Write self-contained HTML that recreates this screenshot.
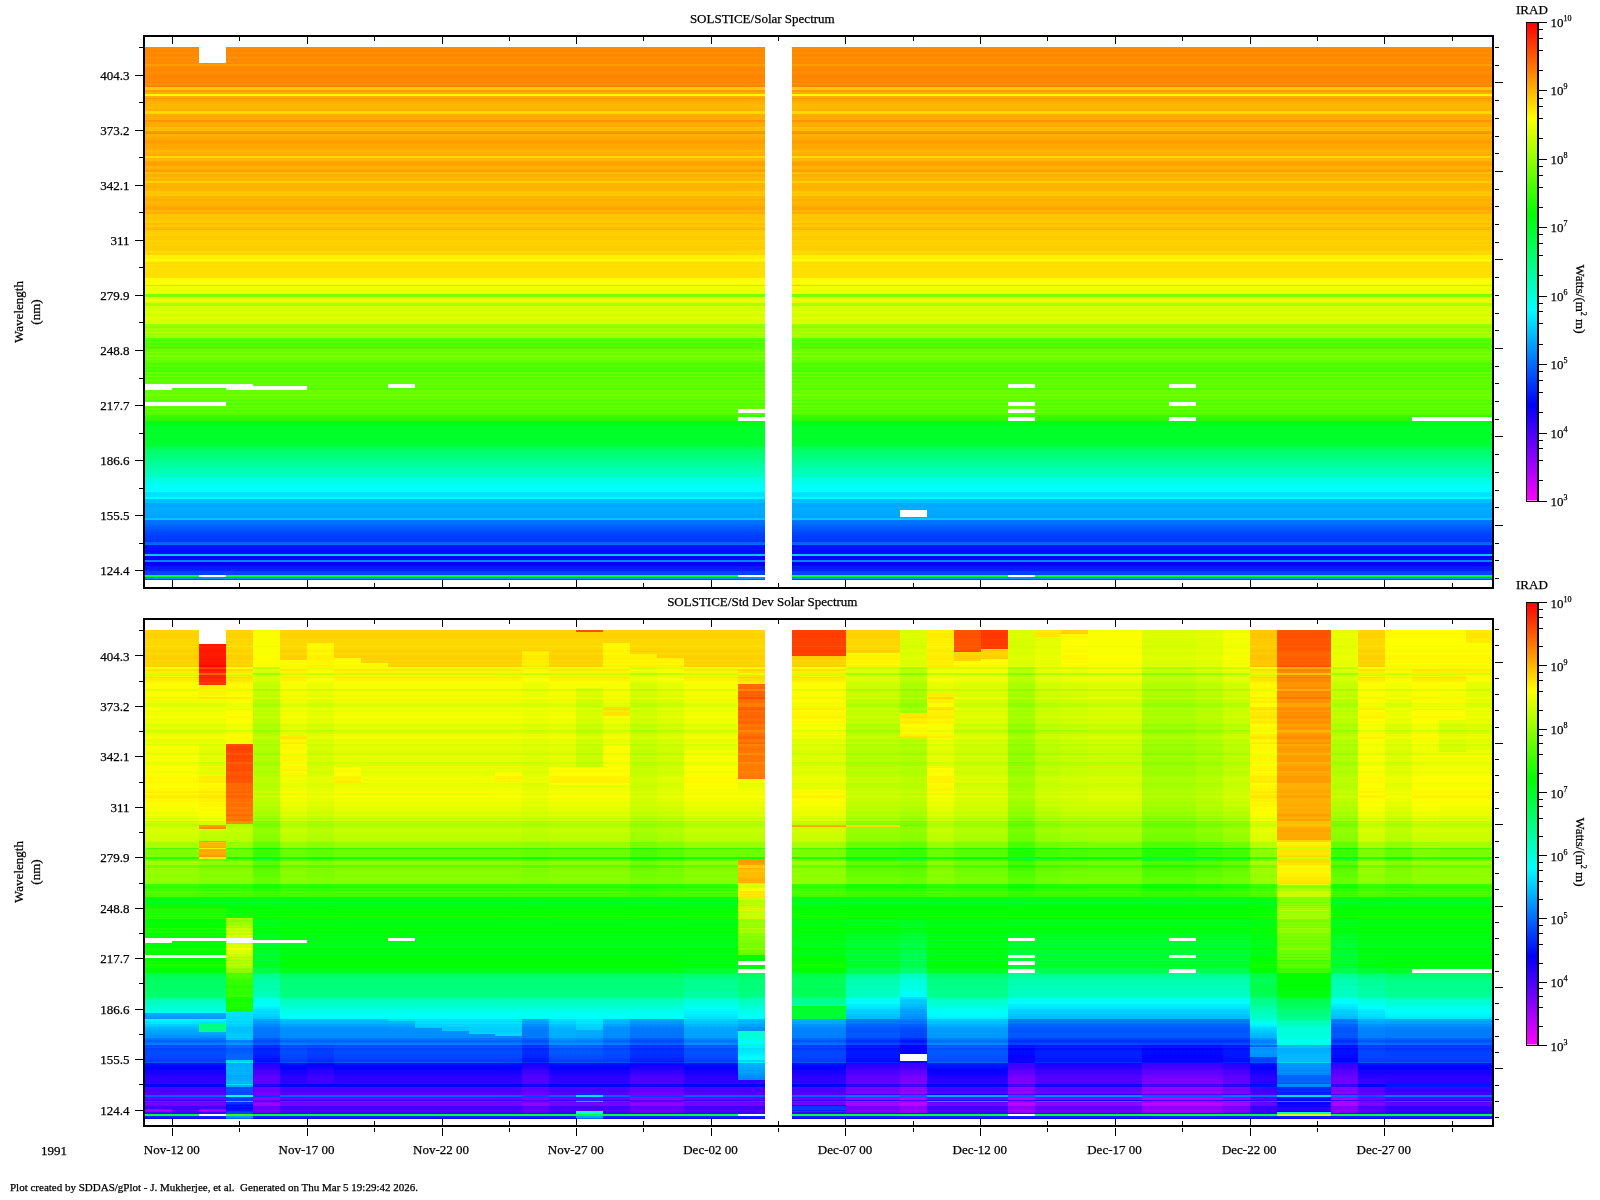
<!DOCTYPE html>
<html><head><meta charset="utf-8"><title>SOLSTICE Solar Spectrum</title>
<style>html,body{margin:0;padding:0;background:#fff}body{width:1600px;height:1200px;overflow:hidden;position:relative}svg{position:absolute;left:0;top:0}text{font-family:"Liberation Serif",serif;font-size:13px;fill:#000;stroke:#000;stroke-width:.25px}.s{font-size:8px}.f{font-size:11px}.d{shape-rendering:crispEdges}</style></head><body>
<svg width="1600" height="1200" viewBox="0 0 1600 1200">
<g class="d">
<rect x="145" y="47.00" width="1347.6" height="2.00" fill="#ff8a00"/>
<rect x="145" y="48.70" width="1347.6" height="2.00" fill="#ff8c00"/>
<rect x="145" y="50.40" width="1347.6" height="2.00" fill="#ff8600"/>
<rect x="145" y="52.10" width="1347.6" height="2.00" fill="#ff8d00"/>
<rect x="145" y="53.80" width="1347.6" height="2.00" fill="#ff8700"/>
<rect x="145" y="55.50" width="1347.6" height="2.00" fill="#ff8a00"/>
<rect x="145" y="57.20" width="1347.6" height="2.00" fill="#ff8e00"/>
<rect x="145" y="58.90" width="1347.6" height="2.00" fill="#ff8800"/>
<rect x="145" y="60.60" width="1347.6" height="2.00" fill="#ff8e00"/>
<rect x="145" y="62.30" width="1347.6" height="2.00" fill="#ff8900"/>
<rect x="145" y="64.00" width="1347.6" height="1.80" fill="#ff9c00"/>
<rect x="145" y="65.50" width="1347.6" height="2.09" fill="#ff8d00"/>
<rect x="145" y="67.29" width="1347.6" height="2.09" fill="#ff8900"/>
<rect x="145" y="69.08" width="1347.6" height="2.09" fill="#ff8400"/>
<rect x="145" y="70.88" width="1347.6" height="2.09" fill="#ff8d00"/>
<rect x="145" y="72.67" width="1347.6" height="2.09" fill="#ff8b00"/>
<rect x="145" y="74.46" width="1347.6" height="2.09" fill="#ff8600"/>
<rect x="145" y="76.25" width="1347.6" height="2.09" fill="#ff8200"/>
<rect x="145" y="78.04" width="1347.6" height="2.09" fill="#ff8700"/>
<rect x="145" y="79.83" width="1347.6" height="2.09" fill="#ff8900"/>
<rect x="145" y="81.62" width="1347.6" height="2.09" fill="#ff8200"/>
<rect x="145" y="83.42" width="1347.6" height="2.09" fill="#ff8e00"/>
<rect x="145" y="85.21" width="1347.6" height="2.09" fill="#ff8300"/>
<rect x="145" y="87.00" width="1347.6" height="1.80" fill="#ffcb00"/>
<rect x="145" y="88.50" width="1347.6" height="1.80" fill="#ffcc00"/>
<rect x="145" y="90.00" width="1347.6" height="2.30" fill="#ff9b00"/>
<rect x="145" y="92.00" width="1347.6" height="2.30" fill="#ffad00"/>
<rect x="145" y="94.00" width="1347.6" height="2.30" fill="#fffb00"/>
<rect x="145" y="96.00" width="1347.6" height="2.30" fill="#ffaf00"/>
<rect x="145" y="98.00" width="1347.6" height="1.30" fill="#ff9500"/>
<rect x="145" y="99.00" width="1347.6" height="1.95" fill="#ffa900"/>
<rect x="145" y="100.65" width="1347.6" height="1.95" fill="#ffac00"/>
<rect x="145" y="102.30" width="1347.6" height="2.10" fill="#ffb200"/>
<rect x="145" y="104.10" width="1347.6" height="3.90" fill="#ffb800"/>
<rect x="145" y="107.70" width="1347.6" height="2.10" fill="#ffb600"/>
<rect x="145" y="109.50" width="1347.6" height="2.10" fill="#ffb000"/>
<rect x="145" y="111.30" width="1347.6" height="2.90" fill="#ffd800"/>
<rect x="145" y="113.90" width="1347.6" height="1.90" fill="#ffac00"/>
<rect x="145" y="115.50" width="1347.6" height="1.90" fill="#ffa900"/>
<rect x="145" y="117.10" width="1347.6" height="1.90" fill="#ffab00"/>
<rect x="145" y="118.70" width="1347.6" height="1.90" fill="#ffad00"/>
<rect x="145" y="120.30" width="1347.6" height="2.30" fill="#ff9300"/>
<rect x="145" y="122.30" width="1347.6" height="1.80" fill="#ffa800"/>
<rect x="145" y="123.80" width="1347.6" height="1.80" fill="#ffae00"/>
<rect x="145" y="125.30" width="1347.6" height="1.80" fill="#ffaa00"/>
<rect x="145" y="126.80" width="1347.6" height="1.80" fill="#ffbf00"/>
<rect x="145" y="128.30" width="1347.6" height="1.80" fill="#ffba00"/>
<rect x="145" y="129.80" width="1347.6" height="1.80" fill="#ffbc00"/>
<rect x="145" y="131.30" width="1347.6" height="1.80" fill="#ff9900"/>
<rect x="145" y="132.80" width="1347.6" height="1.80" fill="#ff9000"/>
<rect x="145" y="134.30" width="1347.6" height="2.03" fill="#ffb000"/>
<rect x="145" y="136.03" width="1347.6" height="2.03" fill="#ffac00"/>
<rect x="145" y="137.77" width="1347.6" height="2.03" fill="#ffa800"/>
<rect x="145" y="139.50" width="1347.6" height="1.80" fill="#ffa000"/>
<rect x="145" y="141.00" width="1347.6" height="1.80" fill="#ff9c00"/>
<rect x="145" y="142.50" width="1347.6" height="1.80" fill="#ffa100"/>
<rect x="145" y="144.00" width="1347.6" height="2.30" fill="#ffa900"/>
<rect x="145" y="146.00" width="1347.6" height="2.30" fill="#ffa700"/>
<rect x="145" y="148.00" width="1347.6" height="2.30" fill="#ffaa00"/>
<rect x="145" y="150.00" width="1347.6" height="2.60" fill="#ffba00"/>
<rect x="145" y="152.30" width="1347.6" height="2.15" fill="#ffb200"/>
<rect x="145" y="154.15" width="1347.6" height="2.15" fill="#ffad00"/>
<rect x="145" y="156.00" width="1347.6" height="2.60" fill="#ffda00"/>
<rect x="145" y="158.30" width="1347.6" height="2.50" fill="#ffb900"/>
<rect x="145" y="160.50" width="1347.6" height="2.07" fill="#ffa600"/>
<rect x="145" y="162.27" width="1347.6" height="2.07" fill="#ffa100"/>
<rect x="145" y="164.03" width="1347.6" height="2.07" fill="#ffa000"/>
<rect x="145" y="165.80" width="1347.6" height="1.80" fill="#ffb500"/>
<rect x="145" y="167.30" width="1347.6" height="1.80" fill="#ffb300"/>
<rect x="145" y="168.80" width="1347.6" height="1.80" fill="#ffa600"/>
<rect x="145" y="170.30" width="1347.6" height="1.80" fill="#ff9e00"/>
<rect x="145" y="171.80" width="1347.6" height="2.50" fill="#ffc100"/>
<rect x="145" y="174.00" width="1347.6" height="2.00" fill="#ffaf00"/>
<rect x="145" y="175.70" width="1347.6" height="2.00" fill="#ffb100"/>
<rect x="145" y="177.40" width="1347.6" height="2.00" fill="#ffb800"/>
<rect x="145" y="179.10" width="1347.6" height="2.00" fill="#ffb700"/>
<rect x="145" y="180.80" width="1347.6" height="2.90" fill="#ffcf00"/>
<rect x="145" y="183.40" width="1347.6" height="2.27" fill="#ffb600"/>
<rect x="145" y="185.38" width="1347.6" height="2.28" fill="#ffb000"/>
<rect x="145" y="187.35" width="1347.6" height="2.27" fill="#ffb400"/>
<rect x="145" y="189.33" width="1347.6" height="2.27" fill="#ffb500"/>
<rect x="145" y="191.30" width="1347.6" height="1.80" fill="#ffc900"/>
<rect x="145" y="192.80" width="1347.6" height="1.80" fill="#ffc000"/>
<rect x="145" y="194.30" width="1347.6" height="1.80" fill="#ffc800"/>
<rect x="145" y="195.80" width="1347.6" height="2.05" fill="#ffb600"/>
<rect x="145" y="197.55" width="1347.6" height="2.05" fill="#ffb400"/>
<rect x="145" y="199.30" width="1347.6" height="2.05" fill="#ffae00"/>
<rect x="145" y="201.05" width="1347.6" height="2.05" fill="#ffb800"/>
<rect x="145" y="202.80" width="1347.6" height="2.05" fill="#ffb300"/>
<rect x="145" y="204.55" width="1347.6" height="2.05" fill="#ffb200"/>
<rect x="145" y="206.30" width="1347.6" height="2.00" fill="#ffa600"/>
<rect x="145" y="208.00" width="1347.6" height="2.30" fill="#ffa700"/>
<rect x="145" y="210.00" width="1347.6" height="2.30" fill="#ffb600"/>
<rect x="145" y="212.00" width="1347.6" height="2.30" fill="#ffae00"/>
<rect x="145" y="214.00" width="1347.6" height="2.30" fill="#ffc500"/>
<rect x="145" y="216.00" width="1347.6" height="2.30" fill="#ffc600"/>
<rect x="145" y="218.00" width="1347.6" height="1.97" fill="#ffc500"/>
<rect x="145" y="219.67" width="1347.6" height="1.97" fill="#ffc400"/>
<rect x="145" y="221.33" width="1347.6" height="1.97" fill="#ffce00"/>
<rect x="145" y="223.00" width="1347.6" height="2.30" fill="#ffbe00"/>
<rect x="145" y="225.00" width="1347.6" height="2.30" fill="#ffca00"/>
<rect x="145" y="227.00" width="1347.6" height="1.80" fill="#ffbb00"/>
<rect x="145" y="228.50" width="1347.6" height="1.80" fill="#ffb800"/>
<rect x="145" y="230.00" width="1347.6" height="2.30" fill="#ffcb00"/>
<rect x="145" y="232.00" width="1347.6" height="2.30" fill="#ffcf00"/>
<rect x="145" y="234.00" width="1347.6" height="2.30" fill="#ffd200"/>
<rect x="145" y="236.00" width="1347.6" height="2.30" fill="#ffca00"/>
<rect x="145" y="238.00" width="1347.6" height="2.30" fill="#ffcb00"/>
<rect x="145" y="240.00" width="1347.6" height="2.30" fill="#ffd300"/>
<rect x="145" y="242.00" width="1347.6" height="2.30" fill="#ffce00"/>
<rect x="145" y="244.00" width="1347.6" height="2.30" fill="#ffd100"/>
<rect x="145" y="246.00" width="1347.6" height="2.30" fill="#ffce00"/>
<rect x="145" y="248.00" width="1347.6" height="2.30" fill="#ffcd00"/>
<rect x="145" y="250.00" width="1347.6" height="1.97" fill="#ffd700"/>
<rect x="145" y="251.67" width="1347.6" height="1.97" fill="#ffde00"/>
<rect x="145" y="253.33" width="1347.6" height="1.97" fill="#ffd400"/>
<rect x="145" y="255.00" width="1347.6" height="2.30" fill="#fff100"/>
<rect x="145" y="257.00" width="1347.6" height="2.30" fill="#fff000"/>
<rect x="145" y="259.00" width="1347.6" height="2.30" fill="#fffb00"/>
<rect x="145" y="261.00" width="1347.6" height="1.30" fill="#fff100"/>
<rect x="145" y="262.00" width="1347.6" height="2.08" fill="#ffdd00"/>
<rect x="145" y="263.78" width="1347.6" height="2.08" fill="#ffe000"/>
<rect x="145" y="265.56" width="1347.6" height="2.08" fill="#ffda00"/>
<rect x="145" y="267.33" width="1347.6" height="3.86" fill="#ffe100"/>
<rect x="145" y="270.89" width="1347.6" height="2.08" fill="#ffdf00"/>
<rect x="145" y="272.67" width="1347.6" height="2.08" fill="#ffe000"/>
<rect x="145" y="274.44" width="1347.6" height="2.08" fill="#ffdd00"/>
<rect x="145" y="276.22" width="1347.6" height="2.08" fill="#ffe100"/>
<rect x="145" y="278.00" width="1347.6" height="2.05" fill="#f9ff00"/>
<rect x="145" y="279.75" width="1347.6" height="2.05" fill="#fbff00"/>
<rect x="145" y="281.50" width="1347.6" height="2.05" fill="#faff00"/>
<rect x="145" y="283.25" width="1347.6" height="2.05" fill="#fdff00"/>
<rect x="145" y="285.00" width="1347.6" height="1.30" fill="#a5ff00"/>
<rect x="145" y="286.00" width="1347.6" height="1.90" fill="#f4ff00"/>
<rect x="145" y="287.60" width="1347.6" height="1.90" fill="#f1ff00"/>
<rect x="145" y="289.20" width="1347.6" height="1.90" fill="#ebff00"/>
<rect x="145" y="290.80" width="1347.6" height="1.90" fill="#edff00"/>
<rect x="145" y="292.40" width="1347.6" height="1.90" fill="#eeff00"/>
<rect x="145" y="294.00" width="1347.6" height="1.80" fill="#7eff00"/>
<rect x="145" y="295.50" width="1347.6" height="1.80" fill="#7bff00"/>
<rect x="145" y="297.00" width="1347.6" height="2.30" fill="#e5ff00"/>
<rect x="145" y="299.00" width="1347.6" height="2.30" fill="#e7ff00"/>
<rect x="145" y="301.00" width="1347.6" height="2.30" fill="#e0ff00"/>
<rect x="145" y="303.00" width="1347.6" height="1.80" fill="#abff00"/>
<rect x="145" y="304.50" width="1347.6" height="1.80" fill="#a6ff00"/>
<rect x="145" y="306.00" width="1347.6" height="2.10" fill="#d6ff00"/>
<rect x="145" y="307.80" width="1347.6" height="2.10" fill="#d9ff00"/>
<rect x="145" y="309.60" width="1347.6" height="2.10" fill="#d8ff00"/>
<rect x="145" y="311.40" width="1347.6" height="2.10" fill="#dfff00"/>
<rect x="145" y="313.20" width="1347.6" height="2.10" fill="#d7ff00"/>
<rect x="145" y="315.00" width="1347.6" height="2.10" fill="#d5ff00"/>
<rect x="145" y="316.80" width="1347.6" height="2.10" fill="#e1ff00"/>
<rect x="145" y="318.60" width="1347.6" height="2.10" fill="#dcff00"/>
<rect x="145" y="320.40" width="1347.6" height="2.10" fill="#d7ff00"/>
<rect x="145" y="322.20" width="1347.6" height="2.10" fill="#dcff00"/>
<rect x="145" y="324.00" width="1347.6" height="2.30" fill="#9dff00"/>
<rect x="145" y="326.00" width="1347.6" height="2.30" fill="#8dff00"/>
<rect x="145" y="328.00" width="1347.6" height="2.30" fill="#a3ff00"/>
<rect x="145" y="330.00" width="1347.6" height="1.90" fill="#9fff00"/>
<rect x="145" y="331.60" width="1347.6" height="1.90" fill="#b6ff00"/>
<rect x="145" y="333.20" width="1347.6" height="1.90" fill="#a3ff00"/>
<rect x="145" y="334.80" width="1347.6" height="1.90" fill="#b4ff00"/>
<rect x="145" y="336.40" width="1347.6" height="1.90" fill="#a3ff00"/>
<rect x="145" y="338.00" width="1347.6" height="2.01" fill="#5aff00"/>
<rect x="145" y="339.71" width="1347.6" height="2.01" fill="#45ff00"/>
<rect x="145" y="341.43" width="1347.6" height="2.01" fill="#5aff00"/>
<rect x="145" y="343.14" width="1347.6" height="2.01" fill="#47ff00"/>
<rect x="145" y="344.86" width="1347.6" height="2.01" fill="#57ff00"/>
<rect x="145" y="346.57" width="1347.6" height="2.01" fill="#44ff00"/>
<rect x="145" y="348.29" width="1347.6" height="2.01" fill="#5cff00"/>
<rect x="145" y="350.00" width="1347.6" height="2.01" fill="#67ff00"/>
<rect x="145" y="351.71" width="1347.6" height="2.01" fill="#7eff00"/>
<rect x="145" y="353.43" width="1347.6" height="2.01" fill="#67ff00"/>
<rect x="145" y="355.14" width="1347.6" height="2.01" fill="#7eff00"/>
<rect x="145" y="356.86" width="1347.6" height="2.01" fill="#6bff00"/>
<rect x="145" y="358.57" width="1347.6" height="2.01" fill="#7cff00"/>
<rect x="145" y="360.29" width="1347.6" height="2.01" fill="#6aff00"/>
<rect x="145" y="362.00" width="1347.6" height="1.97" fill="#56ff00"/>
<rect x="145" y="363.67" width="1347.6" height="1.97" fill="#48ff00"/>
<rect x="145" y="365.33" width="1347.6" height="1.97" fill="#57ff00"/>
<rect x="145" y="367.00" width="1347.6" height="1.97" fill="#47ff00"/>
<rect x="145" y="368.67" width="1347.6" height="1.97" fill="#5aff00"/>
<rect x="145" y="370.33" width="1347.6" height="1.97" fill="#43ff00"/>
<rect x="145" y="372.00" width="1347.6" height="2.12" fill="#68ff00"/>
<rect x="145" y="373.82" width="1347.6" height="2.12" fill="#52ff00"/>
<rect x="145" y="375.64" width="1347.6" height="2.12" fill="#6bff00"/>
<rect x="145" y="377.45" width="1347.6" height="2.12" fill="#52ff00"/>
<rect x="145" y="379.27" width="1347.6" height="2.12" fill="#67ff00"/>
<rect x="145" y="381.09" width="1347.6" height="2.12" fill="#57ff00"/>
<rect x="145" y="382.91" width="1347.6" height="2.12" fill="#66ff00"/>
<rect x="145" y="384.73" width="1347.6" height="2.12" fill="#57ff00"/>
<rect x="145" y="386.55" width="1347.6" height="2.12" fill="#66ff00"/>
<rect x="145" y="388.36" width="1347.6" height="2.12" fill="#54ff00"/>
<rect x="145" y="390.18" width="1347.6" height="2.12" fill="#6aff00"/>
<rect x="145" y="392.00" width="1347.6" height="2.30" fill="#62ff00"/>
<rect x="145" y="394.00" width="1347.6" height="2.30" fill="#77ff00"/>
<rect x="145" y="396.00" width="1347.6" height="2.30" fill="#63ff00"/>
<rect x="145" y="398.00" width="1347.6" height="2.00" fill="#65ff00"/>
<rect x="145" y="399.70" width="1347.6" height="2.00" fill="#52ff00"/>
<rect x="145" y="401.40" width="1347.6" height="2.00" fill="#64ff00"/>
<rect x="145" y="403.10" width="1347.6" height="2.00" fill="#4dff00"/>
<rect x="145" y="404.80" width="1347.6" height="2.00" fill="#65ff00"/>
<rect x="145" y="406.50" width="1347.6" height="2.00" fill="#4eff00"/>
<rect x="145" y="408.20" width="1347.6" height="2.00" fill="#63ff00"/>
<rect x="145" y="409.90" width="1347.6" height="2.00" fill="#52ff00"/>
<rect x="145" y="411.60" width="1347.6" height="2.00" fill="#65ff00"/>
<rect x="145" y="413.30" width="1347.6" height="2.00" fill="#51ff00"/>
<rect x="145" y="415.00" width="1347.6" height="2.30" fill="#34ff00"/>
<rect x="145" y="417.00" width="1347.6" height="2.30" fill="#2fff00"/>
<rect x="145" y="419.00" width="1347.6" height="2.30" fill="#27ff00"/>
<rect x="145" y="421.00" width="1347.6" height="2.10" fill="#00ff13"/>
<rect x="145" y="422.80" width="1347.6" height="2.10" fill="#00ff11"/>
<rect x="145" y="424.60" width="1347.6" height="2.10" fill="#00ff19"/>
<rect x="145" y="426.40" width="1347.6" height="2.10" fill="#00ff25"/>
<rect x="145" y="428.20" width="1347.6" height="2.10" fill="#00ff2b"/>
<rect x="145" y="430.00" width="1347.6" height="2.00" fill="#00ff2e"/>
<rect x="145" y="431.70" width="1347.6" height="2.00" fill="#00ff25"/>
<rect x="145" y="433.40" width="1347.6" height="2.00" fill="#00ff27"/>
<rect x="145" y="435.10" width="1347.6" height="2.00" fill="#00ff31"/>
<rect x="145" y="436.80" width="1347.6" height="2.00" fill="#00ff29"/>
<rect x="145" y="438.50" width="1347.6" height="2.00" fill="#00ff28"/>
<rect x="145" y="440.20" width="1347.6" height="2.00" fill="#00ff2d"/>
<rect x="145" y="441.90" width="1347.6" height="2.00" fill="#00ff32"/>
<rect x="145" y="443.60" width="1347.6" height="2.00" fill="#00ff31"/>
<rect x="145" y="445.30" width="1347.6" height="2.00" fill="#00ff37"/>
<rect x="145" y="447.00" width="1347.6" height="0.40" fill="#00ff39"/>
<rect x="145" y="447.10" width="1347.6" height="2.14" fill="#00ff59"/>
<rect x="145" y="448.94" width="1347.6" height="2.14" fill="#00ff64"/>
<rect x="145" y="450.79" width="1347.6" height="2.14" fill="#00ff6d"/>
<rect x="145" y="452.63" width="1347.6" height="2.14" fill="#00ff6e"/>
<rect x="145" y="454.47" width="1347.6" height="2.14" fill="#00ff7c"/>
<rect x="145" y="456.31" width="1347.6" height="2.14" fill="#00ff7d"/>
<rect x="145" y="458.16" width="1347.6" height="2.14" fill="#00ff85"/>
<rect x="145" y="460.00" width="1347.6" height="2.17" fill="#00ff93"/>
<rect x="145" y="461.88" width="1347.6" height="2.17" fill="#00ff99"/>
<rect x="145" y="463.75" width="1347.6" height="2.17" fill="#00ff9f"/>
<rect x="145" y="465.62" width="1347.6" height="2.17" fill="#00ffa6"/>
<rect x="145" y="467.50" width="1347.6" height="2.17" fill="#00ffa8"/>
<rect x="145" y="469.38" width="1347.6" height="2.17" fill="#00ffb2"/>
<rect x="145" y="471.25" width="1347.6" height="2.17" fill="#00ffb7"/>
<rect x="145" y="473.12" width="1347.6" height="2.17" fill="#00ffc1"/>
<rect x="145" y="475.00" width="1347.6" height="1.97" fill="#00ffc0"/>
<rect x="145" y="476.67" width="1347.6" height="1.97" fill="#00ffd4"/>
<rect x="145" y="478.33" width="1347.6" height="1.97" fill="#00ffe0"/>
<rect x="145" y="480.00" width="1347.6" height="2.30" fill="#00ffe8"/>
<rect x="145" y="482.00" width="1347.6" height="2.30" fill="#00ffec"/>
<rect x="145" y="484.00" width="1347.6" height="2.30" fill="#00fff8"/>
<rect x="145" y="486.00" width="1347.6" height="2.30" fill="#00fff7"/>
<rect x="145" y="488.00" width="1347.6" height="4.30" fill="#00ffff"/>
<rect x="145" y="492.00" width="1347.6" height="1.97" fill="#00e6ff"/>
<rect x="145" y="493.67" width="1347.6" height="1.97" fill="#00dfff"/>
<rect x="145" y="495.33" width="1347.6" height="1.97" fill="#00e5ff"/>
<rect x="145" y="497.00" width="1347.6" height="2.30" fill="#00fbff"/>
<rect x="145" y="499.00" width="1347.6" height="2.30" fill="#00c0ff"/>
<rect x="145" y="501.00" width="1347.6" height="2.30" fill="#00beff"/>
<rect x="145" y="503.00" width="1347.6" height="2.30" fill="#00aaff"/>
<rect x="145" y="505.00" width="1347.6" height="2.05" fill="#00a9ff"/>
<rect x="145" y="506.75" width="1347.6" height="2.05" fill="#00adff"/>
<rect x="145" y="508.50" width="1347.6" height="2.05" fill="#00acff"/>
<rect x="145" y="510.25" width="1347.6" height="3.88" fill="#00abff"/>
<rect x="145" y="513.83" width="1347.6" height="2.13" fill="#00a6ff"/>
<rect x="145" y="515.67" width="1347.6" height="2.13" fill="#00a4ff"/>
<rect x="145" y="517.50" width="1347.6" height="0.80" fill="#0099ff"/>
<rect x="145" y="518.00" width="1347.6" height="1.80" fill="#00c8ff"/>
<rect x="145" y="519.50" width="1347.6" height="2.13" fill="#0078ff"/>
<rect x="145" y="521.33" width="1347.6" height="2.13" fill="#0070ff"/>
<rect x="145" y="523.17" width="1347.6" height="2.13" fill="#006eff"/>
<rect x="145" y="525.00" width="1347.6" height="2.05" fill="#0062ff"/>
<rect x="145" y="526.75" width="1347.6" height="2.05" fill="#005bff"/>
<rect x="145" y="528.50" width="1347.6" height="2.05" fill="#0056ff"/>
<rect x="145" y="530.25" width="1347.6" height="2.05" fill="#0050ff"/>
<rect x="145" y="532.00" width="1347.6" height="1.95" fill="#0045ff"/>
<rect x="145" y="533.65" width="1347.6" height="1.95" fill="#0044ff"/>
<rect x="145" y="535.30" width="1347.6" height="1.95" fill="#003fff"/>
<rect x="145" y="536.95" width="1347.6" height="1.95" fill="#003cff"/>
<rect x="145" y="538.60" width="1347.6" height="1.95" fill="#003bff"/>
<rect x="145" y="540.25" width="1347.6" height="1.95" fill="#0034ff"/>
<rect x="145" y="541.90" width="1347.6" height="0.40" fill="#0033ff"/>
<rect x="145" y="542.00" width="1347.6" height="1.80" fill="#0063ff"/>
<rect x="145" y="543.50" width="1347.6" height="1.80" fill="#0069ff"/>
<rect x="145" y="545.00" width="1347.6" height="2.04" fill="#0012ff"/>
<rect x="145" y="546.74" width="1347.6" height="2.04" fill="#0014ff"/>
<rect x="145" y="548.48" width="1347.6" height="2.04" fill="#0015ff"/>
<rect x="145" y="550.22" width="1347.6" height="2.04" fill="#000cff"/>
<rect x="145" y="551.96" width="1347.6" height="2.04" fill="#0010ff"/>
<rect x="145" y="553.70" width="1347.6" height="2.60" fill="#00c5ff"/>
<rect x="145" y="556.00" width="1347.6" height="2.30" fill="#0004ff"/>
<rect x="145" y="558.00" width="1347.6" height="2.30" fill="#0500ff"/>
<rect x="145" y="560.00" width="1347.6" height="2.30" fill="#0087ff"/>
<rect x="145" y="562.00" width="1347.6" height="2.30" fill="#0100ff"/>
<rect x="145" y="564.00" width="1347.6" height="2.30" fill="#0500ff"/>
<rect x="145" y="566.00" width="1347.6" height="1.97" fill="#001bff"/>
<rect x="145" y="567.67" width="1347.6" height="1.97" fill="#0019ff"/>
<rect x="145" y="569.33" width="1347.6" height="1.97" fill="#0021ff"/>
<rect x="145" y="571.00" width="1347.6" height="2.30" fill="#0041ff"/>
<rect x="145" y="573.00" width="1347.6" height="2.30" fill="#0042ff"/>
<rect x="145" y="575.00" width="1347.6" height="2.30" fill="#00ff23"/>
<rect x="145" y="577.00" width="1347.6" height="2.30" fill="#008fff"/>
<rect x="145" y="579.00" width="1347.6" height="1.30" fill="#0051ff"/>
<rect x="765.0" y="40.0" width="27.0" height="546.0" fill="#fff"/>
<rect x="199.0" y="46.0" width="27.0" height="17.0" fill="#fff"/>
<rect x="145.1" y="384.0" width="27.0" height="6.0" fill="#fff"/>
<rect x="172.1" y="384.0" width="53.9" height="4.0" fill="#fff"/>
<rect x="226.0" y="384.0" width="27.0" height="6.0" fill="#fff"/>
<rect x="252.9" y="386.0" width="53.9" height="4.0" fill="#fff"/>
<rect x="387.7" y="384.0" width="27.0" height="4.0" fill="#fff"/>
<rect x="145.1" y="402.0" width="80.9" height="4.0" fill="#fff"/>
<rect x="738.0" y="409.0" width="27.0" height="4.0" fill="#fff"/>
<rect x="738.0" y="417.0" width="27.0" height="4.0" fill="#fff"/>
<rect x="1007.6" y="384.0" width="27.0" height="4.0" fill="#fff"/>
<rect x="1007.6" y="402.0" width="27.0" height="4.0" fill="#fff"/>
<rect x="1007.6" y="409.0" width="27.0" height="4.0" fill="#fff"/>
<rect x="1007.6" y="417.0" width="27.0" height="4.0" fill="#fff"/>
<rect x="1169.3" y="384.0" width="27.0" height="4.0" fill="#fff"/>
<rect x="1169.3" y="402.0" width="27.0" height="4.0" fill="#fff"/>
<rect x="1169.3" y="417.0" width="27.0" height="4.0" fill="#fff"/>
<rect x="1411.8" y="417.0" width="80.9" height="4.0" fill="#fff"/>
<rect x="899.8" y="510.0" width="27.0" height="7.0" fill="#fff"/>
<rect x="199.0" y="575.0" width="27.0" height="2.0" fill="#fff"/>
<rect x="738.0" y="575.0" width="27.0" height="2.0" fill="#fff"/>
<rect x="1007.6" y="575.0" width="27.0" height="2.0" fill="#fff"/>
</g>
<defs><filter id="cm" x="0" y="0" width="1" height="1" color-interpolation-filters="sRGB"><feComponentTransfer><feFuncR type="table" tableValues="1 .5 0 0 0 0 0 .5 1 1 1 1 1 1"/><feFuncG type="table" tableValues="0 0 0 .5 1 1 1 1 1 .5 0 0 0 0"/><feFuncB type="table" tableValues="1 1 1 1 1 .5 0 0 0 0 0 0 0 0"/></feComponentTransfer></filter>
<linearGradient id="d0" gradientUnits="userSpaceOnUse" x1="0" x2="0" y1="629.9" y2="1119"><stop offset="0.0000" stop-color="#333333"/><stop offset="0.0002" stop-color="#333333"/><stop offset="0.0002" stop-color="#333333"/><stop offset="0.0750" stop-color="#333333"/><stop offset="0.0750" stop-color="#323232"/><stop offset="0.1024" stop-color="#313131"/><stop offset="0.1024" stop-color="#313131"/><stop offset="0.1270" stop-color="#343434"/><stop offset="0.1270" stop-color="#343434"/><stop offset="0.1433" stop-color="#363636"/><stop offset="0.1433" stop-color="#373737"/><stop offset="0.2353" stop-color="#373737"/><stop offset="0.2353" stop-color="#343434"/><stop offset="0.2967" stop-color="#343434"/><stop offset="0.2967" stop-color="#343434"/><stop offset="0.3273" stop-color="#2f2f2f"/><stop offset="0.3273" stop-color="#2f2f2f"/><stop offset="0.3478" stop-color="#2e2e2e"/><stop offset="0.3478" stop-color="#2e2e2e"/><stop offset="0.3785" stop-color="#313131"/><stop offset="0.3785" stop-color="#313131"/><stop offset="0.4398" stop-color="#343434"/><stop offset="0.4398" stop-color="#343434"/><stop offset="0.4459" stop-color="#343434"/><stop offset="0.4459" stop-color="#343434"/><stop offset="0.4461" stop-color="#373737"/><stop offset="0.4461" stop-color="#383838"/><stop offset="0.4705" stop-color="#383838"/><stop offset="0.4705" stop-color="#383838"/><stop offset="0.4725" stop-color="#383838"/><stop offset="0.4725" stop-color="#373737"/><stop offset="0.4727" stop-color="#323232"/><stop offset="0.4727" stop-color="#313131"/><stop offset="0.5175" stop-color="#333333"/><stop offset="0.5175" stop-color="#333333"/><stop offset="0.5216" stop-color="#363636"/><stop offset="0.5216" stop-color="#363636"/><stop offset="0.5481" stop-color="#363636"/><stop offset="0.5481" stop-color="#363636"/><stop offset="0.5625" stop-color="#373737"/><stop offset="0.5625" stop-color="#343434"/><stop offset="0.6136" stop-color="#333333"/><stop offset="0.6136" stop-color="#333333"/><stop offset="0.6442" stop-color="#373737"/><stop offset="0.6442" stop-color="#373737"/><stop offset="0.6749" stop-color="#343434"/><stop offset="0.6749" stop-color="#343434"/><stop offset="0.6954" stop-color="#303030"/><stop offset="0.6954" stop-color="#303030"/><stop offset="0.7567" stop-color="#313131"/><stop offset="0.7567" stop-color="#343434"/><stop offset="0.7823" stop-color="#343434"/><stop offset="0.7823" stop-color="#444444"/><stop offset="0.7949" stop-color="#434343"/><stop offset="0.7949" stop-color="#2b2b2b"/><stop offset="0.7951" stop-color="#323232"/><stop offset="0.7951" stop-color="#333333"/><stop offset="0.8323" stop-color="#383838"/><stop offset="0.8323" stop-color="#383838"/><stop offset="0.8385" stop-color="#3a3a3a"/><stop offset="0.8385" stop-color="#3a3a3a"/><stop offset="0.8426" stop-color="#3b3b3b"/><stop offset="0.8426" stop-color="#3b3b3b"/><stop offset="0.8630" stop-color="#363636"/><stop offset="0.8630" stop-color="#363636"/><stop offset="0.8835" stop-color="#373737"/><stop offset="0.8835" stop-color="#373737"/><stop offset="0.8957" stop-color="#383838"/><stop offset="0.8957" stop-color="#383838"/><stop offset="0.9203" stop-color="#383838"/><stop offset="0.9203" stop-color="#383838"/><stop offset="0.9407" stop-color="#353535"/><stop offset="0.9407" stop-color="#353535"/><stop offset="0.9571" stop-color="#383838"/><stop offset="0.9571" stop-color="#383838"/><stop offset="0.9612" stop-color="#383838"/><stop offset="0.9612" stop-color="#383838"/><stop offset="0.9614" stop-color="#303030"/><stop offset="0.9614" stop-color="#2f2f2f"/><stop offset="0.9661" stop-color="#2f2f2f"/><stop offset="0.9661" stop-color="#303030"/><stop offset="0.9663" stop-color="#383838"/><stop offset="0.9663" stop-color="#393939"/><stop offset="0.9693" stop-color="#3a3a3a"/><stop offset="0.9693" stop-color="#3a3a3a"/><stop offset="0.9775" stop-color="#353535"/><stop offset="0.9775" stop-color="#353535"/><stop offset="0.9796" stop-color="#353535"/><stop offset="0.9796" stop-color="#414141"/><stop offset="0.9824" stop-color="#414141"/><stop offset="0.9824" stop-color="#424242"/><stop offset="0.9826" stop-color="#454545"/><stop offset="0.9826" stop-color="#464646"/><stop offset="0.9857" stop-color="#464646"/><stop offset="0.9857" stop-color="#3a3a3a"/><stop offset="0.9898" stop-color="#3a3a3a"/><stop offset="0.9898" stop-color="#393939"/><stop offset="0.9900" stop-color="#2e2e2e"/><stop offset="0.9900" stop-color="#2c2c2c"/><stop offset="0.9937" stop-color="#2c2c2c"/><stop offset="0.9937" stop-color="#2d2d2d"/><stop offset="0.9939" stop-color="#363636"/><stop offset="0.9939" stop-color="#373737"/><stop offset="1.0000" stop-color="#373737"/></linearGradient>
<linearGradient id="d1" gradientUnits="userSpaceOnUse" x1="0" x2="0" y1="629.9" y2="1119"><stop offset="0.0000" stop-color="#333333"/><stop offset="0.0002" stop-color="#333333"/><stop offset="0.0002" stop-color="#333333"/><stop offset="0.0750" stop-color="#333333"/><stop offset="0.0750" stop-color="#323232"/><stop offset="0.1024" stop-color="#313131"/><stop offset="0.1024" stop-color="#313131"/><stop offset="0.1270" stop-color="#343434"/><stop offset="0.1270" stop-color="#343434"/><stop offset="0.1433" stop-color="#363636"/><stop offset="0.1433" stop-color="#373737"/><stop offset="0.2353" stop-color="#373737"/><stop offset="0.2353" stop-color="#343434"/><stop offset="0.2967" stop-color="#343434"/><stop offset="0.2967" stop-color="#343434"/><stop offset="0.3273" stop-color="#2f2f2f"/><stop offset="0.3273" stop-color="#2f2f2f"/><stop offset="0.3478" stop-color="#2e2e2e"/><stop offset="0.3478" stop-color="#2e2e2e"/><stop offset="0.3785" stop-color="#313131"/><stop offset="0.3785" stop-color="#313131"/><stop offset="0.4398" stop-color="#343434"/><stop offset="0.4398" stop-color="#343434"/><stop offset="0.4459" stop-color="#343434"/><stop offset="0.4459" stop-color="#343434"/><stop offset="0.4461" stop-color="#373737"/><stop offset="0.4461" stop-color="#383838"/><stop offset="0.4705" stop-color="#383838"/><stop offset="0.4705" stop-color="#383838"/><stop offset="0.4725" stop-color="#383838"/><stop offset="0.4725" stop-color="#373737"/><stop offset="0.4727" stop-color="#323232"/><stop offset="0.4727" stop-color="#313131"/><stop offset="0.5175" stop-color="#333333"/><stop offset="0.5175" stop-color="#333333"/><stop offset="0.5216" stop-color="#363636"/><stop offset="0.5216" stop-color="#363636"/><stop offset="0.5481" stop-color="#363636"/><stop offset="0.5481" stop-color="#363636"/><stop offset="0.5625" stop-color="#373737"/><stop offset="0.5625" stop-color="#343434"/><stop offset="0.6136" stop-color="#333333"/><stop offset="0.6136" stop-color="#333333"/><stop offset="0.6442" stop-color="#373737"/><stop offset="0.6442" stop-color="#373737"/><stop offset="0.6749" stop-color="#343434"/><stop offset="0.6749" stop-color="#343434"/><stop offset="0.6954" stop-color="#303030"/><stop offset="0.6954" stop-color="#303030"/><stop offset="0.7567" stop-color="#313131"/><stop offset="0.7567" stop-color="#343434"/><stop offset="0.7823" stop-color="#343434"/><stop offset="0.7823" stop-color="#444444"/><stop offset="0.7949" stop-color="#434343"/><stop offset="0.7949" stop-color="#2b2b2b"/><stop offset="0.7951" stop-color="#323232"/><stop offset="0.7951" stop-color="#333333"/><stop offset="0.8323" stop-color="#383838"/><stop offset="0.8323" stop-color="#383838"/><stop offset="0.8385" stop-color="#3a3a3a"/><stop offset="0.8385" stop-color="#3a3a3a"/><stop offset="0.8426" stop-color="#3b3b3b"/><stop offset="0.8426" stop-color="#3b3b3b"/><stop offset="0.8630" stop-color="#363636"/><stop offset="0.8630" stop-color="#363636"/><stop offset="0.8835" stop-color="#373737"/><stop offset="0.8835" stop-color="#373737"/><stop offset="0.8957" stop-color="#383838"/><stop offset="0.8957" stop-color="#383838"/><stop offset="0.9203" stop-color="#383838"/><stop offset="0.9203" stop-color="#383838"/><stop offset="0.9407" stop-color="#353535"/><stop offset="0.9407" stop-color="#353535"/><stop offset="0.9571" stop-color="#383838"/><stop offset="0.9571" stop-color="#383838"/><stop offset="0.9612" stop-color="#383838"/><stop offset="0.9612" stop-color="#383838"/><stop offset="0.9614" stop-color="#303030"/><stop offset="0.9614" stop-color="#2f2f2f"/><stop offset="0.9661" stop-color="#2f2f2f"/><stop offset="0.9661" stop-color="#303030"/><stop offset="0.9663" stop-color="#383838"/><stop offset="0.9663" stop-color="#393939"/><stop offset="0.9693" stop-color="#3a3a3a"/><stop offset="0.9693" stop-color="#3a3a3a"/><stop offset="0.9775" stop-color="#353535"/><stop offset="0.9775" stop-color="#353535"/><stop offset="0.9824" stop-color="#353535"/><stop offset="0.9824" stop-color="#363636"/><stop offset="0.9826" stop-color="#3a3a3a"/><stop offset="0.9826" stop-color="#3a3a3a"/><stop offset="0.9898" stop-color="#3a3a3a"/><stop offset="0.9898" stop-color="#393939"/><stop offset="0.9900" stop-color="#2e2e2e"/><stop offset="0.9900" stop-color="#2c2c2c"/><stop offset="0.9937" stop-color="#2c2c2c"/><stop offset="0.9937" stop-color="#2d2d2d"/><stop offset="0.9939" stop-color="#363636"/><stop offset="0.9939" stop-color="#373737"/><stop offset="1.0000" stop-color="#373737"/></linearGradient>
<linearGradient id="d2" gradientUnits="userSpaceOnUse" x1="0" x2="0" y1="629.9" y2="1119"><stop offset="0.0000" stop-color="#333333"/><stop offset="0.0002" stop-color="#333333"/><stop offset="0.0002" stop-color="#333333"/><stop offset="0.0288" stop-color="#333333"/><stop offset="0.0288" stop-color="#151515"/><stop offset="0.0350" stop-color="#161616"/><stop offset="0.0350" stop-color="#161616"/><stop offset="0.0411" stop-color="#161616"/><stop offset="0.0411" stop-color="#161616"/><stop offset="0.0472" stop-color="#161616"/><stop offset="0.0472" stop-color="#161616"/><stop offset="0.0534" stop-color="#171717"/><stop offset="0.0534" stop-color="#171717"/><stop offset="0.0595" stop-color="#161616"/><stop offset="0.0595" stop-color="#161616"/><stop offset="0.0656" stop-color="#161616"/><stop offset="0.0656" stop-color="#161616"/><stop offset="0.0718" stop-color="#141414"/><stop offset="0.0718" stop-color="#141414"/><stop offset="0.0750" stop-color="#141414"/><stop offset="0.0750" stop-color="#141414"/><stop offset="0.0779" stop-color="#141414"/><stop offset="0.0779" stop-color="#141414"/><stop offset="0.0840" stop-color="#121212"/><stop offset="0.0840" stop-color="#121212"/><stop offset="0.0902" stop-color="#131313"/><stop offset="0.0902" stop-color="#131313"/><stop offset="0.0963" stop-color="#131313"/><stop offset="0.0963" stop-color="#131313"/><stop offset="0.1024" stop-color="#131313"/><stop offset="0.1024" stop-color="#131313"/><stop offset="0.1086" stop-color="#131313"/><stop offset="0.1086" stop-color="#131313"/><stop offset="0.1127" stop-color="#131313"/><stop offset="0.1127" stop-color="#303030"/><stop offset="0.1270" stop-color="#323232"/><stop offset="0.1270" stop-color="#323232"/><stop offset="0.1433" stop-color="#343434"/><stop offset="0.1433" stop-color="#373737"/><stop offset="0.2967" stop-color="#373737"/><stop offset="0.2967" stop-color="#323232"/><stop offset="0.3273" stop-color="#2e2e2e"/><stop offset="0.3273" stop-color="#2e2e2e"/><stop offset="0.3478" stop-color="#2d2d2d"/><stop offset="0.3478" stop-color="#2d2d2d"/><stop offset="0.3785" stop-color="#2f2f2f"/><stop offset="0.3785" stop-color="#2f2f2f"/><stop offset="0.3989" stop-color="#303030"/><stop offset="0.3989" stop-color="#1a1a1a"/><stop offset="0.4050" stop-color="#1a1a1a"/><stop offset="0.4050" stop-color="#1a1a1a"/><stop offset="0.4071" stop-color="#1a1a1a"/><stop offset="0.4071" stop-color="#313131"/><stop offset="0.4091" stop-color="#313131"/><stop offset="0.4091" stop-color="#353535"/><stop offset="0.4316" stop-color="#373737"/><stop offset="0.4316" stop-color="#1d1d1d"/><stop offset="0.4377" stop-color="#1c1c1c"/><stop offset="0.4377" stop-color="#1c1c1c"/><stop offset="0.4398" stop-color="#1c1c1c"/><stop offset="0.4398" stop-color="#1c1c1c"/><stop offset="0.4439" stop-color="#1b1b1b"/><stop offset="0.4439" stop-color="#1a1a1a"/><stop offset="0.4459" stop-color="#1a1a1a"/><stop offset="0.4459" stop-color="#1a1a1a"/><stop offset="0.4461" stop-color="#1a1a1a"/><stop offset="0.4461" stop-color="#1a1a1a"/><stop offset="0.4500" stop-color="#181818"/><stop offset="0.4500" stop-color="#181818"/><stop offset="0.4561" stop-color="#171717"/><stop offset="0.4561" stop-color="#171717"/><stop offset="0.4623" stop-color="#161616"/><stop offset="0.4623" stop-color="#161616"/><stop offset="0.4684" stop-color="#141414"/><stop offset="0.4684" stop-color="#3b3b3b"/><stop offset="0.4725" stop-color="#3b3b3b"/><stop offset="0.4725" stop-color="#3a3a3a"/><stop offset="0.4727" stop-color="#353535"/><stop offset="0.4727" stop-color="#343434"/><stop offset="0.5175" stop-color="#343434"/><stop offset="0.5175" stop-color="#343434"/><stop offset="0.5216" stop-color="#383838"/><stop offset="0.5216" stop-color="#383838"/><stop offset="0.5481" stop-color="#373737"/><stop offset="0.5481" stop-color="#373737"/><stop offset="0.5625" stop-color="#373737"/><stop offset="0.5625" stop-color="#343434"/><stop offset="0.6136" stop-color="#333333"/><stop offset="0.6136" stop-color="#333333"/><stop offset="0.6442" stop-color="#373737"/><stop offset="0.6442" stop-color="#373737"/><stop offset="0.6749" stop-color="#343434"/><stop offset="0.6749" stop-color="#343434"/><stop offset="0.6954" stop-color="#303030"/><stop offset="0.6954" stop-color="#303030"/><stop offset="0.7567" stop-color="#313131"/><stop offset="0.7567" stop-color="#343434"/><stop offset="0.7823" stop-color="#343434"/><stop offset="0.7823" stop-color="#444444"/><stop offset="0.7949" stop-color="#434343"/><stop offset="0.7949" stop-color="#2b2b2b"/><stop offset="0.7951" stop-color="#323232"/><stop offset="0.7951" stop-color="#333333"/><stop offset="0.8027" stop-color="#343434"/><stop offset="0.8027" stop-color="#1d1d1d"/><stop offset="0.8088" stop-color="#1a1a1a"/><stop offset="0.8088" stop-color="#1a1a1a"/><stop offset="0.8150" stop-color="#181818"/><stop offset="0.8150" stop-color="#181818"/><stop offset="0.8211" stop-color="#161616"/><stop offset="0.8211" stop-color="#161616"/><stop offset="0.8231" stop-color="#161616"/><stop offset="0.8231" stop-color="#363636"/><stop offset="0.8323" stop-color="#383838"/><stop offset="0.8323" stop-color="#383838"/><stop offset="0.8385" stop-color="#3a3a3a"/><stop offset="0.8385" stop-color="#3a3a3a"/><stop offset="0.8426" stop-color="#3b3b3b"/><stop offset="0.8426" stop-color="#3b3b3b"/><stop offset="0.8630" stop-color="#363636"/><stop offset="0.8630" stop-color="#363636"/><stop offset="0.8835" stop-color="#373737"/><stop offset="0.8835" stop-color="#373737"/><stop offset="0.8957" stop-color="#383838"/><stop offset="0.8957" stop-color="#383838"/><stop offset="0.9203" stop-color="#383838"/><stop offset="0.9203" stop-color="#383838"/><stop offset="0.9407" stop-color="#353535"/><stop offset="0.9407" stop-color="#353535"/><stop offset="0.9571" stop-color="#383838"/><stop offset="0.9571" stop-color="#383838"/><stop offset="0.9612" stop-color="#383838"/><stop offset="0.9612" stop-color="#383838"/><stop offset="0.9614" stop-color="#303030"/><stop offset="0.9614" stop-color="#2f2f2f"/><stop offset="0.9661" stop-color="#2f2f2f"/><stop offset="0.9661" stop-color="#303030"/><stop offset="0.9663" stop-color="#383838"/><stop offset="0.9663" stop-color="#393939"/><stop offset="0.9693" stop-color="#3a3a3a"/><stop offset="0.9693" stop-color="#3a3a3a"/><stop offset="0.9775" stop-color="#353535"/><stop offset="0.9775" stop-color="#353535"/><stop offset="0.9796" stop-color="#353535"/><stop offset="0.9796" stop-color="#414141"/><stop offset="0.9824" stop-color="#414141"/><stop offset="0.9824" stop-color="#424242"/><stop offset="0.9826" stop-color="#454545"/><stop offset="0.9826" stop-color="#464646"/><stop offset="0.9857" stop-color="#464646"/><stop offset="0.9857" stop-color="#3a3a3a"/><stop offset="0.9898" stop-color="#3a3a3a"/><stop offset="0.9898" stop-color="#393939"/><stop offset="0.9900" stop-color="#2e2e2e"/><stop offset="0.9900" stop-color="#2c2c2c"/><stop offset="0.9937" stop-color="#2c2c2c"/><stop offset="0.9937" stop-color="#2d2d2d"/><stop offset="0.9939" stop-color="#363636"/><stop offset="0.9939" stop-color="#373737"/><stop offset="1.0000" stop-color="#373737"/></linearGradient>
<linearGradient id="d3" gradientUnits="userSpaceOnUse" x1="0" x2="0" y1="629.9" y2="1119"><stop offset="0.0000" stop-color="#333333"/><stop offset="0.0002" stop-color="#333333"/><stop offset="0.0002" stop-color="#333333"/><stop offset="0.0750" stop-color="#333333"/><stop offset="0.0750" stop-color="#313131"/><stop offset="0.1024" stop-color="#303030"/><stop offset="0.1024" stop-color="#303030"/><stop offset="0.1270" stop-color="#333333"/><stop offset="0.1270" stop-color="#333333"/><stop offset="0.1433" stop-color="#353535"/><stop offset="0.1433" stop-color="#353535"/><stop offset="0.2333" stop-color="#353535"/><stop offset="0.2333" stop-color="#161616"/><stop offset="0.2394" stop-color="#161616"/><stop offset="0.2394" stop-color="#161616"/><stop offset="0.2456" stop-color="#151515"/><stop offset="0.2456" stop-color="#151515"/><stop offset="0.2517" stop-color="#161616"/><stop offset="0.2517" stop-color="#161616"/><stop offset="0.2578" stop-color="#161616"/><stop offset="0.2578" stop-color="#161616"/><stop offset="0.2640" stop-color="#171717"/><stop offset="0.2640" stop-color="#171717"/><stop offset="0.2701" stop-color="#171717"/><stop offset="0.2701" stop-color="#171717"/><stop offset="0.2762" stop-color="#171717"/><stop offset="0.2762" stop-color="#171717"/><stop offset="0.2824" stop-color="#181818"/><stop offset="0.2824" stop-color="#181818"/><stop offset="0.2885" stop-color="#181818"/><stop offset="0.2885" stop-color="#181818"/><stop offset="0.2946" stop-color="#191919"/><stop offset="0.2946" stop-color="#191919"/><stop offset="0.2967" stop-color="#191919"/><stop offset="0.2967" stop-color="#191919"/><stop offset="0.3008" stop-color="#191919"/><stop offset="0.3008" stop-color="#191919"/><stop offset="0.3069" stop-color="#191919"/><stop offset="0.3069" stop-color="#191919"/><stop offset="0.3130" stop-color="#191919"/><stop offset="0.3130" stop-color="#191919"/><stop offset="0.3192" stop-color="#191919"/><stop offset="0.3192" stop-color="#191919"/><stop offset="0.3253" stop-color="#191919"/><stop offset="0.3253" stop-color="#191919"/><stop offset="0.3273" stop-color="#191919"/><stop offset="0.3273" stop-color="#191919"/><stop offset="0.3314" stop-color="#191919"/><stop offset="0.3314" stop-color="#191919"/><stop offset="0.3376" stop-color="#191919"/><stop offset="0.3376" stop-color="#191919"/><stop offset="0.3437" stop-color="#191919"/><stop offset="0.3437" stop-color="#191919"/><stop offset="0.3478" stop-color="#191919"/><stop offset="0.3478" stop-color="#191919"/><stop offset="0.3498" stop-color="#191919"/><stop offset="0.3498" stop-color="#191919"/><stop offset="0.3560" stop-color="#191919"/><stop offset="0.3560" stop-color="#191919"/><stop offset="0.3621" stop-color="#191919"/><stop offset="0.3621" stop-color="#191919"/><stop offset="0.3682" stop-color="#191919"/><stop offset="0.3682" stop-color="#191919"/><stop offset="0.3744" stop-color="#191919"/><stop offset="0.3744" stop-color="#191919"/><stop offset="0.3785" stop-color="#181818"/><stop offset="0.3785" stop-color="#181818"/><stop offset="0.3805" stop-color="#181818"/><stop offset="0.3805" stop-color="#181818"/><stop offset="0.3866" stop-color="#181818"/><stop offset="0.3866" stop-color="#181818"/><stop offset="0.3928" stop-color="#181818"/><stop offset="0.3928" stop-color="#181818"/><stop offset="0.3969" stop-color="#181818"/><stop offset="0.3969" stop-color="#353535"/><stop offset="0.4398" stop-color="#373737"/><stop offset="0.4398" stop-color="#373737"/><stop offset="0.4459" stop-color="#373737"/><stop offset="0.4459" stop-color="#373737"/><stop offset="0.4461" stop-color="#3a3a3a"/><stop offset="0.4461" stop-color="#3b3b3b"/><stop offset="0.4725" stop-color="#3b3b3b"/><stop offset="0.4725" stop-color="#3a3a3a"/><stop offset="0.4727" stop-color="#353535"/><stop offset="0.4727" stop-color="#343434"/><stop offset="0.5175" stop-color="#343434"/><stop offset="0.5175" stop-color="#343434"/><stop offset="0.5216" stop-color="#383838"/><stop offset="0.5216" stop-color="#383838"/><stop offset="0.5481" stop-color="#373737"/><stop offset="0.5481" stop-color="#373737"/><stop offset="0.5890" stop-color="#363636"/><stop offset="0.5890" stop-color="#1e1e1e"/><stop offset="0.5952" stop-color="#1d1d1d"/><stop offset="0.5952" stop-color="#1d1d1d"/><stop offset="0.6013" stop-color="#1b1b1b"/><stop offset="0.6013" stop-color="#1b1b1b"/><stop offset="0.6074" stop-color="#191919"/><stop offset="0.6074" stop-color="#191919"/><stop offset="0.6136" stop-color="#181818"/><stop offset="0.6136" stop-color="#181818"/><stop offset="0.6197" stop-color="#171717"/><stop offset="0.6197" stop-color="#171717"/><stop offset="0.6238" stop-color="#161616"/><stop offset="0.6238" stop-color="#121212"/><stop offset="0.6299" stop-color="#131313"/><stop offset="0.6299" stop-color="#131313"/><stop offset="0.6361" stop-color="#141414"/><stop offset="0.6361" stop-color="#141414"/><stop offset="0.6422" stop-color="#141414"/><stop offset="0.6422" stop-color="#141414"/><stop offset="0.6442" stop-color="#141414"/><stop offset="0.6442" stop-color="#141414"/><stop offset="0.6483" stop-color="#141414"/><stop offset="0.6483" stop-color="#141414"/><stop offset="0.6545" stop-color="#141414"/><stop offset="0.6545" stop-color="#141414"/><stop offset="0.6606" stop-color="#141414"/><stop offset="0.6606" stop-color="#141414"/><stop offset="0.6647" stop-color="#151515"/><stop offset="0.6647" stop-color="#171717"/><stop offset="0.6708" stop-color="#191919"/><stop offset="0.6708" stop-color="#191919"/><stop offset="0.6749" stop-color="#191919"/><stop offset="0.6749" stop-color="#191919"/><stop offset="0.6770" stop-color="#1a1a1a"/><stop offset="0.6770" stop-color="#1a1a1a"/><stop offset="0.6831" stop-color="#1a1a1a"/><stop offset="0.6831" stop-color="#1a1a1a"/><stop offset="0.6892" stop-color="#1a1a1a"/><stop offset="0.6892" stop-color="#1a1a1a"/><stop offset="0.6954" stop-color="#191919"/><stop offset="0.6954" stop-color="#191919"/><stop offset="0.7015" stop-color="#191919"/><stop offset="0.7015" stop-color="#191919"/><stop offset="0.7076" stop-color="#181818"/><stop offset="0.7076" stop-color="#181818"/><stop offset="0.7138" stop-color="#181818"/><stop offset="0.7138" stop-color="#181818"/><stop offset="0.7199" stop-color="#181818"/><stop offset="0.7199" stop-color="#181818"/><stop offset="0.7260" stop-color="#191919"/><stop offset="0.7260" stop-color="#1b1b1b"/><stop offset="0.7322" stop-color="#1a1a1a"/><stop offset="0.7322" stop-color="#1a1a1a"/><stop offset="0.7383" stop-color="#191919"/><stop offset="0.7383" stop-color="#191919"/><stop offset="0.7444" stop-color="#181818"/><stop offset="0.7444" stop-color="#181818"/><stop offset="0.7506" stop-color="#161616"/><stop offset="0.7506" stop-color="#161616"/><stop offset="0.7567" stop-color="#141414"/><stop offset="0.7567" stop-color="#141414"/><stop offset="0.7628" stop-color="#121212"/><stop offset="0.7628" stop-color="#121212"/><stop offset="0.7690" stop-color="#101010"/><stop offset="0.7690" stop-color="#101010"/><stop offset="0.7751" stop-color="#0e0e0e"/><stop offset="0.7751" stop-color="#0e0e0e"/><stop offset="0.7812" stop-color="#0c0c0c"/><stop offset="0.7812" stop-color="#3b3b3b"/><stop offset="0.7874" stop-color="#3a3a3a"/><stop offset="0.7874" stop-color="#3a3a3a"/><stop offset="0.7935" stop-color="#393939"/><stop offset="0.7935" stop-color="#393939"/><stop offset="0.7949" stop-color="#383838"/><stop offset="0.7949" stop-color="#383838"/><stop offset="0.7951" stop-color="#383838"/><stop offset="0.7951" stop-color="#383838"/><stop offset="0.7996" stop-color="#373737"/><stop offset="0.7996" stop-color="#373737"/><stop offset="0.8058" stop-color="#363636"/><stop offset="0.8058" stop-color="#353535"/><stop offset="0.8119" stop-color="#343434"/><stop offset="0.8119" stop-color="#343434"/><stop offset="0.8180" stop-color="#333333"/><stop offset="0.8180" stop-color="#333333"/><stop offset="0.8242" stop-color="#313131"/><stop offset="0.8242" stop-color="#313131"/><stop offset="0.8303" stop-color="#303030"/><stop offset="0.8303" stop-color="#303030"/><stop offset="0.8323" stop-color="#2f2f2f"/><stop offset="0.8323" stop-color="#2f2f2f"/><stop offset="0.8364" stop-color="#2e2e2e"/><stop offset="0.8364" stop-color="#2e2e2e"/><stop offset="0.8385" stop-color="#2e2e2e"/><stop offset="0.8385" stop-color="#373737"/><stop offset="0.8426" stop-color="#373737"/><stop offset="0.8426" stop-color="#373737"/><stop offset="0.8446" stop-color="#363636"/><stop offset="0.8446" stop-color="#363636"/><stop offset="0.8507" stop-color="#353535"/><stop offset="0.8507" stop-color="#353535"/><stop offset="0.8569" stop-color="#343434"/><stop offset="0.8569" stop-color="#343434"/><stop offset="0.8630" stop-color="#343434"/><stop offset="0.8630" stop-color="#343434"/><stop offset="0.8691" stop-color="#323232"/><stop offset="0.8691" stop-color="#323232"/><stop offset="0.8753" stop-color="#323232"/><stop offset="0.8753" stop-color="#323232"/><stop offset="0.8794" stop-color="#313131"/><stop offset="0.8794" stop-color="#212121"/><stop offset="0.8855" stop-color="#202020"/><stop offset="0.8855" stop-color="#202020"/><stop offset="0.8916" stop-color="#1e1e1e"/><stop offset="0.8916" stop-color="#1e1e1e"/><stop offset="0.8957" stop-color="#1c1c1c"/><stop offset="0.8957" stop-color="#1c1c1c"/><stop offset="0.8978" stop-color="#1c1c1c"/><stop offset="0.8978" stop-color="#1c1c1c"/><stop offset="0.9039" stop-color="#191919"/><stop offset="0.9039" stop-color="#191919"/><stop offset="0.9100" stop-color="#181818"/><stop offset="0.9100" stop-color="#181818"/><stop offset="0.9162" stop-color="#171717"/><stop offset="0.9162" stop-color="#171717"/><stop offset="0.9203" stop-color="#161616"/><stop offset="0.9203" stop-color="#161616"/><stop offset="0.9223" stop-color="#151515"/><stop offset="0.9223" stop-color="#151515"/><stop offset="0.9284" stop-color="#141414"/><stop offset="0.9284" stop-color="#141414"/><stop offset="0.9305" stop-color="#141414"/><stop offset="0.9305" stop-color="#1c1c1c"/><stop offset="0.9366" stop-color="#1e1e1e"/><stop offset="0.9366" stop-color="#1e1e1e"/><stop offset="0.9407" stop-color="#1e1e1e"/><stop offset="0.9407" stop-color="#1e1e1e"/><stop offset="0.9428" stop-color="#1e1e1e"/><stop offset="0.9428" stop-color="#1e1e1e"/><stop offset="0.9489" stop-color="#1e1e1e"/><stop offset="0.9489" stop-color="#1e1e1e"/><stop offset="0.9550" stop-color="#1e1e1e"/><stop offset="0.9550" stop-color="#1e1e1e"/><stop offset="0.9571" stop-color="#1e1e1e"/><stop offset="0.9571" stop-color="#1e1e1e"/><stop offset="0.9612" stop-color="#1e1e1e"/><stop offset="0.9612" stop-color="#1e1e1e"/><stop offset="0.9614" stop-color="#1e1e1e"/><stop offset="0.9614" stop-color="#1e1e1e"/><stop offset="0.9661" stop-color="#1f1f1f"/><stop offset="0.9661" stop-color="#1f1f1f"/><stop offset="0.9663" stop-color="#1f1f1f"/><stop offset="0.9663" stop-color="#1f1f1f"/><stop offset="0.9673" stop-color="#1f1f1f"/><stop offset="0.9673" stop-color="#1f1f1f"/><stop offset="0.9693" stop-color="#202020"/><stop offset="0.9693" stop-color="#202020"/><stop offset="0.9734" stop-color="#282828"/><stop offset="0.9734" stop-color="#282828"/><stop offset="0.9775" stop-color="#2a2a2a"/><stop offset="0.9775" stop-color="#2a2a2a"/><stop offset="0.9796" stop-color="#292929"/><stop offset="0.9796" stop-color="#292929"/><stop offset="0.9824" stop-color="#282828"/><stop offset="0.9824" stop-color="#282828"/><stop offset="0.9826" stop-color="#282828"/><stop offset="0.9826" stop-color="#282828"/><stop offset="0.9857" stop-color="#292929"/><stop offset="0.9857" stop-color="#262626"/><stop offset="0.9898" stop-color="#262626"/><stop offset="0.9898" stop-color="#252525"/><stop offset="0.9900" stop-color="#1a1a1a"/><stop offset="0.9900" stop-color="#191919"/><stop offset="0.9937" stop-color="#191919"/><stop offset="0.9937" stop-color="#1a1a1a"/><stop offset="0.9939" stop-color="#222222"/><stop offset="0.9939" stop-color="#252525"/><stop offset="1.0000" stop-color="#252525"/></linearGradient>
<linearGradient id="d4" gradientUnits="userSpaceOnUse" x1="0" x2="0" y1="629.9" y2="1119"><stop offset="0.0000" stop-color="#333333"/><stop offset="0.0002" stop-color="#333333"/><stop offset="0.0002" stop-color="#3a3a3a"/><stop offset="0.0750" stop-color="#3a3a3a"/><stop offset="0.0750" stop-color="#3b3b3b"/><stop offset="0.1024" stop-color="#3a3a3a"/><stop offset="0.1024" stop-color="#3a3a3a"/><stop offset="0.1270" stop-color="#3d3d3d"/><stop offset="0.1270" stop-color="#3d3d3d"/><stop offset="0.1433" stop-color="#3f3f3f"/><stop offset="0.1433" stop-color="#3f3f3f"/><stop offset="0.2967" stop-color="#3f3f3f"/><stop offset="0.2967" stop-color="#3f3f3f"/><stop offset="0.3273" stop-color="#3a3a3a"/><stop offset="0.3273" stop-color="#3a3a3a"/><stop offset="0.3478" stop-color="#393939"/><stop offset="0.3478" stop-color="#393939"/><stop offset="0.3785" stop-color="#3c3c3c"/><stop offset="0.3785" stop-color="#3c3c3c"/><stop offset="0.4398" stop-color="#3f3f3f"/><stop offset="0.4398" stop-color="#3f3f3f"/><stop offset="0.4459" stop-color="#3f3f3f"/><stop offset="0.4459" stop-color="#3f3f3f"/><stop offset="0.4461" stop-color="#424242"/><stop offset="0.4461" stop-color="#434343"/><stop offset="0.4705" stop-color="#434343"/><stop offset="0.4705" stop-color="#434343"/><stop offset="0.4725" stop-color="#434343"/><stop offset="0.4725" stop-color="#424242"/><stop offset="0.4727" stop-color="#3c3c3c"/><stop offset="0.4727" stop-color="#3c3c3c"/><stop offset="0.5175" stop-color="#383838"/><stop offset="0.5175" stop-color="#383838"/><stop offset="0.5216" stop-color="#3b3b3b"/><stop offset="0.5216" stop-color="#3b3b3b"/><stop offset="0.5481" stop-color="#383838"/><stop offset="0.5481" stop-color="#383838"/><stop offset="0.5625" stop-color="#373737"/><stop offset="0.5625" stop-color="#373737"/><stop offset="0.6136" stop-color="#383838"/><stop offset="0.6136" stop-color="#383838"/><stop offset="0.6442" stop-color="#3d3d3d"/><stop offset="0.6442" stop-color="#3d3d3d"/><stop offset="0.6749" stop-color="#3c3c3c"/><stop offset="0.6749" stop-color="#3c3c3c"/><stop offset="0.6954" stop-color="#393939"/><stop offset="0.6954" stop-color="#393939"/><stop offset="0.7363" stop-color="#3c3c3c"/><stop offset="0.7363" stop-color="#3c3c3c"/><stop offset="0.7567" stop-color="#3c3c3c"/><stop offset="0.7567" stop-color="#3c3c3c"/><stop offset="0.7949" stop-color="#3c3c3c"/><stop offset="0.7949" stop-color="#393939"/><stop offset="0.7951" stop-color="#404040"/><stop offset="0.7951" stop-color="#414141"/><stop offset="0.8323" stop-color="#3d3d3d"/><stop offset="0.8323" stop-color="#3d3d3d"/><stop offset="0.8385" stop-color="#3e3e3e"/><stop offset="0.8385" stop-color="#3e3e3e"/><stop offset="0.8426" stop-color="#3f3f3f"/><stop offset="0.8426" stop-color="#3f3f3f"/><stop offset="0.8630" stop-color="#3c3c3c"/><stop offset="0.8630" stop-color="#3c3c3c"/><stop offset="0.8835" stop-color="#3f3f3f"/><stop offset="0.8835" stop-color="#3f3f3f"/><stop offset="0.8957" stop-color="#404040"/><stop offset="0.8957" stop-color="#404040"/><stop offset="0.9162" stop-color="#404040"/><stop offset="0.9162" stop-color="#404040"/><stop offset="0.9203" stop-color="#404040"/><stop offset="0.9203" stop-color="#404040"/><stop offset="0.9346" stop-color="#3c3c3c"/><stop offset="0.9346" stop-color="#3c3c3c"/><stop offset="0.9407" stop-color="#3a3a3a"/><stop offset="0.9407" stop-color="#3a3a3a"/><stop offset="0.9571" stop-color="#3e3e3e"/><stop offset="0.9571" stop-color="#3e3e3e"/><stop offset="0.9612" stop-color="#3e3e3e"/><stop offset="0.9612" stop-color="#3d3d3d"/><stop offset="0.9614" stop-color="#363636"/><stop offset="0.9614" stop-color="#353535"/><stop offset="0.9661" stop-color="#353535"/><stop offset="0.9661" stop-color="#363636"/><stop offset="0.9663" stop-color="#3e3e3e"/><stop offset="0.9663" stop-color="#3f3f3f"/><stop offset="0.9693" stop-color="#404040"/><stop offset="0.9693" stop-color="#404040"/><stop offset="0.9775" stop-color="#3b3b3b"/><stop offset="0.9775" stop-color="#3b3b3b"/><stop offset="0.9824" stop-color="#3b3b3b"/><stop offset="0.9824" stop-color="#3c3c3c"/><stop offset="0.9826" stop-color="#3f3f3f"/><stop offset="0.9826" stop-color="#404040"/><stop offset="0.9877" stop-color="#404040"/><stop offset="0.9877" stop-color="#3a3a3a"/><stop offset="0.9898" stop-color="#3a3a3a"/><stop offset="0.9898" stop-color="#393939"/><stop offset="0.9900" stop-color="#2e2e2e"/><stop offset="0.9900" stop-color="#2c2c2c"/><stop offset="0.9937" stop-color="#2c2c2c"/><stop offset="0.9937" stop-color="#2d2d2d"/><stop offset="0.9939" stop-color="#363636"/><stop offset="0.9939" stop-color="#373737"/><stop offset="1.0000" stop-color="#373737"/></linearGradient>
<linearGradient id="d5" gradientUnits="userSpaceOnUse" x1="0" x2="0" y1="629.9" y2="1119"><stop offset="0.0000" stop-color="#333333"/><stop offset="0.0002" stop-color="#333333"/><stop offset="0.0002" stop-color="#333333"/><stop offset="0.0615" stop-color="#333333"/><stop offset="0.0615" stop-color="#393939"/><stop offset="0.0750" stop-color="#393939"/><stop offset="0.0750" stop-color="#333333"/><stop offset="0.1024" stop-color="#323232"/><stop offset="0.1024" stop-color="#323232"/><stop offset="0.1270" stop-color="#353535"/><stop offset="0.1270" stop-color="#353535"/><stop offset="0.1433" stop-color="#373737"/><stop offset="0.1433" stop-color="#373737"/><stop offset="0.2149" stop-color="#373737"/><stop offset="0.2149" stop-color="#323232"/><stop offset="0.2967" stop-color="#323232"/><stop offset="0.2967" stop-color="#373737"/><stop offset="0.3273" stop-color="#323232"/><stop offset="0.3273" stop-color="#323232"/><stop offset="0.3478" stop-color="#313131"/><stop offset="0.3478" stop-color="#313131"/><stop offset="0.3785" stop-color="#343434"/><stop offset="0.3785" stop-color="#343434"/><stop offset="0.4398" stop-color="#373737"/><stop offset="0.4398" stop-color="#373737"/><stop offset="0.4459" stop-color="#373737"/><stop offset="0.4459" stop-color="#373737"/><stop offset="0.4461" stop-color="#3a3a3a"/><stop offset="0.4461" stop-color="#3b3b3b"/><stop offset="0.4725" stop-color="#3b3b3b"/><stop offset="0.4725" stop-color="#3a3a3a"/><stop offset="0.4727" stop-color="#353535"/><stop offset="0.4727" stop-color="#343434"/><stop offset="0.5175" stop-color="#343434"/><stop offset="0.5175" stop-color="#343434"/><stop offset="0.5216" stop-color="#383838"/><stop offset="0.5216" stop-color="#383838"/><stop offset="0.5481" stop-color="#373737"/><stop offset="0.5481" stop-color="#373737"/><stop offset="0.6136" stop-color="#363636"/><stop offset="0.6136" stop-color="#363636"/><stop offset="0.6442" stop-color="#3a3a3a"/><stop offset="0.6442" stop-color="#3a3a3a"/><stop offset="0.6749" stop-color="#373737"/><stop offset="0.6749" stop-color="#373737"/><stop offset="0.6954" stop-color="#333333"/><stop offset="0.6954" stop-color="#333333"/><stop offset="0.7567" stop-color="#343434"/><stop offset="0.7567" stop-color="#343434"/><stop offset="0.7949" stop-color="#343434"/><stop offset="0.7949" stop-color="#353535"/><stop offset="0.7951" stop-color="#3c3c3c"/><stop offset="0.7951" stop-color="#3d3d3d"/><stop offset="0.8323" stop-color="#393939"/><stop offset="0.8323" stop-color="#393939"/><stop offset="0.8426" stop-color="#3b3b3b"/><stop offset="0.8426" stop-color="#3b3b3b"/><stop offset="0.8630" stop-color="#363636"/><stop offset="0.8630" stop-color="#363636"/><stop offset="0.8957" stop-color="#383838"/><stop offset="0.8957" stop-color="#383838"/><stop offset="0.9203" stop-color="#383838"/><stop offset="0.9203" stop-color="#383838"/><stop offset="0.9407" stop-color="#353535"/><stop offset="0.9407" stop-color="#353535"/><stop offset="0.9571" stop-color="#383838"/><stop offset="0.9571" stop-color="#383838"/><stop offset="0.9612" stop-color="#383838"/><stop offset="0.9612" stop-color="#383838"/><stop offset="0.9614" stop-color="#303030"/><stop offset="0.9614" stop-color="#2f2f2f"/><stop offset="0.9661" stop-color="#2f2f2f"/><stop offset="0.9661" stop-color="#303030"/><stop offset="0.9663" stop-color="#383838"/><stop offset="0.9663" stop-color="#393939"/><stop offset="0.9693" stop-color="#3a3a3a"/><stop offset="0.9693" stop-color="#3a3a3a"/><stop offset="0.9775" stop-color="#353535"/><stop offset="0.9775" stop-color="#353535"/><stop offset="0.9824" stop-color="#353535"/><stop offset="0.9824" stop-color="#363636"/><stop offset="0.9826" stop-color="#3a3a3a"/><stop offset="0.9826" stop-color="#3a3a3a"/><stop offset="0.9898" stop-color="#3a3a3a"/><stop offset="0.9898" stop-color="#393939"/><stop offset="0.9900" stop-color="#2e2e2e"/><stop offset="0.9900" stop-color="#2c2c2c"/><stop offset="0.9937" stop-color="#2c2c2c"/><stop offset="0.9937" stop-color="#2d2d2d"/><stop offset="0.9939" stop-color="#363636"/><stop offset="0.9939" stop-color="#373737"/><stop offset="1.0000" stop-color="#373737"/></linearGradient>
<linearGradient id="d6" gradientUnits="userSpaceOnUse" x1="0" x2="0" y1="629.9" y2="1119"><stop offset="0.0000" stop-color="#333333"/><stop offset="0.0002" stop-color="#333333"/><stop offset="0.0002" stop-color="#333333"/><stop offset="0.0268" stop-color="#333333"/><stop offset="0.0268" stop-color="#383838"/><stop offset="0.0750" stop-color="#383838"/><stop offset="0.0750" stop-color="#353535"/><stop offset="0.1024" stop-color="#343434"/><stop offset="0.1024" stop-color="#343434"/><stop offset="0.1270" stop-color="#373737"/><stop offset="0.1270" stop-color="#373737"/><stop offset="0.1433" stop-color="#393939"/><stop offset="0.1433" stop-color="#393939"/><stop offset="0.2967" stop-color="#393939"/><stop offset="0.2967" stop-color="#393939"/><stop offset="0.3273" stop-color="#343434"/><stop offset="0.3273" stop-color="#343434"/><stop offset="0.3478" stop-color="#333333"/><stop offset="0.3478" stop-color="#333333"/><stop offset="0.3785" stop-color="#363636"/><stop offset="0.3785" stop-color="#363636"/><stop offset="0.4398" stop-color="#393939"/><stop offset="0.4398" stop-color="#393939"/><stop offset="0.4459" stop-color="#393939"/><stop offset="0.4459" stop-color="#393939"/><stop offset="0.4461" stop-color="#3c3c3c"/><stop offset="0.4461" stop-color="#3d3d3d"/><stop offset="0.4705" stop-color="#3d3d3d"/><stop offset="0.4705" stop-color="#3d3d3d"/><stop offset="0.4725" stop-color="#3d3d3d"/><stop offset="0.4725" stop-color="#3c3c3c"/><stop offset="0.4727" stop-color="#373737"/><stop offset="0.4727" stop-color="#363636"/><stop offset="0.5175" stop-color="#353535"/><stop offset="0.5175" stop-color="#353535"/><stop offset="0.5216" stop-color="#393939"/><stop offset="0.5216" stop-color="#393939"/><stop offset="0.5481" stop-color="#373737"/><stop offset="0.5481" stop-color="#373737"/><stop offset="0.5625" stop-color="#373737"/><stop offset="0.5625" stop-color="#373737"/><stop offset="0.6136" stop-color="#363636"/><stop offset="0.6136" stop-color="#363636"/><stop offset="0.6442" stop-color="#3a3a3a"/><stop offset="0.6442" stop-color="#3a3a3a"/><stop offset="0.6749" stop-color="#373737"/><stop offset="0.6749" stop-color="#373737"/><stop offset="0.6954" stop-color="#333333"/><stop offset="0.6954" stop-color="#333333"/><stop offset="0.7567" stop-color="#343434"/><stop offset="0.7567" stop-color="#343434"/><stop offset="0.7949" stop-color="#343434"/><stop offset="0.7949" stop-color="#353535"/><stop offset="0.7951" stop-color="#3c3c3c"/><stop offset="0.7951" stop-color="#3d3d3d"/><stop offset="0.8323" stop-color="#393939"/><stop offset="0.8323" stop-color="#393939"/><stop offset="0.8385" stop-color="#3a3a3a"/><stop offset="0.8385" stop-color="#3a3a3a"/><stop offset="0.8426" stop-color="#3b3b3b"/><stop offset="0.8426" stop-color="#3b3b3b"/><stop offset="0.8630" stop-color="#383838"/><stop offset="0.8630" stop-color="#383838"/><stop offset="0.8835" stop-color="#3a3a3a"/><stop offset="0.8835" stop-color="#3a3a3a"/><stop offset="0.8957" stop-color="#3b3b3b"/><stop offset="0.8957" stop-color="#3b3b3b"/><stop offset="0.9162" stop-color="#3b3b3b"/><stop offset="0.9162" stop-color="#3b3b3b"/><stop offset="0.9203" stop-color="#3b3b3b"/><stop offset="0.9203" stop-color="#3b3b3b"/><stop offset="0.9346" stop-color="#363636"/><stop offset="0.9346" stop-color="#363636"/><stop offset="0.9407" stop-color="#353535"/><stop offset="0.9407" stop-color="#353535"/><stop offset="0.9571" stop-color="#383838"/><stop offset="0.9571" stop-color="#383838"/><stop offset="0.9612" stop-color="#383838"/><stop offset="0.9612" stop-color="#383838"/><stop offset="0.9614" stop-color="#303030"/><stop offset="0.9614" stop-color="#2f2f2f"/><stop offset="0.9661" stop-color="#2f2f2f"/><stop offset="0.9661" stop-color="#303030"/><stop offset="0.9663" stop-color="#383838"/><stop offset="0.9663" stop-color="#393939"/><stop offset="0.9693" stop-color="#3a3a3a"/><stop offset="0.9693" stop-color="#3a3a3a"/><stop offset="0.9775" stop-color="#353535"/><stop offset="0.9775" stop-color="#353535"/><stop offset="0.9824" stop-color="#353535"/><stop offset="0.9824" stop-color="#363636"/><stop offset="0.9826" stop-color="#3a3a3a"/><stop offset="0.9826" stop-color="#3a3a3a"/><stop offset="0.9898" stop-color="#3a3a3a"/><stop offset="0.9898" stop-color="#393939"/><stop offset="0.9900" stop-color="#2e2e2e"/><stop offset="0.9900" stop-color="#2c2c2c"/><stop offset="0.9937" stop-color="#2c2c2c"/><stop offset="0.9937" stop-color="#2d2d2d"/><stop offset="0.9939" stop-color="#363636"/><stop offset="0.9939" stop-color="#373737"/><stop offset="1.0000" stop-color="#373737"/></linearGradient>
<linearGradient id="d7" gradientUnits="userSpaceOnUse" x1="0" x2="0" y1="629.9" y2="1119"><stop offset="0.0000" stop-color="#333333"/><stop offset="0.0002" stop-color="#333333"/><stop offset="0.0002" stop-color="#333333"/><stop offset="0.0575" stop-color="#333333"/><stop offset="0.0575" stop-color="#393939"/><stop offset="0.0750" stop-color="#393939"/><stop offset="0.0750" stop-color="#333333"/><stop offset="0.1024" stop-color="#323232"/><stop offset="0.1024" stop-color="#323232"/><stop offset="0.1270" stop-color="#353535"/><stop offset="0.1270" stop-color="#353535"/><stop offset="0.1433" stop-color="#373737"/><stop offset="0.1433" stop-color="#373737"/><stop offset="0.2803" stop-color="#373737"/><stop offset="0.2803" stop-color="#333333"/><stop offset="0.2967" stop-color="#333333"/><stop offset="0.2967" stop-color="#333333"/><stop offset="0.3130" stop-color="#303030"/><stop offset="0.3130" stop-color="#343434"/><stop offset="0.3273" stop-color="#323232"/><stop offset="0.3273" stop-color="#323232"/><stop offset="0.3478" stop-color="#313131"/><stop offset="0.3478" stop-color="#313131"/><stop offset="0.3785" stop-color="#343434"/><stop offset="0.3785" stop-color="#343434"/><stop offset="0.4398" stop-color="#373737"/><stop offset="0.4398" stop-color="#373737"/><stop offset="0.4459" stop-color="#373737"/><stop offset="0.4459" stop-color="#373737"/><stop offset="0.4461" stop-color="#3a3a3a"/><stop offset="0.4461" stop-color="#3b3b3b"/><stop offset="0.4725" stop-color="#3b3b3b"/><stop offset="0.4725" stop-color="#3a3a3a"/><stop offset="0.4727" stop-color="#353535"/><stop offset="0.4727" stop-color="#343434"/><stop offset="0.5175" stop-color="#343434"/><stop offset="0.5175" stop-color="#343434"/><stop offset="0.5216" stop-color="#383838"/><stop offset="0.5216" stop-color="#383838"/><stop offset="0.5481" stop-color="#373737"/><stop offset="0.5481" stop-color="#373737"/><stop offset="0.6136" stop-color="#363636"/><stop offset="0.6136" stop-color="#363636"/><stop offset="0.6442" stop-color="#3a3a3a"/><stop offset="0.6442" stop-color="#3a3a3a"/><stop offset="0.6749" stop-color="#373737"/><stop offset="0.6749" stop-color="#373737"/><stop offset="0.6954" stop-color="#333333"/><stop offset="0.6954" stop-color="#333333"/><stop offset="0.7567" stop-color="#343434"/><stop offset="0.7567" stop-color="#343434"/><stop offset="0.7949" stop-color="#343434"/><stop offset="0.7949" stop-color="#353535"/><stop offset="0.7951" stop-color="#3c3c3c"/><stop offset="0.7951" stop-color="#3d3d3d"/><stop offset="0.8323" stop-color="#393939"/><stop offset="0.8323" stop-color="#393939"/><stop offset="0.8426" stop-color="#3b3b3b"/><stop offset="0.8426" stop-color="#3b3b3b"/><stop offset="0.8630" stop-color="#363636"/><stop offset="0.8630" stop-color="#363636"/><stop offset="0.8957" stop-color="#383838"/><stop offset="0.8957" stop-color="#383838"/><stop offset="0.9203" stop-color="#383838"/><stop offset="0.9203" stop-color="#383838"/><stop offset="0.9407" stop-color="#353535"/><stop offset="0.9407" stop-color="#353535"/><stop offset="0.9571" stop-color="#383838"/><stop offset="0.9571" stop-color="#383838"/><stop offset="0.9612" stop-color="#383838"/><stop offset="0.9612" stop-color="#383838"/><stop offset="0.9614" stop-color="#303030"/><stop offset="0.9614" stop-color="#2f2f2f"/><stop offset="0.9661" stop-color="#2f2f2f"/><stop offset="0.9661" stop-color="#303030"/><stop offset="0.9663" stop-color="#383838"/><stop offset="0.9663" stop-color="#393939"/><stop offset="0.9693" stop-color="#3a3a3a"/><stop offset="0.9693" stop-color="#3a3a3a"/><stop offset="0.9775" stop-color="#353535"/><stop offset="0.9775" stop-color="#353535"/><stop offset="0.9824" stop-color="#353535"/><stop offset="0.9824" stop-color="#363636"/><stop offset="0.9826" stop-color="#3a3a3a"/><stop offset="0.9826" stop-color="#3a3a3a"/><stop offset="0.9898" stop-color="#3a3a3a"/><stop offset="0.9898" stop-color="#393939"/><stop offset="0.9900" stop-color="#2e2e2e"/><stop offset="0.9900" stop-color="#2c2c2c"/><stop offset="0.9937" stop-color="#2c2c2c"/><stop offset="0.9937" stop-color="#2d2d2d"/><stop offset="0.9939" stop-color="#363636"/><stop offset="0.9939" stop-color="#373737"/><stop offset="1.0000" stop-color="#373737"/></linearGradient>
<linearGradient id="d8" gradientUnits="userSpaceOnUse" x1="0" x2="0" y1="629.9" y2="1119"><stop offset="0.0000" stop-color="#333333"/><stop offset="0.0002" stop-color="#333333"/><stop offset="0.0002" stop-color="#333333"/><stop offset="0.0677" stop-color="#333333"/><stop offset="0.0677" stop-color="#393939"/><stop offset="0.0750" stop-color="#393939"/><stop offset="0.0750" stop-color="#333333"/><stop offset="0.1024" stop-color="#323232"/><stop offset="0.1024" stop-color="#323232"/><stop offset="0.1270" stop-color="#353535"/><stop offset="0.1270" stop-color="#353535"/><stop offset="0.1433" stop-color="#373737"/><stop offset="0.1433" stop-color="#373737"/><stop offset="0.2967" stop-color="#373737"/><stop offset="0.2967" stop-color="#373737"/><stop offset="0.3273" stop-color="#323232"/><stop offset="0.3273" stop-color="#323232"/><stop offset="0.3478" stop-color="#313131"/><stop offset="0.3478" stop-color="#313131"/><stop offset="0.3785" stop-color="#343434"/><stop offset="0.3785" stop-color="#343434"/><stop offset="0.4398" stop-color="#373737"/><stop offset="0.4398" stop-color="#373737"/><stop offset="0.4459" stop-color="#373737"/><stop offset="0.4459" stop-color="#373737"/><stop offset="0.4461" stop-color="#3a3a3a"/><stop offset="0.4461" stop-color="#3b3b3b"/><stop offset="0.4725" stop-color="#3b3b3b"/><stop offset="0.4725" stop-color="#3a3a3a"/><stop offset="0.4727" stop-color="#353535"/><stop offset="0.4727" stop-color="#343434"/><stop offset="0.5175" stop-color="#343434"/><stop offset="0.5175" stop-color="#343434"/><stop offset="0.5216" stop-color="#383838"/><stop offset="0.5216" stop-color="#383838"/><stop offset="0.5481" stop-color="#373737"/><stop offset="0.5481" stop-color="#373737"/><stop offset="0.6136" stop-color="#363636"/><stop offset="0.6136" stop-color="#363636"/><stop offset="0.6442" stop-color="#3a3a3a"/><stop offset="0.6442" stop-color="#3a3a3a"/><stop offset="0.6749" stop-color="#373737"/><stop offset="0.6749" stop-color="#373737"/><stop offset="0.6954" stop-color="#333333"/><stop offset="0.6954" stop-color="#333333"/><stop offset="0.7567" stop-color="#343434"/><stop offset="0.7567" stop-color="#343434"/><stop offset="0.7949" stop-color="#343434"/><stop offset="0.7949" stop-color="#353535"/><stop offset="0.7951" stop-color="#3c3c3c"/><stop offset="0.7951" stop-color="#3d3d3d"/><stop offset="0.8323" stop-color="#393939"/><stop offset="0.8323" stop-color="#393939"/><stop offset="0.8426" stop-color="#3b3b3b"/><stop offset="0.8426" stop-color="#3b3b3b"/><stop offset="0.8630" stop-color="#363636"/><stop offset="0.8630" stop-color="#363636"/><stop offset="0.8957" stop-color="#383838"/><stop offset="0.8957" stop-color="#383838"/><stop offset="0.9203" stop-color="#383838"/><stop offset="0.9203" stop-color="#383838"/><stop offset="0.9407" stop-color="#353535"/><stop offset="0.9407" stop-color="#353535"/><stop offset="0.9571" stop-color="#383838"/><stop offset="0.9571" stop-color="#383838"/><stop offset="0.9612" stop-color="#383838"/><stop offset="0.9612" stop-color="#383838"/><stop offset="0.9614" stop-color="#303030"/><stop offset="0.9614" stop-color="#2f2f2f"/><stop offset="0.9661" stop-color="#2f2f2f"/><stop offset="0.9661" stop-color="#303030"/><stop offset="0.9663" stop-color="#383838"/><stop offset="0.9663" stop-color="#393939"/><stop offset="0.9693" stop-color="#3a3a3a"/><stop offset="0.9693" stop-color="#3a3a3a"/><stop offset="0.9775" stop-color="#353535"/><stop offset="0.9775" stop-color="#353535"/><stop offset="0.9824" stop-color="#353535"/><stop offset="0.9824" stop-color="#363636"/><stop offset="0.9826" stop-color="#3a3a3a"/><stop offset="0.9826" stop-color="#3a3a3a"/><stop offset="0.9898" stop-color="#3a3a3a"/><stop offset="0.9898" stop-color="#393939"/><stop offset="0.9900" stop-color="#2e2e2e"/><stop offset="0.9900" stop-color="#2c2c2c"/><stop offset="0.9937" stop-color="#2c2c2c"/><stop offset="0.9937" stop-color="#2d2d2d"/><stop offset="0.9939" stop-color="#363636"/><stop offset="0.9939" stop-color="#373737"/><stop offset="1.0000" stop-color="#373737"/></linearGradient>
<linearGradient id="d9" gradientUnits="userSpaceOnUse" x1="0" x2="0" y1="629.9" y2="1119"><stop offset="0.0000" stop-color="#333333"/><stop offset="0.0002" stop-color="#333333"/><stop offset="0.0002" stop-color="#333333"/><stop offset="0.0750" stop-color="#333333"/><stop offset="0.0750" stop-color="#333333"/><stop offset="0.1024" stop-color="#323232"/><stop offset="0.1024" stop-color="#323232"/><stop offset="0.1270" stop-color="#353535"/><stop offset="0.1270" stop-color="#353535"/><stop offset="0.1433" stop-color="#373737"/><stop offset="0.1433" stop-color="#373737"/><stop offset="0.2967" stop-color="#373737"/><stop offset="0.2967" stop-color="#373737"/><stop offset="0.3273" stop-color="#323232"/><stop offset="0.3273" stop-color="#323232"/><stop offset="0.3478" stop-color="#313131"/><stop offset="0.3478" stop-color="#313131"/><stop offset="0.3785" stop-color="#343434"/><stop offset="0.3785" stop-color="#343434"/><stop offset="0.4398" stop-color="#373737"/><stop offset="0.4398" stop-color="#373737"/><stop offset="0.4459" stop-color="#373737"/><stop offset="0.4459" stop-color="#373737"/><stop offset="0.4461" stop-color="#3a3a3a"/><stop offset="0.4461" stop-color="#3b3b3b"/><stop offset="0.4725" stop-color="#3b3b3b"/><stop offset="0.4725" stop-color="#3a3a3a"/><stop offset="0.4727" stop-color="#353535"/><stop offset="0.4727" stop-color="#343434"/><stop offset="0.5175" stop-color="#343434"/><stop offset="0.5175" stop-color="#343434"/><stop offset="0.5216" stop-color="#383838"/><stop offset="0.5216" stop-color="#383838"/><stop offset="0.5481" stop-color="#373737"/><stop offset="0.5481" stop-color="#373737"/><stop offset="0.6136" stop-color="#363636"/><stop offset="0.6136" stop-color="#363636"/><stop offset="0.6442" stop-color="#3a3a3a"/><stop offset="0.6442" stop-color="#3a3a3a"/><stop offset="0.6749" stop-color="#373737"/><stop offset="0.6749" stop-color="#373737"/><stop offset="0.6954" stop-color="#333333"/><stop offset="0.6954" stop-color="#333333"/><stop offset="0.7567" stop-color="#343434"/><stop offset="0.7567" stop-color="#343434"/><stop offset="0.7949" stop-color="#343434"/><stop offset="0.7949" stop-color="#383838"/><stop offset="0.7951" stop-color="#383838"/><stop offset="0.7951" stop-color="#383838"/><stop offset="0.7996" stop-color="#373737"/><stop offset="0.7996" stop-color="#3c3c3c"/><stop offset="0.8323" stop-color="#393939"/><stop offset="0.8323" stop-color="#393939"/><stop offset="0.8426" stop-color="#3b3b3b"/><stop offset="0.8426" stop-color="#3b3b3b"/><stop offset="0.8630" stop-color="#363636"/><stop offset="0.8630" stop-color="#363636"/><stop offset="0.8957" stop-color="#383838"/><stop offset="0.8957" stop-color="#383838"/><stop offset="0.9203" stop-color="#383838"/><stop offset="0.9203" stop-color="#383838"/><stop offset="0.9407" stop-color="#353535"/><stop offset="0.9407" stop-color="#353535"/><stop offset="0.9571" stop-color="#383838"/><stop offset="0.9571" stop-color="#383838"/><stop offset="0.9612" stop-color="#383838"/><stop offset="0.9612" stop-color="#383838"/><stop offset="0.9614" stop-color="#303030"/><stop offset="0.9614" stop-color="#2f2f2f"/><stop offset="0.9661" stop-color="#2f2f2f"/><stop offset="0.9661" stop-color="#303030"/><stop offset="0.9663" stop-color="#383838"/><stop offset="0.9663" stop-color="#393939"/><stop offset="0.9693" stop-color="#3a3a3a"/><stop offset="0.9693" stop-color="#3a3a3a"/><stop offset="0.9775" stop-color="#353535"/><stop offset="0.9775" stop-color="#353535"/><stop offset="0.9824" stop-color="#353535"/><stop offset="0.9824" stop-color="#363636"/><stop offset="0.9826" stop-color="#3a3a3a"/><stop offset="0.9826" stop-color="#3a3a3a"/><stop offset="0.9898" stop-color="#3a3a3a"/><stop offset="0.9898" stop-color="#393939"/><stop offset="0.9900" stop-color="#2e2e2e"/><stop offset="0.9900" stop-color="#2c2c2c"/><stop offset="0.9937" stop-color="#2c2c2c"/><stop offset="0.9937" stop-color="#2d2d2d"/><stop offset="0.9939" stop-color="#363636"/><stop offset="0.9939" stop-color="#373737"/><stop offset="1.0000" stop-color="#373737"/></linearGradient>
<linearGradient id="d10" gradientUnits="userSpaceOnUse" x1="0" x2="0" y1="629.9" y2="1119"><stop offset="0.0000" stop-color="#333333"/><stop offset="0.0002" stop-color="#333333"/><stop offset="0.0002" stop-color="#333333"/><stop offset="0.0750" stop-color="#333333"/><stop offset="0.0750" stop-color="#333333"/><stop offset="0.1024" stop-color="#323232"/><stop offset="0.1024" stop-color="#323232"/><stop offset="0.1270" stop-color="#353535"/><stop offset="0.1270" stop-color="#353535"/><stop offset="0.1433" stop-color="#373737"/><stop offset="0.1433" stop-color="#373737"/><stop offset="0.2967" stop-color="#373737"/><stop offset="0.2967" stop-color="#373737"/><stop offset="0.3273" stop-color="#323232"/><stop offset="0.3273" stop-color="#323232"/><stop offset="0.3478" stop-color="#313131"/><stop offset="0.3478" stop-color="#313131"/><stop offset="0.3785" stop-color="#343434"/><stop offset="0.3785" stop-color="#343434"/><stop offset="0.4398" stop-color="#373737"/><stop offset="0.4398" stop-color="#373737"/><stop offset="0.4459" stop-color="#373737"/><stop offset="0.4459" stop-color="#373737"/><stop offset="0.4461" stop-color="#3a3a3a"/><stop offset="0.4461" stop-color="#3b3b3b"/><stop offset="0.4725" stop-color="#3b3b3b"/><stop offset="0.4725" stop-color="#3a3a3a"/><stop offset="0.4727" stop-color="#353535"/><stop offset="0.4727" stop-color="#343434"/><stop offset="0.5175" stop-color="#343434"/><stop offset="0.5175" stop-color="#343434"/><stop offset="0.5216" stop-color="#383838"/><stop offset="0.5216" stop-color="#383838"/><stop offset="0.5481" stop-color="#373737"/><stop offset="0.5481" stop-color="#373737"/><stop offset="0.6136" stop-color="#363636"/><stop offset="0.6136" stop-color="#363636"/><stop offset="0.6442" stop-color="#3a3a3a"/><stop offset="0.6442" stop-color="#3a3a3a"/><stop offset="0.6749" stop-color="#373737"/><stop offset="0.6749" stop-color="#373737"/><stop offset="0.6954" stop-color="#333333"/><stop offset="0.6954" stop-color="#333333"/><stop offset="0.7567" stop-color="#343434"/><stop offset="0.7567" stop-color="#343434"/><stop offset="0.7949" stop-color="#343434"/><stop offset="0.7949" stop-color="#383838"/><stop offset="0.7951" stop-color="#383838"/><stop offset="0.7951" stop-color="#383838"/><stop offset="0.8011" stop-color="#363636"/><stop offset="0.8011" stop-color="#363636"/><stop offset="0.8072" stop-color="#353535"/><stop offset="0.8072" stop-color="#353535"/><stop offset="0.8133" stop-color="#333333"/><stop offset="0.8133" stop-color="#333333"/><stop offset="0.8139" stop-color="#333333"/><stop offset="0.8139" stop-color="#3b3b3b"/><stop offset="0.8323" stop-color="#393939"/><stop offset="0.8323" stop-color="#393939"/><stop offset="0.8426" stop-color="#3b3b3b"/><stop offset="0.8426" stop-color="#3b3b3b"/><stop offset="0.8630" stop-color="#363636"/><stop offset="0.8630" stop-color="#363636"/><stop offset="0.8957" stop-color="#383838"/><stop offset="0.8957" stop-color="#383838"/><stop offset="0.9203" stop-color="#383838"/><stop offset="0.9203" stop-color="#383838"/><stop offset="0.9407" stop-color="#353535"/><stop offset="0.9407" stop-color="#353535"/><stop offset="0.9571" stop-color="#383838"/><stop offset="0.9571" stop-color="#383838"/><stop offset="0.9612" stop-color="#383838"/><stop offset="0.9612" stop-color="#383838"/><stop offset="0.9614" stop-color="#303030"/><stop offset="0.9614" stop-color="#2f2f2f"/><stop offset="0.9661" stop-color="#2f2f2f"/><stop offset="0.9661" stop-color="#303030"/><stop offset="0.9663" stop-color="#383838"/><stop offset="0.9663" stop-color="#393939"/><stop offset="0.9693" stop-color="#3a3a3a"/><stop offset="0.9693" stop-color="#3a3a3a"/><stop offset="0.9775" stop-color="#353535"/><stop offset="0.9775" stop-color="#353535"/><stop offset="0.9824" stop-color="#353535"/><stop offset="0.9824" stop-color="#363636"/><stop offset="0.9826" stop-color="#3a3a3a"/><stop offset="0.9826" stop-color="#3a3a3a"/><stop offset="0.9898" stop-color="#3a3a3a"/><stop offset="0.9898" stop-color="#393939"/><stop offset="0.9900" stop-color="#2e2e2e"/><stop offset="0.9900" stop-color="#2c2c2c"/><stop offset="0.9937" stop-color="#2c2c2c"/><stop offset="0.9937" stop-color="#2d2d2d"/><stop offset="0.9939" stop-color="#363636"/><stop offset="0.9939" stop-color="#373737"/><stop offset="1.0000" stop-color="#373737"/></linearGradient>
<linearGradient id="d11" gradientUnits="userSpaceOnUse" x1="0" x2="0" y1="629.9" y2="1119"><stop offset="0.0000" stop-color="#333333"/><stop offset="0.0002" stop-color="#333333"/><stop offset="0.0002" stop-color="#333333"/><stop offset="0.0750" stop-color="#333333"/><stop offset="0.0750" stop-color="#333333"/><stop offset="0.1024" stop-color="#323232"/><stop offset="0.1024" stop-color="#323232"/><stop offset="0.1270" stop-color="#353535"/><stop offset="0.1270" stop-color="#353535"/><stop offset="0.1433" stop-color="#373737"/><stop offset="0.1433" stop-color="#373737"/><stop offset="0.2967" stop-color="#373737"/><stop offset="0.2967" stop-color="#373737"/><stop offset="0.3273" stop-color="#323232"/><stop offset="0.3273" stop-color="#323232"/><stop offset="0.3478" stop-color="#313131"/><stop offset="0.3478" stop-color="#313131"/><stop offset="0.3785" stop-color="#343434"/><stop offset="0.3785" stop-color="#343434"/><stop offset="0.4398" stop-color="#373737"/><stop offset="0.4398" stop-color="#373737"/><stop offset="0.4459" stop-color="#373737"/><stop offset="0.4459" stop-color="#373737"/><stop offset="0.4461" stop-color="#3a3a3a"/><stop offset="0.4461" stop-color="#3b3b3b"/><stop offset="0.4725" stop-color="#3b3b3b"/><stop offset="0.4725" stop-color="#3a3a3a"/><stop offset="0.4727" stop-color="#353535"/><stop offset="0.4727" stop-color="#343434"/><stop offset="0.5175" stop-color="#343434"/><stop offset="0.5175" stop-color="#343434"/><stop offset="0.5216" stop-color="#383838"/><stop offset="0.5216" stop-color="#383838"/><stop offset="0.5481" stop-color="#373737"/><stop offset="0.5481" stop-color="#373737"/><stop offset="0.6136" stop-color="#363636"/><stop offset="0.6136" stop-color="#363636"/><stop offset="0.6442" stop-color="#3a3a3a"/><stop offset="0.6442" stop-color="#3a3a3a"/><stop offset="0.6749" stop-color="#373737"/><stop offset="0.6749" stop-color="#373737"/><stop offset="0.6954" stop-color="#333333"/><stop offset="0.6954" stop-color="#333333"/><stop offset="0.7567" stop-color="#343434"/><stop offset="0.7567" stop-color="#343434"/><stop offset="0.7949" stop-color="#343434"/><stop offset="0.7949" stop-color="#383838"/><stop offset="0.7951" stop-color="#383838"/><stop offset="0.7951" stop-color="#383838"/><stop offset="0.8011" stop-color="#363636"/><stop offset="0.8011" stop-color="#363636"/><stop offset="0.8072" stop-color="#343434"/><stop offset="0.8072" stop-color="#343434"/><stop offset="0.8133" stop-color="#333333"/><stop offset="0.8133" stop-color="#333333"/><stop offset="0.8195" stop-color="#313131"/><stop offset="0.8195" stop-color="#313131"/><stop offset="0.8201" stop-color="#313131"/><stop offset="0.8201" stop-color="#3a3a3a"/><stop offset="0.8323" stop-color="#393939"/><stop offset="0.8323" stop-color="#393939"/><stop offset="0.8426" stop-color="#3b3b3b"/><stop offset="0.8426" stop-color="#3b3b3b"/><stop offset="0.8630" stop-color="#363636"/><stop offset="0.8630" stop-color="#363636"/><stop offset="0.8957" stop-color="#383838"/><stop offset="0.8957" stop-color="#383838"/><stop offset="0.9203" stop-color="#383838"/><stop offset="0.9203" stop-color="#383838"/><stop offset="0.9407" stop-color="#353535"/><stop offset="0.9407" stop-color="#353535"/><stop offset="0.9571" stop-color="#383838"/><stop offset="0.9571" stop-color="#383838"/><stop offset="0.9612" stop-color="#383838"/><stop offset="0.9612" stop-color="#383838"/><stop offset="0.9614" stop-color="#303030"/><stop offset="0.9614" stop-color="#2f2f2f"/><stop offset="0.9661" stop-color="#2f2f2f"/><stop offset="0.9661" stop-color="#303030"/><stop offset="0.9663" stop-color="#383838"/><stop offset="0.9663" stop-color="#393939"/><stop offset="0.9693" stop-color="#3a3a3a"/><stop offset="0.9693" stop-color="#3a3a3a"/><stop offset="0.9775" stop-color="#353535"/><stop offset="0.9775" stop-color="#353535"/><stop offset="0.9824" stop-color="#353535"/><stop offset="0.9824" stop-color="#363636"/><stop offset="0.9826" stop-color="#3a3a3a"/><stop offset="0.9826" stop-color="#3a3a3a"/><stop offset="0.9898" stop-color="#3a3a3a"/><stop offset="0.9898" stop-color="#393939"/><stop offset="0.9900" stop-color="#2e2e2e"/><stop offset="0.9900" stop-color="#2c2c2c"/><stop offset="0.9937" stop-color="#2c2c2c"/><stop offset="0.9937" stop-color="#2d2d2d"/><stop offset="0.9939" stop-color="#363636"/><stop offset="0.9939" stop-color="#373737"/><stop offset="1.0000" stop-color="#373737"/></linearGradient>
<linearGradient id="d12" gradientUnits="userSpaceOnUse" x1="0" x2="0" y1="629.9" y2="1119"><stop offset="0.0000" stop-color="#333333"/><stop offset="0.0002" stop-color="#333333"/><stop offset="0.0002" stop-color="#333333"/><stop offset="0.0750" stop-color="#333333"/><stop offset="0.0750" stop-color="#333333"/><stop offset="0.1024" stop-color="#323232"/><stop offset="0.1024" stop-color="#323232"/><stop offset="0.1270" stop-color="#353535"/><stop offset="0.1270" stop-color="#353535"/><stop offset="0.1433" stop-color="#373737"/><stop offset="0.1433" stop-color="#373737"/><stop offset="0.2967" stop-color="#373737"/><stop offset="0.2967" stop-color="#373737"/><stop offset="0.3273" stop-color="#323232"/><stop offset="0.3273" stop-color="#323232"/><stop offset="0.3478" stop-color="#313131"/><stop offset="0.3478" stop-color="#313131"/><stop offset="0.3785" stop-color="#343434"/><stop offset="0.3785" stop-color="#343434"/><stop offset="0.4398" stop-color="#373737"/><stop offset="0.4398" stop-color="#373737"/><stop offset="0.4459" stop-color="#373737"/><stop offset="0.4459" stop-color="#373737"/><stop offset="0.4461" stop-color="#3a3a3a"/><stop offset="0.4461" stop-color="#3b3b3b"/><stop offset="0.4725" stop-color="#3b3b3b"/><stop offset="0.4725" stop-color="#3a3a3a"/><stop offset="0.4727" stop-color="#353535"/><stop offset="0.4727" stop-color="#343434"/><stop offset="0.5175" stop-color="#343434"/><stop offset="0.5175" stop-color="#343434"/><stop offset="0.5216" stop-color="#383838"/><stop offset="0.5216" stop-color="#383838"/><stop offset="0.5481" stop-color="#373737"/><stop offset="0.5481" stop-color="#373737"/><stop offset="0.6136" stop-color="#363636"/><stop offset="0.6136" stop-color="#363636"/><stop offset="0.6442" stop-color="#3a3a3a"/><stop offset="0.6442" stop-color="#3a3a3a"/><stop offset="0.6749" stop-color="#373737"/><stop offset="0.6749" stop-color="#373737"/><stop offset="0.6954" stop-color="#333333"/><stop offset="0.6954" stop-color="#333333"/><stop offset="0.7567" stop-color="#343434"/><stop offset="0.7567" stop-color="#343434"/><stop offset="0.7949" stop-color="#343434"/><stop offset="0.7949" stop-color="#383838"/><stop offset="0.7951" stop-color="#383838"/><stop offset="0.7951" stop-color="#383838"/><stop offset="0.8011" stop-color="#363636"/><stop offset="0.8011" stop-color="#363636"/><stop offset="0.8072" stop-color="#343434"/><stop offset="0.8072" stop-color="#343434"/><stop offset="0.8133" stop-color="#323232"/><stop offset="0.8133" stop-color="#323232"/><stop offset="0.8195" stop-color="#313131"/><stop offset="0.8195" stop-color="#313131"/><stop offset="0.8252" stop-color="#2f2f2f"/><stop offset="0.8252" stop-color="#3a3a3a"/><stop offset="0.8323" stop-color="#393939"/><stop offset="0.8323" stop-color="#393939"/><stop offset="0.8426" stop-color="#3b3b3b"/><stop offset="0.8426" stop-color="#3b3b3b"/><stop offset="0.8630" stop-color="#363636"/><stop offset="0.8630" stop-color="#363636"/><stop offset="0.8957" stop-color="#383838"/><stop offset="0.8957" stop-color="#383838"/><stop offset="0.9203" stop-color="#383838"/><stop offset="0.9203" stop-color="#383838"/><stop offset="0.9407" stop-color="#353535"/><stop offset="0.9407" stop-color="#353535"/><stop offset="0.9571" stop-color="#383838"/><stop offset="0.9571" stop-color="#383838"/><stop offset="0.9612" stop-color="#383838"/><stop offset="0.9612" stop-color="#383838"/><stop offset="0.9614" stop-color="#303030"/><stop offset="0.9614" stop-color="#2f2f2f"/><stop offset="0.9661" stop-color="#2f2f2f"/><stop offset="0.9661" stop-color="#303030"/><stop offset="0.9663" stop-color="#383838"/><stop offset="0.9663" stop-color="#393939"/><stop offset="0.9693" stop-color="#3a3a3a"/><stop offset="0.9693" stop-color="#3a3a3a"/><stop offset="0.9775" stop-color="#353535"/><stop offset="0.9775" stop-color="#353535"/><stop offset="0.9824" stop-color="#353535"/><stop offset="0.9824" stop-color="#363636"/><stop offset="0.9826" stop-color="#3a3a3a"/><stop offset="0.9826" stop-color="#3a3a3a"/><stop offset="0.9898" stop-color="#3a3a3a"/><stop offset="0.9898" stop-color="#393939"/><stop offset="0.9900" stop-color="#2e2e2e"/><stop offset="0.9900" stop-color="#2c2c2c"/><stop offset="0.9937" stop-color="#2c2c2c"/><stop offset="0.9937" stop-color="#2d2d2d"/><stop offset="0.9939" stop-color="#363636"/><stop offset="0.9939" stop-color="#373737"/><stop offset="1.0000" stop-color="#373737"/></linearGradient>
<linearGradient id="d13" gradientUnits="userSpaceOnUse" x1="0" x2="0" y1="629.9" y2="1119"><stop offset="0.0000" stop-color="#333333"/><stop offset="0.0002" stop-color="#333333"/><stop offset="0.0002" stop-color="#333333"/><stop offset="0.0750" stop-color="#333333"/><stop offset="0.0750" stop-color="#333333"/><stop offset="0.1024" stop-color="#323232"/><stop offset="0.1024" stop-color="#323232"/><stop offset="0.1270" stop-color="#353535"/><stop offset="0.1270" stop-color="#353535"/><stop offset="0.1433" stop-color="#373737"/><stop offset="0.1433" stop-color="#373737"/><stop offset="0.2905" stop-color="#373737"/><stop offset="0.2905" stop-color="#333333"/><stop offset="0.2967" stop-color="#333333"/><stop offset="0.2967" stop-color="#333333"/><stop offset="0.3110" stop-color="#313131"/><stop offset="0.3110" stop-color="#353535"/><stop offset="0.3273" stop-color="#323232"/><stop offset="0.3273" stop-color="#323232"/><stop offset="0.3478" stop-color="#313131"/><stop offset="0.3478" stop-color="#313131"/><stop offset="0.3785" stop-color="#343434"/><stop offset="0.3785" stop-color="#343434"/><stop offset="0.4398" stop-color="#373737"/><stop offset="0.4398" stop-color="#373737"/><stop offset="0.4459" stop-color="#373737"/><stop offset="0.4459" stop-color="#373737"/><stop offset="0.4461" stop-color="#3a3a3a"/><stop offset="0.4461" stop-color="#3b3b3b"/><stop offset="0.4725" stop-color="#3b3b3b"/><stop offset="0.4725" stop-color="#3a3a3a"/><stop offset="0.4727" stop-color="#353535"/><stop offset="0.4727" stop-color="#343434"/><stop offset="0.5175" stop-color="#343434"/><stop offset="0.5175" stop-color="#343434"/><stop offset="0.5216" stop-color="#383838"/><stop offset="0.5216" stop-color="#383838"/><stop offset="0.5481" stop-color="#373737"/><stop offset="0.5481" stop-color="#373737"/><stop offset="0.6136" stop-color="#363636"/><stop offset="0.6136" stop-color="#363636"/><stop offset="0.6442" stop-color="#3a3a3a"/><stop offset="0.6442" stop-color="#3a3a3a"/><stop offset="0.6749" stop-color="#373737"/><stop offset="0.6749" stop-color="#373737"/><stop offset="0.6954" stop-color="#333333"/><stop offset="0.6954" stop-color="#333333"/><stop offset="0.7567" stop-color="#343434"/><stop offset="0.7567" stop-color="#343434"/><stop offset="0.7949" stop-color="#343434"/><stop offset="0.7949" stop-color="#383838"/><stop offset="0.7951" stop-color="#383838"/><stop offset="0.7951" stop-color="#383838"/><stop offset="0.8011" stop-color="#363636"/><stop offset="0.8011" stop-color="#363636"/><stop offset="0.8072" stop-color="#343434"/><stop offset="0.8072" stop-color="#343434"/><stop offset="0.8133" stop-color="#323232"/><stop offset="0.8133" stop-color="#323232"/><stop offset="0.8195" stop-color="#313131"/><stop offset="0.8195" stop-color="#313131"/><stop offset="0.8256" stop-color="#2f2f2f"/><stop offset="0.8256" stop-color="#2f2f2f"/><stop offset="0.8295" stop-color="#2e2e2e"/><stop offset="0.8295" stop-color="#393939"/><stop offset="0.8323" stop-color="#393939"/><stop offset="0.8323" stop-color="#393939"/><stop offset="0.8426" stop-color="#3b3b3b"/><stop offset="0.8426" stop-color="#3b3b3b"/><stop offset="0.8630" stop-color="#363636"/><stop offset="0.8630" stop-color="#363636"/><stop offset="0.8957" stop-color="#383838"/><stop offset="0.8957" stop-color="#383838"/><stop offset="0.9203" stop-color="#383838"/><stop offset="0.9203" stop-color="#383838"/><stop offset="0.9407" stop-color="#353535"/><stop offset="0.9407" stop-color="#353535"/><stop offset="0.9571" stop-color="#383838"/><stop offset="0.9571" stop-color="#383838"/><stop offset="0.9612" stop-color="#383838"/><stop offset="0.9612" stop-color="#383838"/><stop offset="0.9614" stop-color="#303030"/><stop offset="0.9614" stop-color="#2f2f2f"/><stop offset="0.9661" stop-color="#2f2f2f"/><stop offset="0.9661" stop-color="#303030"/><stop offset="0.9663" stop-color="#383838"/><stop offset="0.9663" stop-color="#393939"/><stop offset="0.9693" stop-color="#3a3a3a"/><stop offset="0.9693" stop-color="#3a3a3a"/><stop offset="0.9775" stop-color="#353535"/><stop offset="0.9775" stop-color="#353535"/><stop offset="0.9824" stop-color="#353535"/><stop offset="0.9824" stop-color="#363636"/><stop offset="0.9826" stop-color="#3a3a3a"/><stop offset="0.9826" stop-color="#3a3a3a"/><stop offset="0.9898" stop-color="#3a3a3a"/><stop offset="0.9898" stop-color="#393939"/><stop offset="0.9900" stop-color="#2e2e2e"/><stop offset="0.9900" stop-color="#2c2c2c"/><stop offset="0.9937" stop-color="#2c2c2c"/><stop offset="0.9937" stop-color="#2d2d2d"/><stop offset="0.9939" stop-color="#363636"/><stop offset="0.9939" stop-color="#373737"/><stop offset="1.0000" stop-color="#373737"/></linearGradient>
<linearGradient id="d14" gradientUnits="userSpaceOnUse" x1="0" x2="0" y1="629.9" y2="1119"><stop offset="0.0000" stop-color="#333333"/><stop offset="0.0002" stop-color="#333333"/><stop offset="0.0002" stop-color="#333333"/><stop offset="0.0431" stop-color="#333333"/><stop offset="0.0431" stop-color="#373737"/><stop offset="0.0750" stop-color="#373737"/><stop offset="0.0750" stop-color="#353535"/><stop offset="0.1024" stop-color="#343434"/><stop offset="0.1024" stop-color="#343434"/><stop offset="0.1270" stop-color="#373737"/><stop offset="0.1270" stop-color="#373737"/><stop offset="0.1433" stop-color="#383838"/><stop offset="0.1433" stop-color="#383838"/><stop offset="0.2967" stop-color="#383838"/><stop offset="0.2967" stop-color="#383838"/><stop offset="0.3273" stop-color="#343434"/><stop offset="0.3273" stop-color="#343434"/><stop offset="0.3478" stop-color="#333333"/><stop offset="0.3478" stop-color="#333333"/><stop offset="0.3785" stop-color="#353535"/><stop offset="0.3785" stop-color="#353535"/><stop offset="0.4398" stop-color="#383838"/><stop offset="0.4398" stop-color="#383838"/><stop offset="0.4459" stop-color="#383838"/><stop offset="0.4459" stop-color="#393939"/><stop offset="0.4461" stop-color="#3c3c3c"/><stop offset="0.4461" stop-color="#3c3c3c"/><stop offset="0.4705" stop-color="#3c3c3c"/><stop offset="0.4705" stop-color="#3c3c3c"/><stop offset="0.4725" stop-color="#3c3c3c"/><stop offset="0.4725" stop-color="#3c3c3c"/><stop offset="0.4727" stop-color="#363636"/><stop offset="0.4727" stop-color="#363636"/><stop offset="0.5175" stop-color="#353535"/><stop offset="0.5175" stop-color="#353535"/><stop offset="0.5216" stop-color="#383838"/><stop offset="0.5216" stop-color="#383838"/><stop offset="0.5481" stop-color="#373737"/><stop offset="0.5481" stop-color="#373737"/><stop offset="0.5625" stop-color="#373737"/><stop offset="0.5625" stop-color="#373737"/><stop offset="0.6136" stop-color="#363636"/><stop offset="0.6136" stop-color="#363636"/><stop offset="0.6442" stop-color="#3a3a3a"/><stop offset="0.6442" stop-color="#3a3a3a"/><stop offset="0.6749" stop-color="#373737"/><stop offset="0.6749" stop-color="#373737"/><stop offset="0.6954" stop-color="#333333"/><stop offset="0.6954" stop-color="#333333"/><stop offset="0.7567" stop-color="#343434"/><stop offset="0.7567" stop-color="#343434"/><stop offset="0.7949" stop-color="#343434"/><stop offset="0.7949" stop-color="#383838"/><stop offset="0.7951" stop-color="#3f3f3f"/><stop offset="0.7951" stop-color="#404040"/><stop offset="0.8323" stop-color="#3c3c3c"/><stop offset="0.8323" stop-color="#3c3c3c"/><stop offset="0.8385" stop-color="#3d3d3d"/><stop offset="0.8385" stop-color="#3d3d3d"/><stop offset="0.8426" stop-color="#3e3e3e"/><stop offset="0.8426" stop-color="#3e3e3e"/><stop offset="0.8630" stop-color="#3b3b3b"/><stop offset="0.8630" stop-color="#3b3b3b"/><stop offset="0.8835" stop-color="#3d3d3d"/><stop offset="0.8835" stop-color="#3d3d3d"/><stop offset="0.8957" stop-color="#3e3e3e"/><stop offset="0.8957" stop-color="#3e3e3e"/><stop offset="0.9162" stop-color="#3e3e3e"/><stop offset="0.9162" stop-color="#3e3e3e"/><stop offset="0.9203" stop-color="#3e3e3e"/><stop offset="0.9203" stop-color="#3e3e3e"/><stop offset="0.9346" stop-color="#3a3a3a"/><stop offset="0.9346" stop-color="#3a3a3a"/><stop offset="0.9407" stop-color="#383838"/><stop offset="0.9407" stop-color="#383838"/><stop offset="0.9571" stop-color="#3c3c3c"/><stop offset="0.9571" stop-color="#3c3c3c"/><stop offset="0.9612" stop-color="#3c3c3c"/><stop offset="0.9612" stop-color="#3b3b3b"/><stop offset="0.9614" stop-color="#343434"/><stop offset="0.9614" stop-color="#333333"/><stop offset="0.9661" stop-color="#333333"/><stop offset="0.9661" stop-color="#343434"/><stop offset="0.9663" stop-color="#3c3c3c"/><stop offset="0.9663" stop-color="#3d3d3d"/><stop offset="0.9693" stop-color="#3e3e3e"/><stop offset="0.9693" stop-color="#3e3e3e"/><stop offset="0.9775" stop-color="#393939"/><stop offset="0.9775" stop-color="#393939"/><stop offset="0.9824" stop-color="#393939"/><stop offset="0.9824" stop-color="#3a3a3a"/><stop offset="0.9826" stop-color="#3e3e3e"/><stop offset="0.9826" stop-color="#3e3e3e"/><stop offset="0.9877" stop-color="#3e3e3e"/><stop offset="0.9877" stop-color="#3a3a3a"/><stop offset="0.9898" stop-color="#3a3a3a"/><stop offset="0.9898" stop-color="#393939"/><stop offset="0.9900" stop-color="#2e2e2e"/><stop offset="0.9900" stop-color="#2c2c2c"/><stop offset="0.9937" stop-color="#2c2c2c"/><stop offset="0.9937" stop-color="#2d2d2d"/><stop offset="0.9939" stop-color="#363636"/><stop offset="0.9939" stop-color="#373737"/><stop offset="1.0000" stop-color="#373737"/></linearGradient>
<linearGradient id="d15" gradientUnits="userSpaceOnUse" x1="0" x2="0" y1="629.9" y2="1119"><stop offset="0.0000" stop-color="#333333"/><stop offset="0.0002" stop-color="#333333"/><stop offset="0.0002" stop-color="#333333"/><stop offset="0.0750" stop-color="#333333"/><stop offset="0.0750" stop-color="#333333"/><stop offset="0.1024" stop-color="#323232"/><stop offset="0.1024" stop-color="#323232"/><stop offset="0.1270" stop-color="#353535"/><stop offset="0.1270" stop-color="#353535"/><stop offset="0.1433" stop-color="#373737"/><stop offset="0.1433" stop-color="#373737"/><stop offset="0.2803" stop-color="#373737"/><stop offset="0.2803" stop-color="#333333"/><stop offset="0.2967" stop-color="#333333"/><stop offset="0.2967" stop-color="#333333"/><stop offset="0.3171" stop-color="#303030"/><stop offset="0.3171" stop-color="#343434"/><stop offset="0.3273" stop-color="#323232"/><stop offset="0.3273" stop-color="#323232"/><stop offset="0.3478" stop-color="#313131"/><stop offset="0.3478" stop-color="#313131"/><stop offset="0.3785" stop-color="#343434"/><stop offset="0.3785" stop-color="#343434"/><stop offset="0.4398" stop-color="#373737"/><stop offset="0.4398" stop-color="#373737"/><stop offset="0.4459" stop-color="#373737"/><stop offset="0.4459" stop-color="#373737"/><stop offset="0.4461" stop-color="#3a3a3a"/><stop offset="0.4461" stop-color="#3b3b3b"/><stop offset="0.4725" stop-color="#3b3b3b"/><stop offset="0.4725" stop-color="#3a3a3a"/><stop offset="0.4727" stop-color="#353535"/><stop offset="0.4727" stop-color="#343434"/><stop offset="0.5175" stop-color="#343434"/><stop offset="0.5175" stop-color="#343434"/><stop offset="0.5216" stop-color="#383838"/><stop offset="0.5216" stop-color="#383838"/><stop offset="0.5481" stop-color="#373737"/><stop offset="0.5481" stop-color="#373737"/><stop offset="0.6136" stop-color="#363636"/><stop offset="0.6136" stop-color="#363636"/><stop offset="0.6442" stop-color="#3a3a3a"/><stop offset="0.6442" stop-color="#3a3a3a"/><stop offset="0.6749" stop-color="#373737"/><stop offset="0.6749" stop-color="#373737"/><stop offset="0.6954" stop-color="#333333"/><stop offset="0.6954" stop-color="#333333"/><stop offset="0.7567" stop-color="#343434"/><stop offset="0.7567" stop-color="#343434"/><stop offset="0.7949" stop-color="#343434"/><stop offset="0.7949" stop-color="#303030"/><stop offset="0.7951" stop-color="#373737"/><stop offset="0.7951" stop-color="#383838"/><stop offset="0.8323" stop-color="#343434"/><stop offset="0.8323" stop-color="#343434"/><stop offset="0.8385" stop-color="#353535"/><stop offset="0.8385" stop-color="#353535"/><stop offset="0.8426" stop-color="#373737"/><stop offset="0.8426" stop-color="#373737"/><stop offset="0.8630" stop-color="#343434"/><stop offset="0.8630" stop-color="#343434"/><stop offset="0.8835" stop-color="#373737"/><stop offset="0.8835" stop-color="#373737"/><stop offset="0.8957" stop-color="#383838"/><stop offset="0.8957" stop-color="#383838"/><stop offset="0.9203" stop-color="#383838"/><stop offset="0.9203" stop-color="#383838"/><stop offset="0.9407" stop-color="#353535"/><stop offset="0.9407" stop-color="#353535"/><stop offset="0.9571" stop-color="#383838"/><stop offset="0.9571" stop-color="#383838"/><stop offset="0.9612" stop-color="#383838"/><stop offset="0.9612" stop-color="#383838"/><stop offset="0.9614" stop-color="#303030"/><stop offset="0.9614" stop-color="#2f2f2f"/><stop offset="0.9661" stop-color="#2f2f2f"/><stop offset="0.9661" stop-color="#303030"/><stop offset="0.9663" stop-color="#383838"/><stop offset="0.9663" stop-color="#393939"/><stop offset="0.9693" stop-color="#3a3a3a"/><stop offset="0.9693" stop-color="#3a3a3a"/><stop offset="0.9775" stop-color="#353535"/><stop offset="0.9775" stop-color="#353535"/><stop offset="0.9824" stop-color="#353535"/><stop offset="0.9824" stop-color="#363636"/><stop offset="0.9826" stop-color="#3a3a3a"/><stop offset="0.9826" stop-color="#3a3a3a"/><stop offset="0.9898" stop-color="#3a3a3a"/><stop offset="0.9898" stop-color="#393939"/><stop offset="0.9900" stop-color="#2e2e2e"/><stop offset="0.9900" stop-color="#2c2c2c"/><stop offset="0.9937" stop-color="#2c2c2c"/><stop offset="0.9937" stop-color="#2d2d2d"/><stop offset="0.9939" stop-color="#363636"/><stop offset="0.9939" stop-color="#373737"/><stop offset="1.0000" stop-color="#373737"/></linearGradient>
<linearGradient id="d16" gradientUnits="userSpaceOnUse" x1="0" x2="0" y1="629.9" y2="1119"><stop offset="0.0000" stop-color="#333333"/><stop offset="0.0002" stop-color="#333333"/><stop offset="0.0002" stop-color="#1e1e1e"/><stop offset="0.0043" stop-color="#1e1e1e"/><stop offset="0.0043" stop-color="#333333"/><stop offset="0.0750" stop-color="#333333"/><stop offset="0.0750" stop-color="#333333"/><stop offset="0.1024" stop-color="#323232"/><stop offset="0.1024" stop-color="#323232"/><stop offset="0.1178" stop-color="#343434"/><stop offset="0.1178" stop-color="#383838"/><stop offset="0.1270" stop-color="#393939"/><stop offset="0.1270" stop-color="#393939"/><stop offset="0.1433" stop-color="#3b3b3b"/><stop offset="0.1433" stop-color="#3b3b3b"/><stop offset="0.2803" stop-color="#3b3b3b"/><stop offset="0.2803" stop-color="#333333"/><stop offset="0.2967" stop-color="#333333"/><stop offset="0.2967" stop-color="#333333"/><stop offset="0.3171" stop-color="#303030"/><stop offset="0.3171" stop-color="#343434"/><stop offset="0.3273" stop-color="#323232"/><stop offset="0.3273" stop-color="#323232"/><stop offset="0.3478" stop-color="#313131"/><stop offset="0.3478" stop-color="#313131"/><stop offset="0.3785" stop-color="#343434"/><stop offset="0.3785" stop-color="#343434"/><stop offset="0.4398" stop-color="#373737"/><stop offset="0.4398" stop-color="#373737"/><stop offset="0.4459" stop-color="#373737"/><stop offset="0.4459" stop-color="#373737"/><stop offset="0.4461" stop-color="#3a3a3a"/><stop offset="0.4461" stop-color="#3b3b3b"/><stop offset="0.4725" stop-color="#3b3b3b"/><stop offset="0.4725" stop-color="#3a3a3a"/><stop offset="0.4727" stop-color="#353535"/><stop offset="0.4727" stop-color="#343434"/><stop offset="0.5175" stop-color="#343434"/><stop offset="0.5175" stop-color="#343434"/><stop offset="0.5216" stop-color="#383838"/><stop offset="0.5216" stop-color="#383838"/><stop offset="0.5481" stop-color="#373737"/><stop offset="0.5481" stop-color="#373737"/><stop offset="0.6136" stop-color="#363636"/><stop offset="0.6136" stop-color="#363636"/><stop offset="0.6442" stop-color="#3a3a3a"/><stop offset="0.6442" stop-color="#3a3a3a"/><stop offset="0.6749" stop-color="#373737"/><stop offset="0.6749" stop-color="#373737"/><stop offset="0.6954" stop-color="#333333"/><stop offset="0.6954" stop-color="#333333"/><stop offset="0.7567" stop-color="#343434"/><stop offset="0.7567" stop-color="#343434"/><stop offset="0.7949" stop-color="#343434"/><stop offset="0.7949" stop-color="#373737"/><stop offset="0.7951" stop-color="#373737"/><stop offset="0.7951" stop-color="#373737"/><stop offset="0.8011" stop-color="#353535"/><stop offset="0.8011" stop-color="#353535"/><stop offset="0.8072" stop-color="#343434"/><stop offset="0.8072" stop-color="#343434"/><stop offset="0.8133" stop-color="#323232"/><stop offset="0.8133" stop-color="#323232"/><stop offset="0.8180" stop-color="#313131"/><stop offset="0.8180" stop-color="#363636"/><stop offset="0.8323" stop-color="#353535"/><stop offset="0.8323" stop-color="#353535"/><stop offset="0.8385" stop-color="#363636"/><stop offset="0.8385" stop-color="#363636"/><stop offset="0.8426" stop-color="#373737"/><stop offset="0.8426" stop-color="#373737"/><stop offset="0.8630" stop-color="#343434"/><stop offset="0.8630" stop-color="#343434"/><stop offset="0.8835" stop-color="#373737"/><stop offset="0.8835" stop-color="#373737"/><stop offset="0.8957" stop-color="#383838"/><stop offset="0.8957" stop-color="#383838"/><stop offset="0.9203" stop-color="#383838"/><stop offset="0.9203" stop-color="#383838"/><stop offset="0.9407" stop-color="#353535"/><stop offset="0.9407" stop-color="#353535"/><stop offset="0.9495" stop-color="#363636"/><stop offset="0.9495" stop-color="#232323"/><stop offset="0.9548" stop-color="#242424"/><stop offset="0.9548" stop-color="#383838"/><stop offset="0.9571" stop-color="#383838"/><stop offset="0.9571" stop-color="#383838"/><stop offset="0.9612" stop-color="#383838"/><stop offset="0.9612" stop-color="#383838"/><stop offset="0.9614" stop-color="#303030"/><stop offset="0.9614" stop-color="#1f1f1f"/><stop offset="0.9661" stop-color="#1f1f1f"/><stop offset="0.9661" stop-color="#303030"/><stop offset="0.9663" stop-color="#383838"/><stop offset="0.9663" stop-color="#393939"/><stop offset="0.9693" stop-color="#3a3a3a"/><stop offset="0.9693" stop-color="#3a3a3a"/><stop offset="0.9775" stop-color="#353535"/><stop offset="0.9775" stop-color="#353535"/><stop offset="0.9824" stop-color="#353535"/><stop offset="0.9824" stop-color="#363636"/><stop offset="0.9826" stop-color="#3a3a3a"/><stop offset="0.9826" stop-color="#3a3a3a"/><stop offset="0.9836" stop-color="#3a3a3a"/><stop offset="0.9836" stop-color="#050505"/><stop offset="0.9898" stop-color="#000000"/><stop offset="0.9898" stop-color="#393939"/><stop offset="0.9900" stop-color="#2e2e2e"/><stop offset="0.9900" stop-color="#2c2c2c"/><stop offset="0.9937" stop-color="#2c2c2c"/><stop offset="0.9937" stop-color="#2d2d2d"/><stop offset="0.9939" stop-color="#363636"/><stop offset="0.9939" stop-color="#232323"/><stop offset="1.0000" stop-color="#232323"/></linearGradient>
<linearGradient id="d17" gradientUnits="userSpaceOnUse" x1="0" x2="0" y1="629.9" y2="1119"><stop offset="0.0000" stop-color="#333333"/><stop offset="0.0002" stop-color="#333333"/><stop offset="0.0002" stop-color="#333333"/><stop offset="0.0268" stop-color="#333333"/><stop offset="0.0268" stop-color="#383838"/><stop offset="0.0750" stop-color="#383838"/><stop offset="0.0750" stop-color="#333333"/><stop offset="0.1024" stop-color="#323232"/><stop offset="0.1024" stop-color="#323232"/><stop offset="0.1270" stop-color="#353535"/><stop offset="0.1270" stop-color="#353535"/><stop offset="0.1433" stop-color="#373737"/><stop offset="0.1433" stop-color="#373737"/><stop offset="0.1576" stop-color="#373737"/><stop offset="0.1576" stop-color="#313131"/><stop offset="0.1760" stop-color="#313131"/><stop offset="0.1760" stop-color="#373737"/><stop offset="0.2353" stop-color="#373737"/><stop offset="0.2353" stop-color="#333333"/><stop offset="0.2967" stop-color="#333333"/><stop offset="0.2967" stop-color="#333333"/><stop offset="0.3171" stop-color="#303030"/><stop offset="0.3171" stop-color="#343434"/><stop offset="0.3273" stop-color="#323232"/><stop offset="0.3273" stop-color="#323232"/><stop offset="0.3478" stop-color="#313131"/><stop offset="0.3478" stop-color="#313131"/><stop offset="0.3785" stop-color="#343434"/><stop offset="0.3785" stop-color="#343434"/><stop offset="0.4398" stop-color="#373737"/><stop offset="0.4398" stop-color="#373737"/><stop offset="0.4459" stop-color="#373737"/><stop offset="0.4459" stop-color="#373737"/><stop offset="0.4461" stop-color="#3a3a3a"/><stop offset="0.4461" stop-color="#3b3b3b"/><stop offset="0.4725" stop-color="#3b3b3b"/><stop offset="0.4725" stop-color="#3a3a3a"/><stop offset="0.4727" stop-color="#353535"/><stop offset="0.4727" stop-color="#343434"/><stop offset="0.5175" stop-color="#343434"/><stop offset="0.5175" stop-color="#343434"/><stop offset="0.5216" stop-color="#383838"/><stop offset="0.5216" stop-color="#383838"/><stop offset="0.5481" stop-color="#373737"/><stop offset="0.5481" stop-color="#373737"/><stop offset="0.6136" stop-color="#363636"/><stop offset="0.6136" stop-color="#363636"/><stop offset="0.6442" stop-color="#3a3a3a"/><stop offset="0.6442" stop-color="#3a3a3a"/><stop offset="0.6749" stop-color="#373737"/><stop offset="0.6749" stop-color="#373737"/><stop offset="0.6954" stop-color="#333333"/><stop offset="0.6954" stop-color="#333333"/><stop offset="0.7567" stop-color="#343434"/><stop offset="0.7567" stop-color="#343434"/><stop offset="0.7949" stop-color="#343434"/><stop offset="0.7949" stop-color="#353535"/><stop offset="0.7951" stop-color="#3c3c3c"/><stop offset="0.7951" stop-color="#3d3d3d"/><stop offset="0.8323" stop-color="#393939"/><stop offset="0.8323" stop-color="#393939"/><stop offset="0.8426" stop-color="#3b3b3b"/><stop offset="0.8426" stop-color="#3b3b3b"/><stop offset="0.8630" stop-color="#363636"/><stop offset="0.8630" stop-color="#363636"/><stop offset="0.8957" stop-color="#383838"/><stop offset="0.8957" stop-color="#383838"/><stop offset="0.9203" stop-color="#383838"/><stop offset="0.9203" stop-color="#383838"/><stop offset="0.9407" stop-color="#353535"/><stop offset="0.9407" stop-color="#353535"/><stop offset="0.9571" stop-color="#383838"/><stop offset="0.9571" stop-color="#383838"/><stop offset="0.9612" stop-color="#383838"/><stop offset="0.9612" stop-color="#383838"/><stop offset="0.9614" stop-color="#303030"/><stop offset="0.9614" stop-color="#2f2f2f"/><stop offset="0.9661" stop-color="#2f2f2f"/><stop offset="0.9661" stop-color="#303030"/><stop offset="0.9663" stop-color="#383838"/><stop offset="0.9663" stop-color="#393939"/><stop offset="0.9693" stop-color="#3a3a3a"/><stop offset="0.9693" stop-color="#3a3a3a"/><stop offset="0.9775" stop-color="#353535"/><stop offset="0.9775" stop-color="#353535"/><stop offset="0.9824" stop-color="#353535"/><stop offset="0.9824" stop-color="#363636"/><stop offset="0.9826" stop-color="#3a3a3a"/><stop offset="0.9826" stop-color="#3a3a3a"/><stop offset="0.9898" stop-color="#3a3a3a"/><stop offset="0.9898" stop-color="#393939"/><stop offset="0.9900" stop-color="#2e2e2e"/><stop offset="0.9900" stop-color="#2c2c2c"/><stop offset="0.9937" stop-color="#2c2c2c"/><stop offset="0.9937" stop-color="#2d2d2d"/><stop offset="0.9939" stop-color="#363636"/><stop offset="0.9939" stop-color="#373737"/><stop offset="1.0000" stop-color="#373737"/></linearGradient>
<linearGradient id="d18" gradientUnits="userSpaceOnUse" x1="0" x2="0" y1="629.9" y2="1119"><stop offset="0.0000" stop-color="#333333"/><stop offset="0.0002" stop-color="#333333"/><stop offset="0.0002" stop-color="#333333"/><stop offset="0.0487" stop-color="#333333"/><stop offset="0.0487" stop-color="#383838"/><stop offset="0.0750" stop-color="#383838"/><stop offset="0.0750" stop-color="#383838"/><stop offset="0.1024" stop-color="#373737"/><stop offset="0.1024" stop-color="#373737"/><stop offset="0.1270" stop-color="#3a3a3a"/><stop offset="0.1270" stop-color="#3a3a3a"/><stop offset="0.1433" stop-color="#3c3c3c"/><stop offset="0.1433" stop-color="#3c3c3c"/><stop offset="0.2967" stop-color="#3c3c3c"/><stop offset="0.2967" stop-color="#3c3c3c"/><stop offset="0.3273" stop-color="#373737"/><stop offset="0.3273" stop-color="#373737"/><stop offset="0.3478" stop-color="#363636"/><stop offset="0.3478" stop-color="#363636"/><stop offset="0.3785" stop-color="#383838"/><stop offset="0.3785" stop-color="#383838"/><stop offset="0.4398" stop-color="#3c3c3c"/><stop offset="0.4398" stop-color="#3c3c3c"/><stop offset="0.4459" stop-color="#3c3c3c"/><stop offset="0.4459" stop-color="#3c3c3c"/><stop offset="0.4461" stop-color="#3f3f3f"/><stop offset="0.4461" stop-color="#404040"/><stop offset="0.4705" stop-color="#404040"/><stop offset="0.4705" stop-color="#404040"/><stop offset="0.4725" stop-color="#3f3f3f"/><stop offset="0.4725" stop-color="#3f3f3f"/><stop offset="0.4727" stop-color="#393939"/><stop offset="0.4727" stop-color="#393939"/><stop offset="0.5175" stop-color="#363636"/><stop offset="0.5175" stop-color="#363636"/><stop offset="0.5216" stop-color="#3a3a3a"/><stop offset="0.5216" stop-color="#3a3a3a"/><stop offset="0.5481" stop-color="#383838"/><stop offset="0.5481" stop-color="#383838"/><stop offset="0.5625" stop-color="#373737"/><stop offset="0.5625" stop-color="#373737"/><stop offset="0.6136" stop-color="#363636"/><stop offset="0.6136" stop-color="#363636"/><stop offset="0.6442" stop-color="#3a3a3a"/><stop offset="0.6442" stop-color="#3a3a3a"/><stop offset="0.6749" stop-color="#373737"/><stop offset="0.6749" stop-color="#373737"/><stop offset="0.6954" stop-color="#333333"/><stop offset="0.6954" stop-color="#333333"/><stop offset="0.7567" stop-color="#343434"/><stop offset="0.7567" stop-color="#343434"/><stop offset="0.7949" stop-color="#343434"/><stop offset="0.7949" stop-color="#393939"/><stop offset="0.7951" stop-color="#404040"/><stop offset="0.7951" stop-color="#414141"/><stop offset="0.8323" stop-color="#3d3d3d"/><stop offset="0.8323" stop-color="#3d3d3d"/><stop offset="0.8385" stop-color="#3e3e3e"/><stop offset="0.8385" stop-color="#3e3e3e"/><stop offset="0.8426" stop-color="#3f3f3f"/><stop offset="0.8426" stop-color="#3f3f3f"/><stop offset="0.8630" stop-color="#3a3a3a"/><stop offset="0.8630" stop-color="#3a3a3a"/><stop offset="0.8835" stop-color="#3c3c3c"/><stop offset="0.8835" stop-color="#3c3c3c"/><stop offset="0.8957" stop-color="#3c3c3c"/><stop offset="0.8957" stop-color="#3c3c3c"/><stop offset="0.9162" stop-color="#3d3d3d"/><stop offset="0.9162" stop-color="#3d3d3d"/><stop offset="0.9203" stop-color="#3d3d3d"/><stop offset="0.9203" stop-color="#3d3d3d"/><stop offset="0.9346" stop-color="#3a3a3a"/><stop offset="0.9346" stop-color="#3a3a3a"/><stop offset="0.9407" stop-color="#393939"/><stop offset="0.9407" stop-color="#393939"/><stop offset="0.9571" stop-color="#3d3d3d"/><stop offset="0.9571" stop-color="#3d3d3d"/><stop offset="0.9612" stop-color="#3d3d3d"/><stop offset="0.9612" stop-color="#3c3c3c"/><stop offset="0.9614" stop-color="#353535"/><stop offset="0.9614" stop-color="#343434"/><stop offset="0.9661" stop-color="#343434"/><stop offset="0.9661" stop-color="#353535"/><stop offset="0.9663" stop-color="#3d3d3d"/><stop offset="0.9663" stop-color="#3e3e3e"/><stop offset="0.9693" stop-color="#3e3e3e"/><stop offset="0.9693" stop-color="#3e3e3e"/><stop offset="0.9775" stop-color="#3a3a3a"/><stop offset="0.9775" stop-color="#3a3a3a"/><stop offset="0.9824" stop-color="#3a3a3a"/><stop offset="0.9824" stop-color="#3b3b3b"/><stop offset="0.9826" stop-color="#3e3e3e"/><stop offset="0.9826" stop-color="#3f3f3f"/><stop offset="0.9877" stop-color="#3f3f3f"/><stop offset="0.9877" stop-color="#3a3a3a"/><stop offset="0.9898" stop-color="#3a3a3a"/><stop offset="0.9898" stop-color="#393939"/><stop offset="0.9900" stop-color="#2e2e2e"/><stop offset="0.9900" stop-color="#2c2c2c"/><stop offset="0.9937" stop-color="#2c2c2c"/><stop offset="0.9937" stop-color="#2d2d2d"/><stop offset="0.9939" stop-color="#363636"/><stop offset="0.9939" stop-color="#373737"/><stop offset="1.0000" stop-color="#373737"/></linearGradient>
<linearGradient id="d19" gradientUnits="userSpaceOnUse" x1="0" x2="0" y1="629.9" y2="1119"><stop offset="0.0000" stop-color="#333333"/><stop offset="0.0002" stop-color="#333333"/><stop offset="0.0002" stop-color="#333333"/><stop offset="0.0575" stop-color="#333333"/><stop offset="0.0575" stop-color="#383838"/><stop offset="0.0750" stop-color="#383838"/><stop offset="0.0750" stop-color="#363636"/><stop offset="0.1024" stop-color="#353535"/><stop offset="0.1024" stop-color="#353535"/><stop offset="0.1270" stop-color="#383838"/><stop offset="0.1270" stop-color="#383838"/><stop offset="0.1433" stop-color="#3a3a3a"/><stop offset="0.1433" stop-color="#3a3a3a"/><stop offset="0.2967" stop-color="#3a3a3a"/><stop offset="0.2967" stop-color="#3a3a3a"/><stop offset="0.3273" stop-color="#353535"/><stop offset="0.3273" stop-color="#353535"/><stop offset="0.3478" stop-color="#343434"/><stop offset="0.3478" stop-color="#343434"/><stop offset="0.3785" stop-color="#373737"/><stop offset="0.3785" stop-color="#373737"/><stop offset="0.4398" stop-color="#3a3a3a"/><stop offset="0.4398" stop-color="#3a3a3a"/><stop offset="0.4459" stop-color="#3a3a3a"/><stop offset="0.4459" stop-color="#3a3a3a"/><stop offset="0.4461" stop-color="#3d3d3d"/><stop offset="0.4461" stop-color="#3e3e3e"/><stop offset="0.4705" stop-color="#3e3e3e"/><stop offset="0.4705" stop-color="#3e3e3e"/><stop offset="0.4725" stop-color="#3e3e3e"/><stop offset="0.4725" stop-color="#3d3d3d"/><stop offset="0.4727" stop-color="#383838"/><stop offset="0.4727" stop-color="#373737"/><stop offset="0.5175" stop-color="#363636"/><stop offset="0.5175" stop-color="#363636"/><stop offset="0.5216" stop-color="#393939"/><stop offset="0.5216" stop-color="#393939"/><stop offset="0.5481" stop-color="#373737"/><stop offset="0.5481" stop-color="#373737"/><stop offset="0.5625" stop-color="#373737"/><stop offset="0.5625" stop-color="#373737"/><stop offset="0.6136" stop-color="#363636"/><stop offset="0.6136" stop-color="#363636"/><stop offset="0.6442" stop-color="#3a3a3a"/><stop offset="0.6442" stop-color="#3a3a3a"/><stop offset="0.6749" stop-color="#373737"/><stop offset="0.6749" stop-color="#373737"/><stop offset="0.6954" stop-color="#333333"/><stop offset="0.6954" stop-color="#333333"/><stop offset="0.7567" stop-color="#343434"/><stop offset="0.7567" stop-color="#343434"/><stop offset="0.7949" stop-color="#343434"/><stop offset="0.7949" stop-color="#393939"/><stop offset="0.7951" stop-color="#404040"/><stop offset="0.7951" stop-color="#414141"/><stop offset="0.8323" stop-color="#3d3d3d"/><stop offset="0.8323" stop-color="#3d3d3d"/><stop offset="0.8385" stop-color="#3e3e3e"/><stop offset="0.8385" stop-color="#3e3e3e"/><stop offset="0.8426" stop-color="#3f3f3f"/><stop offset="0.8426" stop-color="#3f3f3f"/><stop offset="0.8630" stop-color="#3a3a3a"/><stop offset="0.8630" stop-color="#3a3a3a"/><stop offset="0.8835" stop-color="#3c3c3c"/><stop offset="0.8835" stop-color="#3c3c3c"/><stop offset="0.8957" stop-color="#3c3c3c"/><stop offset="0.8957" stop-color="#3c3c3c"/><stop offset="0.9162" stop-color="#3d3d3d"/><stop offset="0.9162" stop-color="#3d3d3d"/><stop offset="0.9203" stop-color="#3d3d3d"/><stop offset="0.9203" stop-color="#3d3d3d"/><stop offset="0.9346" stop-color="#3a3a3a"/><stop offset="0.9346" stop-color="#3a3a3a"/><stop offset="0.9407" stop-color="#393939"/><stop offset="0.9407" stop-color="#393939"/><stop offset="0.9571" stop-color="#3d3d3d"/><stop offset="0.9571" stop-color="#3d3d3d"/><stop offset="0.9612" stop-color="#3d3d3d"/><stop offset="0.9612" stop-color="#3c3c3c"/><stop offset="0.9614" stop-color="#353535"/><stop offset="0.9614" stop-color="#343434"/><stop offset="0.9661" stop-color="#343434"/><stop offset="0.9661" stop-color="#353535"/><stop offset="0.9663" stop-color="#3d3d3d"/><stop offset="0.9663" stop-color="#3e3e3e"/><stop offset="0.9693" stop-color="#3e3e3e"/><stop offset="0.9693" stop-color="#3e3e3e"/><stop offset="0.9775" stop-color="#3a3a3a"/><stop offset="0.9775" stop-color="#3a3a3a"/><stop offset="0.9824" stop-color="#3a3a3a"/><stop offset="0.9824" stop-color="#3b3b3b"/><stop offset="0.9826" stop-color="#3e3e3e"/><stop offset="0.9826" stop-color="#3f3f3f"/><stop offset="0.9877" stop-color="#3f3f3f"/><stop offset="0.9877" stop-color="#3a3a3a"/><stop offset="0.9898" stop-color="#3a3a3a"/><stop offset="0.9898" stop-color="#393939"/><stop offset="0.9900" stop-color="#2e2e2e"/><stop offset="0.9900" stop-color="#2c2c2c"/><stop offset="0.9937" stop-color="#2c2c2c"/><stop offset="0.9937" stop-color="#2d2d2d"/><stop offset="0.9939" stop-color="#363636"/><stop offset="0.9939" stop-color="#373737"/><stop offset="1.0000" stop-color="#373737"/></linearGradient>
<linearGradient id="d20" gradientUnits="userSpaceOnUse" x1="0" x2="0" y1="629.9" y2="1119"><stop offset="0.0000" stop-color="#333333"/><stop offset="0.0002" stop-color="#333333"/><stop offset="0.0002" stop-color="#333333"/><stop offset="0.0750" stop-color="#333333"/><stop offset="0.0750" stop-color="#333333"/><stop offset="0.1024" stop-color="#323232"/><stop offset="0.1024" stop-color="#323232"/><stop offset="0.1270" stop-color="#353535"/><stop offset="0.1270" stop-color="#353535"/><stop offset="0.1433" stop-color="#373737"/><stop offset="0.1433" stop-color="#373737"/><stop offset="0.2456" stop-color="#373737"/><stop offset="0.2456" stop-color="#343434"/><stop offset="0.2967" stop-color="#343434"/><stop offset="0.2967" stop-color="#343434"/><stop offset="0.3273" stop-color="#2f2f2f"/><stop offset="0.3273" stop-color="#323232"/><stop offset="0.3478" stop-color="#313131"/><stop offset="0.3478" stop-color="#313131"/><stop offset="0.3785" stop-color="#343434"/><stop offset="0.3785" stop-color="#343434"/><stop offset="0.4398" stop-color="#373737"/><stop offset="0.4398" stop-color="#373737"/><stop offset="0.4459" stop-color="#373737"/><stop offset="0.4459" stop-color="#373737"/><stop offset="0.4461" stop-color="#3a3a3a"/><stop offset="0.4461" stop-color="#3b3b3b"/><stop offset="0.4725" stop-color="#3b3b3b"/><stop offset="0.4725" stop-color="#3a3a3a"/><stop offset="0.4727" stop-color="#353535"/><stop offset="0.4727" stop-color="#343434"/><stop offset="0.5175" stop-color="#343434"/><stop offset="0.5175" stop-color="#343434"/><stop offset="0.5216" stop-color="#383838"/><stop offset="0.5216" stop-color="#383838"/><stop offset="0.5481" stop-color="#373737"/><stop offset="0.5481" stop-color="#373737"/><stop offset="0.6136" stop-color="#363636"/><stop offset="0.6136" stop-color="#363636"/><stop offset="0.6442" stop-color="#3a3a3a"/><stop offset="0.6442" stop-color="#3a3a3a"/><stop offset="0.6647" stop-color="#383838"/><stop offset="0.6647" stop-color="#383838"/><stop offset="0.6749" stop-color="#383838"/><stop offset="0.6749" stop-color="#383838"/><stop offset="0.6954" stop-color="#353535"/><stop offset="0.6954" stop-color="#353535"/><stop offset="0.7363" stop-color="#383838"/><stop offset="0.7363" stop-color="#383838"/><stop offset="0.7567" stop-color="#393939"/><stop offset="0.7567" stop-color="#393939"/><stop offset="0.7949" stop-color="#383838"/><stop offset="0.7949" stop-color="#323232"/><stop offset="0.7951" stop-color="#393939"/><stop offset="0.7951" stop-color="#3a3a3a"/><stop offset="0.8323" stop-color="#363636"/><stop offset="0.8323" stop-color="#363636"/><stop offset="0.8385" stop-color="#373737"/><stop offset="0.8385" stop-color="#373737"/><stop offset="0.8426" stop-color="#383838"/><stop offset="0.8426" stop-color="#383838"/><stop offset="0.8630" stop-color="#353535"/><stop offset="0.8630" stop-color="#353535"/><stop offset="0.8835" stop-color="#373737"/><stop offset="0.8835" stop-color="#373737"/><stop offset="0.8957" stop-color="#383838"/><stop offset="0.8957" stop-color="#383838"/><stop offset="0.9203" stop-color="#383838"/><stop offset="0.9203" stop-color="#383838"/><stop offset="0.9407" stop-color="#353535"/><stop offset="0.9407" stop-color="#353535"/><stop offset="0.9571" stop-color="#383838"/><stop offset="0.9571" stop-color="#383838"/><stop offset="0.9612" stop-color="#383838"/><stop offset="0.9612" stop-color="#383838"/><stop offset="0.9614" stop-color="#303030"/><stop offset="0.9614" stop-color="#2f2f2f"/><stop offset="0.9661" stop-color="#2f2f2f"/><stop offset="0.9661" stop-color="#303030"/><stop offset="0.9663" stop-color="#383838"/><stop offset="0.9663" stop-color="#393939"/><stop offset="0.9693" stop-color="#3a3a3a"/><stop offset="0.9693" stop-color="#3a3a3a"/><stop offset="0.9775" stop-color="#353535"/><stop offset="0.9775" stop-color="#353535"/><stop offset="0.9824" stop-color="#353535"/><stop offset="0.9824" stop-color="#363636"/><stop offset="0.9826" stop-color="#3a3a3a"/><stop offset="0.9826" stop-color="#3a3a3a"/><stop offset="0.9898" stop-color="#3a3a3a"/><stop offset="0.9898" stop-color="#393939"/><stop offset="0.9900" stop-color="#2e2e2e"/><stop offset="0.9900" stop-color="#2c2c2c"/><stop offset="0.9937" stop-color="#2c2c2c"/><stop offset="0.9937" stop-color="#2d2d2d"/><stop offset="0.9939" stop-color="#363636"/><stop offset="0.9939" stop-color="#373737"/><stop offset="1.0000" stop-color="#373737"/></linearGradient>
<linearGradient id="d21" gradientUnits="userSpaceOnUse" x1="0" x2="0" y1="629.9" y2="1119"><stop offset="0.0000" stop-color="#333333"/><stop offset="0.0002" stop-color="#333333"/><stop offset="0.0002" stop-color="#333333"/><stop offset="0.0750" stop-color="#333333"/><stop offset="0.0750" stop-color="#303030"/><stop offset="0.1024" stop-color="#2f2f2f"/><stop offset="0.1024" stop-color="#2f2f2f"/><stop offset="0.1106" stop-color="#303030"/><stop offset="0.1106" stop-color="#1b1b1b"/><stop offset="0.1167" stop-color="#1c1c1c"/><stop offset="0.1167" stop-color="#1c1c1c"/><stop offset="0.1229" stop-color="#1c1c1c"/><stop offset="0.1229" stop-color="#1c1c1c"/><stop offset="0.1270" stop-color="#1c1c1c"/><stop offset="0.1270" stop-color="#1c1c1c"/><stop offset="0.1290" stop-color="#1c1c1c"/><stop offset="0.1290" stop-color="#1c1c1c"/><stop offset="0.1351" stop-color="#1c1c1c"/><stop offset="0.1351" stop-color="#1c1c1c"/><stop offset="0.1413" stop-color="#1c1c1c"/><stop offset="0.1413" stop-color="#1c1c1c"/><stop offset="0.1433" stop-color="#1d1d1d"/><stop offset="0.1433" stop-color="#1d1d1d"/><stop offset="0.1474" stop-color="#1e1e1e"/><stop offset="0.1474" stop-color="#1e1e1e"/><stop offset="0.1535" stop-color="#1e1e1e"/><stop offset="0.1535" stop-color="#1e1e1e"/><stop offset="0.1597" stop-color="#1e1e1e"/><stop offset="0.1597" stop-color="#1e1e1e"/><stop offset="0.1658" stop-color="#1e1e1e"/><stop offset="0.1658" stop-color="#1e1e1e"/><stop offset="0.1719" stop-color="#1e1e1e"/><stop offset="0.1719" stop-color="#1e1e1e"/><stop offset="0.1781" stop-color="#1e1e1e"/><stop offset="0.1781" stop-color="#1e1e1e"/><stop offset="0.1842" stop-color="#1e1e1e"/><stop offset="0.1842" stop-color="#1e1e1e"/><stop offset="0.1903" stop-color="#1d1d1d"/><stop offset="0.1903" stop-color="#1d1d1d"/><stop offset="0.1965" stop-color="#1d1d1d"/><stop offset="0.1965" stop-color="#1d1d1d"/><stop offset="0.2026" stop-color="#1d1d1d"/><stop offset="0.2026" stop-color="#1d1d1d"/><stop offset="0.2088" stop-color="#1d1d1d"/><stop offset="0.2088" stop-color="#1d1d1d"/><stop offset="0.2149" stop-color="#1e1e1e"/><stop offset="0.2149" stop-color="#1e1e1e"/><stop offset="0.2210" stop-color="#1e1e1e"/><stop offset="0.2210" stop-color="#1e1e1e"/><stop offset="0.2272" stop-color="#1e1e1e"/><stop offset="0.2272" stop-color="#1e1e1e"/><stop offset="0.2333" stop-color="#1e1e1e"/><stop offset="0.2333" stop-color="#1e1e1e"/><stop offset="0.2394" stop-color="#1e1e1e"/><stop offset="0.2394" stop-color="#1e1e1e"/><stop offset="0.2456" stop-color="#1d1d1d"/><stop offset="0.2456" stop-color="#1d1d1d"/><stop offset="0.2517" stop-color="#1e1e1e"/><stop offset="0.2517" stop-color="#1e1e1e"/><stop offset="0.2578" stop-color="#1e1e1e"/><stop offset="0.2578" stop-color="#1e1e1e"/><stop offset="0.2640" stop-color="#1e1e1e"/><stop offset="0.2640" stop-color="#1e1e1e"/><stop offset="0.2701" stop-color="#1e1e1e"/><stop offset="0.2701" stop-color="#1e1e1e"/><stop offset="0.2762" stop-color="#1e1e1e"/><stop offset="0.2762" stop-color="#1e1e1e"/><stop offset="0.2824" stop-color="#1f1f1f"/><stop offset="0.2824" stop-color="#1f1f1f"/><stop offset="0.2885" stop-color="#1f1f1f"/><stop offset="0.2885" stop-color="#1f1f1f"/><stop offset="0.2946" stop-color="#1f1f1f"/><stop offset="0.2946" stop-color="#1f1f1f"/><stop offset="0.2967" stop-color="#1f1f1f"/><stop offset="0.2967" stop-color="#1f1f1f"/><stop offset="0.3008" stop-color="#1f1f1f"/><stop offset="0.3008" stop-color="#1f1f1f"/><stop offset="0.3048" stop-color="#1f1f1f"/><stop offset="0.3048" stop-color="#363636"/><stop offset="0.3273" stop-color="#323232"/><stop offset="0.3273" stop-color="#323232"/><stop offset="0.3478" stop-color="#313131"/><stop offset="0.3478" stop-color="#313131"/><stop offset="0.3785" stop-color="#343434"/><stop offset="0.3785" stop-color="#343434"/><stop offset="0.4398" stop-color="#373737"/><stop offset="0.4398" stop-color="#373737"/><stop offset="0.4459" stop-color="#373737"/><stop offset="0.4459" stop-color="#373737"/><stop offset="0.4461" stop-color="#3a3a3a"/><stop offset="0.4461" stop-color="#3b3b3b"/><stop offset="0.4684" stop-color="#3b3b3b"/><stop offset="0.4684" stop-color="#141414"/><stop offset="0.4725" stop-color="#141414"/><stop offset="0.4725" stop-color="#141414"/><stop offset="0.4727" stop-color="#141414"/><stop offset="0.4727" stop-color="#141414"/><stop offset="0.4745" stop-color="#141414"/><stop offset="0.4745" stop-color="#141414"/><stop offset="0.4807" stop-color="#141414"/><stop offset="0.4807" stop-color="#141414"/><stop offset="0.4868" stop-color="#151515"/><stop offset="0.4868" stop-color="#151515"/><stop offset="0.4929" stop-color="#181818"/><stop offset="0.4929" stop-color="#181818"/><stop offset="0.4991" stop-color="#171717"/><stop offset="0.4991" stop-color="#171717"/><stop offset="0.5052" stop-color="#171717"/><stop offset="0.5052" stop-color="#171717"/><stop offset="0.5113" stop-color="#161616"/><stop offset="0.5113" stop-color="#161616"/><stop offset="0.5175" stop-color="#161616"/><stop offset="0.5175" stop-color="#1d1d1d"/><stop offset="0.5216" stop-color="#1d1d1d"/><stop offset="0.5216" stop-color="#1d1d1d"/><stop offset="0.5236" stop-color="#1c1c1c"/><stop offset="0.5236" stop-color="#1c1c1c"/><stop offset="0.5297" stop-color="#1a1a1a"/><stop offset="0.5297" stop-color="#1a1a1a"/><stop offset="0.5359" stop-color="#181818"/><stop offset="0.5359" stop-color="#181818"/><stop offset="0.5420" stop-color="#161616"/><stop offset="0.5420" stop-color="#161616"/><stop offset="0.5481" stop-color="#151515"/><stop offset="0.5481" stop-color="#151515"/><stop offset="0.5522" stop-color="#141414"/><stop offset="0.5522" stop-color="#181818"/><stop offset="0.5584" stop-color="#171717"/><stop offset="0.5584" stop-color="#171717"/><stop offset="0.5645" stop-color="#171717"/><stop offset="0.5645" stop-color="#171717"/><stop offset="0.5706" stop-color="#181818"/><stop offset="0.5706" stop-color="#181818"/><stop offset="0.5768" stop-color="#191919"/><stop offset="0.5768" stop-color="#191919"/><stop offset="0.5829" stop-color="#1a1a1a"/><stop offset="0.5829" stop-color="#1a1a1a"/><stop offset="0.5890" stop-color="#1a1a1a"/><stop offset="0.5890" stop-color="#1a1a1a"/><stop offset="0.5952" stop-color="#1c1c1c"/><stop offset="0.5952" stop-color="#1c1c1c"/><stop offset="0.6013" stop-color="#1c1c1c"/><stop offset="0.6013" stop-color="#1c1c1c"/><stop offset="0.6074" stop-color="#1c1c1c"/><stop offset="0.6074" stop-color="#1c1c1c"/><stop offset="0.6136" stop-color="#1d1d1d"/><stop offset="0.6136" stop-color="#1d1d1d"/><stop offset="0.6197" stop-color="#1e1e1e"/><stop offset="0.6197" stop-color="#1e1e1e"/><stop offset="0.6258" stop-color="#202020"/><stop offset="0.6258" stop-color="#202020"/><stop offset="0.6320" stop-color="#212121"/><stop offset="0.6320" stop-color="#212121"/><stop offset="0.6381" stop-color="#222222"/><stop offset="0.6381" stop-color="#222222"/><stop offset="0.6442" stop-color="#232323"/><stop offset="0.6442" stop-color="#232323"/><stop offset="0.6504" stop-color="#242424"/><stop offset="0.6504" stop-color="#242424"/><stop offset="0.6565" stop-color="#252525"/><stop offset="0.6565" stop-color="#252525"/><stop offset="0.6626" stop-color="#262626"/><stop offset="0.6626" stop-color="#262626"/><stop offset="0.6647" stop-color="#262626"/><stop offset="0.6647" stop-color="#383838"/><stop offset="0.6749" stop-color="#373737"/><stop offset="0.6749" stop-color="#373737"/><stop offset="0.6954" stop-color="#333333"/><stop offset="0.6954" stop-color="#333333"/><stop offset="0.7567" stop-color="#343434"/><stop offset="0.7567" stop-color="#343434"/><stop offset="0.7949" stop-color="#343434"/><stop offset="0.7949" stop-color="#353535"/><stop offset="0.7951" stop-color="#3c3c3c"/><stop offset="0.7951" stop-color="#3d3d3d"/><stop offset="0.8201" stop-color="#3a3a3a"/><stop offset="0.8201" stop-color="#222222"/><stop offset="0.8262" stop-color="#222222"/><stop offset="0.8262" stop-color="#222222"/><stop offset="0.8323" stop-color="#212121"/><stop offset="0.8323" stop-color="#212121"/><stop offset="0.8385" stop-color="#202020"/><stop offset="0.8385" stop-color="#242424"/><stop offset="0.8426" stop-color="#232323"/><stop offset="0.8426" stop-color="#232323"/><stop offset="0.8446" stop-color="#222222"/><stop offset="0.8446" stop-color="#222222"/><stop offset="0.8507" stop-color="#202020"/><stop offset="0.8507" stop-color="#202020"/><stop offset="0.8569" stop-color="#1f1f1f"/><stop offset="0.8569" stop-color="#1f1f1f"/><stop offset="0.8630" stop-color="#1e1e1e"/><stop offset="0.8630" stop-color="#1e1e1e"/><stop offset="0.8691" stop-color="#1c1c1c"/><stop offset="0.8691" stop-color="#1c1c1c"/><stop offset="0.8753" stop-color="#1a1a1a"/><stop offset="0.8753" stop-color="#1a1a1a"/><stop offset="0.8794" stop-color="#1a1a1a"/><stop offset="0.8794" stop-color="#202020"/><stop offset="0.8855" stop-color="#1f1f1f"/><stop offset="0.8855" stop-color="#1f1f1f"/><stop offset="0.8916" stop-color="#1e1e1e"/><stop offset="0.8916" stop-color="#1e1e1e"/><stop offset="0.8957" stop-color="#1e1e1e"/><stop offset="0.8957" stop-color="#1e1e1e"/><stop offset="0.8978" stop-color="#1d1d1d"/><stop offset="0.8978" stop-color="#1d1d1d"/><stop offset="0.9039" stop-color="#1c1c1c"/><stop offset="0.9039" stop-color="#1c1c1c"/><stop offset="0.9100" stop-color="#1c1c1c"/><stop offset="0.9100" stop-color="#1c1c1c"/><stop offset="0.9162" stop-color="#1c1c1c"/><stop offset="0.9162" stop-color="#1c1c1c"/><stop offset="0.9203" stop-color="#1c1c1c"/><stop offset="0.9203" stop-color="#383838"/><stop offset="0.9407" stop-color="#353535"/><stop offset="0.9407" stop-color="#353535"/><stop offset="0.9571" stop-color="#383838"/><stop offset="0.9571" stop-color="#383838"/><stop offset="0.9612" stop-color="#383838"/><stop offset="0.9612" stop-color="#383838"/><stop offset="0.9614" stop-color="#303030"/><stop offset="0.9614" stop-color="#2f2f2f"/><stop offset="0.9661" stop-color="#2f2f2f"/><stop offset="0.9661" stop-color="#303030"/><stop offset="0.9663" stop-color="#383838"/><stop offset="0.9663" stop-color="#393939"/><stop offset="0.9693" stop-color="#3a3a3a"/><stop offset="0.9693" stop-color="#3a3a3a"/><stop offset="0.9775" stop-color="#353535"/><stop offset="0.9775" stop-color="#353535"/><stop offset="0.9824" stop-color="#353535"/><stop offset="0.9824" stop-color="#363636"/><stop offset="0.9826" stop-color="#3a3a3a"/><stop offset="0.9826" stop-color="#3a3a3a"/><stop offset="0.9898" stop-color="#3a3a3a"/><stop offset="0.9898" stop-color="#393939"/><stop offset="0.9900" stop-color="#2e2e2e"/><stop offset="0.9900" stop-color="#2c2c2c"/><stop offset="0.9937" stop-color="#2c2c2c"/><stop offset="0.9937" stop-color="#2d2d2d"/><stop offset="0.9939" stop-color="#363636"/><stop offset="0.9939" stop-color="#373737"/><stop offset="1.0000" stop-color="#373737"/></linearGradient>
<linearGradient id="d22" gradientUnits="userSpaceOnUse" x1="0" x2="0" y1="629.9" y2="1119"><stop offset="0.0000" stop-color="#333333"/><stop offset="0.0002" stop-color="#333333"/><stop offset="0.0002" stop-color="#333333"/><stop offset="0.0750" stop-color="#333333"/><stop offset="0.0750" stop-color="#333333"/><stop offset="0.1024" stop-color="#323232"/><stop offset="0.1024" stop-color="#323232"/><stop offset="0.1270" stop-color="#353535"/><stop offset="0.1270" stop-color="#353535"/><stop offset="0.1433" stop-color="#373737"/><stop offset="0.1433" stop-color="#373737"/><stop offset="0.2967" stop-color="#373737"/><stop offset="0.2967" stop-color="#373737"/><stop offset="0.3273" stop-color="#323232"/><stop offset="0.3273" stop-color="#323232"/><stop offset="0.3478" stop-color="#313131"/><stop offset="0.3478" stop-color="#313131"/><stop offset="0.3785" stop-color="#343434"/><stop offset="0.3785" stop-color="#343434"/><stop offset="0.4398" stop-color="#373737"/><stop offset="0.4398" stop-color="#373737"/><stop offset="0.4459" stop-color="#373737"/><stop offset="0.4459" stop-color="#373737"/><stop offset="0.4461" stop-color="#3a3a3a"/><stop offset="0.4461" stop-color="#3b3b3b"/><stop offset="0.4725" stop-color="#3b3b3b"/><stop offset="0.4725" stop-color="#3a3a3a"/><stop offset="0.4727" stop-color="#353535"/><stop offset="0.4727" stop-color="#343434"/><stop offset="0.5175" stop-color="#343434"/><stop offset="0.5175" stop-color="#343434"/><stop offset="0.5216" stop-color="#383838"/><stop offset="0.5216" stop-color="#383838"/><stop offset="0.5481" stop-color="#373737"/><stop offset="0.5481" stop-color="#373737"/><stop offset="0.6136" stop-color="#363636"/><stop offset="0.6136" stop-color="#363636"/><stop offset="0.6442" stop-color="#3a3a3a"/><stop offset="0.6442" stop-color="#3a3a3a"/><stop offset="0.6749" stop-color="#373737"/><stop offset="0.6749" stop-color="#373737"/><stop offset="0.6954" stop-color="#333333"/><stop offset="0.6954" stop-color="#333333"/><stop offset="0.7567" stop-color="#343434"/><stop offset="0.7567" stop-color="#343434"/><stop offset="0.7949" stop-color="#343434"/><stop offset="0.7949" stop-color="#353535"/><stop offset="0.7951" stop-color="#3c3c3c"/><stop offset="0.7951" stop-color="#3d3d3d"/><stop offset="0.8323" stop-color="#393939"/><stop offset="0.8323" stop-color="#393939"/><stop offset="0.8426" stop-color="#3b3b3b"/><stop offset="0.8426" stop-color="#3b3b3b"/><stop offset="0.8630" stop-color="#363636"/><stop offset="0.8630" stop-color="#363636"/><stop offset="0.8957" stop-color="#383838"/><stop offset="0.8957" stop-color="#383838"/><stop offset="0.9203" stop-color="#383838"/><stop offset="0.9203" stop-color="#383838"/><stop offset="0.9407" stop-color="#353535"/><stop offset="0.9407" stop-color="#353535"/><stop offset="0.9571" stop-color="#383838"/><stop offset="0.9571" stop-color="#383838"/><stop offset="0.9612" stop-color="#383838"/><stop offset="0.9612" stop-color="#383838"/><stop offset="0.9614" stop-color="#303030"/><stop offset="0.9614" stop-color="#2f2f2f"/><stop offset="0.9661" stop-color="#2f2f2f"/><stop offset="0.9661" stop-color="#303030"/><stop offset="0.9663" stop-color="#383838"/><stop offset="0.9663" stop-color="#393939"/><stop offset="0.9693" stop-color="#3a3a3a"/><stop offset="0.9693" stop-color="#3a3a3a"/><stop offset="0.9775" stop-color="#353535"/><stop offset="0.9775" stop-color="#353535"/><stop offset="0.9824" stop-color="#353535"/><stop offset="0.9824" stop-color="#363636"/><stop offset="0.9826" stop-color="#3a3a3a"/><stop offset="0.9826" stop-color="#3a3a3a"/><stop offset="0.9898" stop-color="#3a3a3a"/><stop offset="0.9898" stop-color="#393939"/><stop offset="0.9900" stop-color="#2e2e2e"/><stop offset="0.9900" stop-color="#2c2c2c"/><stop offset="0.9937" stop-color="#2c2c2c"/><stop offset="0.9937" stop-color="#2d2d2d"/><stop offset="0.9939" stop-color="#363636"/><stop offset="0.9939" stop-color="#373737"/><stop offset="1.0000" stop-color="#373737"/></linearGradient>
<linearGradient id="d23" gradientUnits="userSpaceOnUse" x1="0" x2="0" y1="629.9" y2="1119"><stop offset="0.0000" stop-color="#333333"/><stop offset="0.0002" stop-color="#333333"/><stop offset="0.0002" stop-color="#1c1c1c"/><stop offset="0.0063" stop-color="#1c1c1c"/><stop offset="0.0063" stop-color="#1c1c1c"/><stop offset="0.0125" stop-color="#1c1c1c"/><stop offset="0.0125" stop-color="#1c1c1c"/><stop offset="0.0186" stop-color="#1c1c1c"/><stop offset="0.0186" stop-color="#1c1c1c"/><stop offset="0.0247" stop-color="#1c1c1c"/><stop offset="0.0247" stop-color="#1c1c1c"/><stop offset="0.0309" stop-color="#1c1c1c"/><stop offset="0.0309" stop-color="#1c1c1c"/><stop offset="0.0370" stop-color="#1c1c1c"/><stop offset="0.0370" stop-color="#1c1c1c"/><stop offset="0.0431" stop-color="#1c1c1c"/><stop offset="0.0431" stop-color="#1c1c1c"/><stop offset="0.0493" stop-color="#1c1c1c"/><stop offset="0.0493" stop-color="#1c1c1c"/><stop offset="0.0534" stop-color="#1c1c1c"/><stop offset="0.0534" stop-color="#333333"/><stop offset="0.0750" stop-color="#333333"/><stop offset="0.0750" stop-color="#323232"/><stop offset="0.1024" stop-color="#313131"/><stop offset="0.1024" stop-color="#313131"/><stop offset="0.1270" stop-color="#343434"/><stop offset="0.1270" stop-color="#343434"/><stop offset="0.1433" stop-color="#363636"/><stop offset="0.1433" stop-color="#343434"/><stop offset="0.2149" stop-color="#343434"/><stop offset="0.2149" stop-color="#383838"/><stop offset="0.2967" stop-color="#383838"/><stop offset="0.2967" stop-color="#383838"/><stop offset="0.3273" stop-color="#333333"/><stop offset="0.3273" stop-color="#303030"/><stop offset="0.3478" stop-color="#2f2f2f"/><stop offset="0.3478" stop-color="#2f2f2f"/><stop offset="0.3785" stop-color="#323232"/><stop offset="0.3785" stop-color="#323232"/><stop offset="0.3989" stop-color="#333333"/><stop offset="0.3989" stop-color="#1c1c1c"/><stop offset="0.4030" stop-color="#1c1c1c"/><stop offset="0.4030" stop-color="#333333"/><stop offset="0.4398" stop-color="#353535"/><stop offset="0.4398" stop-color="#353535"/><stop offset="0.4459" stop-color="#353535"/><stop offset="0.4459" stop-color="#353535"/><stop offset="0.4461" stop-color="#383838"/><stop offset="0.4461" stop-color="#393939"/><stop offset="0.4705" stop-color="#393939"/><stop offset="0.4705" stop-color="#393939"/><stop offset="0.4725" stop-color="#393939"/><stop offset="0.4725" stop-color="#383838"/><stop offset="0.4727" stop-color="#333333"/><stop offset="0.4727" stop-color="#323232"/><stop offset="0.5175" stop-color="#333333"/><stop offset="0.5175" stop-color="#333333"/><stop offset="0.5216" stop-color="#373737"/><stop offset="0.5216" stop-color="#373737"/><stop offset="0.5481" stop-color="#373737"/><stop offset="0.5481" stop-color="#373737"/><stop offset="0.5625" stop-color="#373737"/><stop offset="0.5625" stop-color="#373737"/><stop offset="0.6136" stop-color="#363636"/><stop offset="0.6136" stop-color="#363636"/><stop offset="0.6442" stop-color="#3a3a3a"/><stop offset="0.6442" stop-color="#3a3a3a"/><stop offset="0.6647" stop-color="#383838"/><stop offset="0.6647" stop-color="#383838"/><stop offset="0.6749" stop-color="#363636"/><stop offset="0.6749" stop-color="#363636"/><stop offset="0.6954" stop-color="#303030"/><stop offset="0.6954" stop-color="#303030"/><stop offset="0.7363" stop-color="#2e2e2e"/><stop offset="0.7363" stop-color="#2e2e2e"/><stop offset="0.7567" stop-color="#2e2e2e"/><stop offset="0.7567" stop-color="#2e2e2e"/><stop offset="0.7690" stop-color="#2e2e2e"/><stop offset="0.7690" stop-color="#1a1a1a"/><stop offset="0.7751" stop-color="#181818"/><stop offset="0.7751" stop-color="#181818"/><stop offset="0.7812" stop-color="#171717"/><stop offset="0.7812" stop-color="#171717"/><stop offset="0.7874" stop-color="#161616"/><stop offset="0.7874" stop-color="#161616"/><stop offset="0.7935" stop-color="#141414"/><stop offset="0.7935" stop-color="#141414"/><stop offset="0.7949" stop-color="#141414"/><stop offset="0.7949" stop-color="#373737"/><stop offset="0.7951" stop-color="#3e3e3e"/><stop offset="0.7951" stop-color="#3f3f3f"/><stop offset="0.8323" stop-color="#3b3b3b"/><stop offset="0.8323" stop-color="#3b3b3b"/><stop offset="0.8385" stop-color="#3c3c3c"/><stop offset="0.8385" stop-color="#3c3c3c"/><stop offset="0.8426" stop-color="#3d3d3d"/><stop offset="0.8426" stop-color="#3d3d3d"/><stop offset="0.8630" stop-color="#373737"/><stop offset="0.8630" stop-color="#373737"/><stop offset="0.8835" stop-color="#373737"/><stop offset="0.8835" stop-color="#373737"/><stop offset="0.8957" stop-color="#383838"/><stop offset="0.8957" stop-color="#383838"/><stop offset="0.9203" stop-color="#383838"/><stop offset="0.9203" stop-color="#383838"/><stop offset="0.9407" stop-color="#353535"/><stop offset="0.9407" stop-color="#353535"/><stop offset="0.9571" stop-color="#383838"/><stop offset="0.9571" stop-color="#383838"/><stop offset="0.9612" stop-color="#383838"/><stop offset="0.9612" stop-color="#383838"/><stop offset="0.9614" stop-color="#303030"/><stop offset="0.9614" stop-color="#2f2f2f"/><stop offset="0.9661" stop-color="#2f2f2f"/><stop offset="0.9661" stop-color="#303030"/><stop offset="0.9663" stop-color="#383838"/><stop offset="0.9663" stop-color="#393939"/><stop offset="0.9693" stop-color="#3a3a3a"/><stop offset="0.9693" stop-color="#3a3a3a"/><stop offset="0.9714" stop-color="#393939"/><stop offset="0.9714" stop-color="#252525"/><stop offset="0.9775" stop-color="#222222"/><stop offset="0.9775" stop-color="#222222"/><stop offset="0.9824" stop-color="#222222"/><stop offset="0.9824" stop-color="#222222"/><stop offset="0.9826" stop-color="#262626"/><stop offset="0.9826" stop-color="#262626"/><stop offset="0.9857" stop-color="#262626"/><stop offset="0.9857" stop-color="#3a3a3a"/><stop offset="0.9898" stop-color="#3a3a3a"/><stop offset="0.9898" stop-color="#393939"/><stop offset="0.9900" stop-color="#2e2e2e"/><stop offset="0.9900" stop-color="#2c2c2c"/><stop offset="0.9937" stop-color="#2c2c2c"/><stop offset="0.9937" stop-color="#2d2d2d"/><stop offset="0.9939" stop-color="#363636"/><stop offset="0.9939" stop-color="#373737"/><stop offset="1.0000" stop-color="#373737"/></linearGradient>
<linearGradient id="d24" gradientUnits="userSpaceOnUse" x1="0" x2="0" y1="629.9" y2="1119"><stop offset="0.0000" stop-color="#333333"/><stop offset="0.0002" stop-color="#333333"/><stop offset="0.0002" stop-color="#333333"/><stop offset="0.0472" stop-color="#333333"/><stop offset="0.0472" stop-color="#383838"/><stop offset="0.0750" stop-color="#383838"/><stop offset="0.0750" stop-color="#3a3a3a"/><stop offset="0.1024" stop-color="#393939"/><stop offset="0.1024" stop-color="#393939"/><stop offset="0.1270" stop-color="#3c3c3c"/><stop offset="0.1270" stop-color="#3c3c3c"/><stop offset="0.1433" stop-color="#3e3e3e"/><stop offset="0.1433" stop-color="#3e3e3e"/><stop offset="0.2967" stop-color="#3e3e3e"/><stop offset="0.2967" stop-color="#3e3e3e"/><stop offset="0.3273" stop-color="#393939"/><stop offset="0.3273" stop-color="#393939"/><stop offset="0.3478" stop-color="#383838"/><stop offset="0.3478" stop-color="#383838"/><stop offset="0.3785" stop-color="#3a3a3a"/><stop offset="0.3785" stop-color="#3a3a3a"/><stop offset="0.3989" stop-color="#3b3b3b"/><stop offset="0.3989" stop-color="#242424"/><stop offset="0.4030" stop-color="#242424"/><stop offset="0.4030" stop-color="#3c3c3c"/><stop offset="0.4398" stop-color="#3e3e3e"/><stop offset="0.4398" stop-color="#3e3e3e"/><stop offset="0.4459" stop-color="#3e3e3e"/><stop offset="0.4459" stop-color="#3e3e3e"/><stop offset="0.4461" stop-color="#414141"/><stop offset="0.4461" stop-color="#424242"/><stop offset="0.4705" stop-color="#424242"/><stop offset="0.4705" stop-color="#424242"/><stop offset="0.4725" stop-color="#414141"/><stop offset="0.4725" stop-color="#414141"/><stop offset="0.4727" stop-color="#3b3b3b"/><stop offset="0.4727" stop-color="#3b3b3b"/><stop offset="0.5175" stop-color="#373737"/><stop offset="0.5175" stop-color="#373737"/><stop offset="0.5216" stop-color="#3b3b3b"/><stop offset="0.5216" stop-color="#3b3b3b"/><stop offset="0.5481" stop-color="#383838"/><stop offset="0.5481" stop-color="#383838"/><stop offset="0.5625" stop-color="#373737"/><stop offset="0.5625" stop-color="#373737"/><stop offset="0.5829" stop-color="#373737"/><stop offset="0.5829" stop-color="#373737"/><stop offset="0.6136" stop-color="#383838"/><stop offset="0.6136" stop-color="#383838"/><stop offset="0.6442" stop-color="#3e3e3e"/><stop offset="0.6442" stop-color="#3e3e3e"/><stop offset="0.6749" stop-color="#3d3d3d"/><stop offset="0.6749" stop-color="#3d3d3d"/><stop offset="0.6954" stop-color="#3a3a3a"/><stop offset="0.6954" stop-color="#3a3a3a"/><stop offset="0.7363" stop-color="#3e3e3e"/><stop offset="0.7363" stop-color="#3e3e3e"/><stop offset="0.7567" stop-color="#3e3e3e"/><stop offset="0.7567" stop-color="#3e3e3e"/><stop offset="0.7949" stop-color="#3e3e3e"/><stop offset="0.7949" stop-color="#3f3f3f"/><stop offset="0.7951" stop-color="#464646"/><stop offset="0.7951" stop-color="#474747"/><stop offset="0.8323" stop-color="#414141"/><stop offset="0.8323" stop-color="#414141"/><stop offset="0.8385" stop-color="#424242"/><stop offset="0.8385" stop-color="#424242"/><stop offset="0.8426" stop-color="#434343"/><stop offset="0.8426" stop-color="#434343"/><stop offset="0.8630" stop-color="#3e3e3e"/><stop offset="0.8630" stop-color="#3e3e3e"/><stop offset="0.8835" stop-color="#3f3f3f"/><stop offset="0.8835" stop-color="#3f3f3f"/><stop offset="0.8957" stop-color="#404040"/><stop offset="0.8957" stop-color="#404040"/><stop offset="0.9162" stop-color="#404040"/><stop offset="0.9162" stop-color="#404040"/><stop offset="0.9203" stop-color="#404040"/><stop offset="0.9203" stop-color="#404040"/><stop offset="0.9346" stop-color="#3e3e3e"/><stop offset="0.9346" stop-color="#3e3e3e"/><stop offset="0.9407" stop-color="#3c3c3c"/><stop offset="0.9407" stop-color="#3c3c3c"/><stop offset="0.9495" stop-color="#3e3e3e"/><stop offset="0.9495" stop-color="#333333"/><stop offset="0.9548" stop-color="#343434"/><stop offset="0.9548" stop-color="#3f3f3f"/><stop offset="0.9571" stop-color="#404040"/><stop offset="0.9571" stop-color="#404040"/><stop offset="0.9612" stop-color="#404040"/><stop offset="0.9612" stop-color="#3f3f3f"/><stop offset="0.9614" stop-color="#383838"/><stop offset="0.9614" stop-color="#2b2b2b"/><stop offset="0.9661" stop-color="#2b2b2b"/><stop offset="0.9661" stop-color="#383838"/><stop offset="0.9663" stop-color="#404040"/><stop offset="0.9663" stop-color="#414141"/><stop offset="0.9693" stop-color="#424242"/><stop offset="0.9693" stop-color="#424242"/><stop offset="0.9775" stop-color="#3d3d3d"/><stop offset="0.9775" stop-color="#3d3d3d"/><stop offset="0.9824" stop-color="#3d3d3d"/><stop offset="0.9824" stop-color="#3e3e3e"/><stop offset="0.9826" stop-color="#414141"/><stop offset="0.9826" stop-color="#424242"/><stop offset="0.9877" stop-color="#424242"/><stop offset="0.9877" stop-color="#3a3a3a"/><stop offset="0.9898" stop-color="#3a3a3a"/><stop offset="0.9898" stop-color="#393939"/><stop offset="0.9900" stop-color="#2e2e2e"/><stop offset="0.9900" stop-color="#2c2c2c"/><stop offset="0.9937" stop-color="#2c2c2c"/><stop offset="0.9937" stop-color="#2d2d2d"/><stop offset="0.9939" stop-color="#363636"/><stop offset="0.9939" stop-color="#373737"/><stop offset="1.0000" stop-color="#373737"/></linearGradient>
<linearGradient id="d25" gradientUnits="userSpaceOnUse" x1="0" x2="0" y1="629.9" y2="1119"><stop offset="0.0000" stop-color="#333333"/><stop offset="0.0002" stop-color="#333333"/><stop offset="0.0002" stop-color="#3f3f3f"/><stop offset="0.0750" stop-color="#3f3f3f"/><stop offset="0.0750" stop-color="#3f3f3f"/><stop offset="0.1024" stop-color="#3e3e3e"/><stop offset="0.1024" stop-color="#3e3e3e"/><stop offset="0.1270" stop-color="#414141"/><stop offset="0.1270" stop-color="#414141"/><stop offset="0.1433" stop-color="#434343"/><stop offset="0.1433" stop-color="#434343"/><stop offset="0.1699" stop-color="#434343"/><stop offset="0.1699" stop-color="#323232"/><stop offset="0.2190" stop-color="#323232"/><stop offset="0.2190" stop-color="#3f3f3f"/><stop offset="0.2967" stop-color="#3f3f3f"/><stop offset="0.2967" stop-color="#3f3f3f"/><stop offset="0.3273" stop-color="#3a3a3a"/><stop offset="0.3273" stop-color="#3a3a3a"/><stop offset="0.3478" stop-color="#393939"/><stop offset="0.3478" stop-color="#393939"/><stop offset="0.3785" stop-color="#3c3c3c"/><stop offset="0.3785" stop-color="#3c3c3c"/><stop offset="0.4398" stop-color="#3f3f3f"/><stop offset="0.4398" stop-color="#3f3f3f"/><stop offset="0.4459" stop-color="#3f3f3f"/><stop offset="0.4459" stop-color="#3f3f3f"/><stop offset="0.4461" stop-color="#424242"/><stop offset="0.4461" stop-color="#434343"/><stop offset="0.4705" stop-color="#434343"/><stop offset="0.4705" stop-color="#434343"/><stop offset="0.4725" stop-color="#434343"/><stop offset="0.4725" stop-color="#424242"/><stop offset="0.4727" stop-color="#3c3c3c"/><stop offset="0.4727" stop-color="#3c3c3c"/><stop offset="0.5175" stop-color="#383838"/><stop offset="0.5175" stop-color="#383838"/><stop offset="0.5216" stop-color="#3b3b3b"/><stop offset="0.5216" stop-color="#3b3b3b"/><stop offset="0.5481" stop-color="#383838"/><stop offset="0.5481" stop-color="#383838"/><stop offset="0.5625" stop-color="#373737"/><stop offset="0.5625" stop-color="#373737"/><stop offset="0.5829" stop-color="#373737"/><stop offset="0.5829" stop-color="#373737"/><stop offset="0.6136" stop-color="#3a3a3a"/><stop offset="0.6136" stop-color="#3a3a3a"/><stop offset="0.6442" stop-color="#414141"/><stop offset="0.6442" stop-color="#414141"/><stop offset="0.6749" stop-color="#424242"/><stop offset="0.6749" stop-color="#424242"/><stop offset="0.6954" stop-color="#404040"/><stop offset="0.6954" stop-color="#404040"/><stop offset="0.7363" stop-color="#454545"/><stop offset="0.7363" stop-color="#454545"/><stop offset="0.7567" stop-color="#464646"/><stop offset="0.7567" stop-color="#464646"/><stop offset="0.7949" stop-color="#454545"/><stop offset="0.7949" stop-color="#3f3f3f"/><stop offset="0.7951" stop-color="#474747"/><stop offset="0.7951" stop-color="#474747"/><stop offset="0.8323" stop-color="#444444"/><stop offset="0.8323" stop-color="#444444"/><stop offset="0.8385" stop-color="#464646"/><stop offset="0.8385" stop-color="#464646"/><stop offset="0.8426" stop-color="#474747"/><stop offset="0.8426" stop-color="#474747"/><stop offset="0.8630" stop-color="#424242"/><stop offset="0.8630" stop-color="#424242"/><stop offset="0.8835" stop-color="#434343"/><stop offset="0.8835" stop-color="#434343"/><stop offset="0.8957" stop-color="#434343"/><stop offset="0.8957" stop-color="#434343"/><stop offset="0.9162" stop-color="#444444"/><stop offset="0.9162" stop-color="#444444"/><stop offset="0.9203" stop-color="#444444"/><stop offset="0.9203" stop-color="#444444"/><stop offset="0.9346" stop-color="#424242"/><stop offset="0.9346" stop-color="#424242"/><stop offset="0.9407" stop-color="#404040"/><stop offset="0.9407" stop-color="#404040"/><stop offset="0.9495" stop-color="#424242"/><stop offset="0.9495" stop-color="#363636"/><stop offset="0.9548" stop-color="#383838"/><stop offset="0.9548" stop-color="#434343"/><stop offset="0.9571" stop-color="#444444"/><stop offset="0.9571" stop-color="#444444"/><stop offset="0.9612" stop-color="#444444"/><stop offset="0.9612" stop-color="#434343"/><stop offset="0.9614" stop-color="#3c3c3c"/><stop offset="0.9614" stop-color="#2f2f2f"/><stop offset="0.9661" stop-color="#2f2f2f"/><stop offset="0.9661" stop-color="#3c3c3c"/><stop offset="0.9663" stop-color="#444444"/><stop offset="0.9663" stop-color="#454545"/><stop offset="0.9693" stop-color="#454545"/><stop offset="0.9693" stop-color="#454545"/><stop offset="0.9775" stop-color="#414141"/><stop offset="0.9775" stop-color="#414141"/><stop offset="0.9824" stop-color="#414141"/><stop offset="0.9824" stop-color="#424242"/><stop offset="0.9826" stop-color="#454545"/><stop offset="0.9826" stop-color="#464646"/><stop offset="0.9877" stop-color="#464646"/><stop offset="0.9877" stop-color="#3a3a3a"/><stop offset="0.9898" stop-color="#3a3a3a"/><stop offset="0.9898" stop-color="#393939"/><stop offset="0.9900" stop-color="#2e2e2e"/><stop offset="0.9900" stop-color="#2c2c2c"/><stop offset="0.9937" stop-color="#2c2c2c"/><stop offset="0.9937" stop-color="#2d2d2d"/><stop offset="0.9939" stop-color="#363636"/><stop offset="0.9939" stop-color="#373737"/><stop offset="1.0000" stop-color="#373737"/></linearGradient>
<linearGradient id="d26" gradientUnits="userSpaceOnUse" x1="0" x2="0" y1="629.9" y2="1119"><stop offset="0.0000" stop-color="#333333"/><stop offset="0.0002" stop-color="#333333"/><stop offset="0.0002" stop-color="#373737"/><stop offset="0.0750" stop-color="#373737"/><stop offset="0.0750" stop-color="#373737"/><stop offset="0.1024" stop-color="#353535"/><stop offset="0.1024" stop-color="#353535"/><stop offset="0.1270" stop-color="#383838"/><stop offset="0.1270" stop-color="#383838"/><stop offset="0.1311" stop-color="#393939"/><stop offset="0.1311" stop-color="#313131"/><stop offset="0.1433" stop-color="#323232"/><stop offset="0.1433" stop-color="#323232"/><stop offset="0.1679" stop-color="#323232"/><stop offset="0.1679" stop-color="#333333"/><stop offset="0.2210" stop-color="#333333"/><stop offset="0.2210" stop-color="#373737"/><stop offset="0.2824" stop-color="#373737"/><stop offset="0.2824" stop-color="#333333"/><stop offset="0.2967" stop-color="#333333"/><stop offset="0.2967" stop-color="#333333"/><stop offset="0.3273" stop-color="#2e2e2e"/><stop offset="0.3273" stop-color="#323232"/><stop offset="0.3478" stop-color="#313131"/><stop offset="0.3478" stop-color="#313131"/><stop offset="0.3785" stop-color="#343434"/><stop offset="0.3785" stop-color="#343434"/><stop offset="0.4398" stop-color="#373737"/><stop offset="0.4398" stop-color="#373737"/><stop offset="0.4459" stop-color="#373737"/><stop offset="0.4459" stop-color="#373737"/><stop offset="0.4461" stop-color="#3a3a3a"/><stop offset="0.4461" stop-color="#3b3b3b"/><stop offset="0.4725" stop-color="#3b3b3b"/><stop offset="0.4725" stop-color="#3a3a3a"/><stop offset="0.4727" stop-color="#353535"/><stop offset="0.4727" stop-color="#343434"/><stop offset="0.5175" stop-color="#343434"/><stop offset="0.5175" stop-color="#343434"/><stop offset="0.5216" stop-color="#383838"/><stop offset="0.5216" stop-color="#383838"/><stop offset="0.5481" stop-color="#373737"/><stop offset="0.5481" stop-color="#373737"/><stop offset="0.5829" stop-color="#373737"/><stop offset="0.5829" stop-color="#373737"/><stop offset="0.6136" stop-color="#373737"/><stop offset="0.6136" stop-color="#373737"/><stop offset="0.6442" stop-color="#3a3a3a"/><stop offset="0.6442" stop-color="#3a3a3a"/><stop offset="0.6749" stop-color="#383838"/><stop offset="0.6749" stop-color="#383838"/><stop offset="0.6954" stop-color="#343434"/><stop offset="0.6954" stop-color="#343434"/><stop offset="0.7363" stop-color="#363636"/><stop offset="0.7363" stop-color="#363636"/><stop offset="0.7567" stop-color="#363636"/><stop offset="0.7567" stop-color="#363636"/><stop offset="0.7949" stop-color="#363636"/><stop offset="0.7949" stop-color="#333333"/><stop offset="0.7951" stop-color="#3a3a3a"/><stop offset="0.7951" stop-color="#3b3b3b"/><stop offset="0.8323" stop-color="#373737"/><stop offset="0.8323" stop-color="#373737"/><stop offset="0.8385" stop-color="#383838"/><stop offset="0.8385" stop-color="#383838"/><stop offset="0.8426" stop-color="#393939"/><stop offset="0.8426" stop-color="#393939"/><stop offset="0.8630" stop-color="#343434"/><stop offset="0.8630" stop-color="#343434"/><stop offset="0.8835" stop-color="#353535"/><stop offset="0.8835" stop-color="#353535"/><stop offset="0.8957" stop-color="#363636"/><stop offset="0.8957" stop-color="#363636"/><stop offset="0.9162" stop-color="#363636"/><stop offset="0.9162" stop-color="#363636"/><stop offset="0.9203" stop-color="#373737"/><stop offset="0.9203" stop-color="#373737"/><stop offset="0.9346" stop-color="#363636"/><stop offset="0.9346" stop-color="#363636"/><stop offset="0.9407" stop-color="#353535"/><stop offset="0.9407" stop-color="#353535"/><stop offset="0.9495" stop-color="#363636"/><stop offset="0.9495" stop-color="#2b2b2b"/><stop offset="0.9548" stop-color="#2c2c2c"/><stop offset="0.9548" stop-color="#383838"/><stop offset="0.9571" stop-color="#383838"/><stop offset="0.9571" stop-color="#383838"/><stop offset="0.9612" stop-color="#383838"/><stop offset="0.9612" stop-color="#383838"/><stop offset="0.9614" stop-color="#303030"/><stop offset="0.9614" stop-color="#232323"/><stop offset="0.9661" stop-color="#232323"/><stop offset="0.9661" stop-color="#303030"/><stop offset="0.9663" stop-color="#383838"/><stop offset="0.9663" stop-color="#393939"/><stop offset="0.9693" stop-color="#3a3a3a"/><stop offset="0.9693" stop-color="#3a3a3a"/><stop offset="0.9775" stop-color="#353535"/><stop offset="0.9775" stop-color="#353535"/><stop offset="0.9824" stop-color="#353535"/><stop offset="0.9824" stop-color="#363636"/><stop offset="0.9826" stop-color="#3a3a3a"/><stop offset="0.9826" stop-color="#3a3a3a"/><stop offset="0.9898" stop-color="#3a3a3a"/><stop offset="0.9898" stop-color="#393939"/><stop offset="0.9900" stop-color="#2e2e2e"/><stop offset="0.9900" stop-color="#2c2c2c"/><stop offset="0.9937" stop-color="#2c2c2c"/><stop offset="0.9937" stop-color="#2d2d2d"/><stop offset="0.9939" stop-color="#363636"/><stop offset="0.9939" stop-color="#373737"/><stop offset="1.0000" stop-color="#373737"/></linearGradient>
<linearGradient id="d27" gradientUnits="userSpaceOnUse" x1="0" x2="0" y1="629.9" y2="1119"><stop offset="0.0000" stop-color="#333333"/><stop offset="0.0002" stop-color="#333333"/><stop offset="0.0002" stop-color="#1f1f1f"/><stop offset="0.0063" stop-color="#1f1f1f"/><stop offset="0.0063" stop-color="#1f1f1f"/><stop offset="0.0125" stop-color="#1f1f1f"/><stop offset="0.0125" stop-color="#1f1f1f"/><stop offset="0.0186" stop-color="#1f1f1f"/><stop offset="0.0186" stop-color="#1f1f1f"/><stop offset="0.0247" stop-color="#1f1f1f"/><stop offset="0.0247" stop-color="#1f1f1f"/><stop offset="0.0309" stop-color="#1f1f1f"/><stop offset="0.0309" stop-color="#1f1f1f"/><stop offset="0.0370" stop-color="#1f1f1f"/><stop offset="0.0370" stop-color="#1f1f1f"/><stop offset="0.0431" stop-color="#1f1f1f"/><stop offset="0.0431" stop-color="#1f1f1f"/><stop offset="0.0444" stop-color="#1f1f1f"/><stop offset="0.0444" stop-color="#333333"/><stop offset="0.0628" stop-color="#333333"/><stop offset="0.0628" stop-color="#393939"/><stop offset="0.0750" stop-color="#393939"/><stop offset="0.0750" stop-color="#373737"/><stop offset="0.1024" stop-color="#363636"/><stop offset="0.1024" stop-color="#363636"/><stop offset="0.1270" stop-color="#393939"/><stop offset="0.1270" stop-color="#393939"/><stop offset="0.1433" stop-color="#3a3a3a"/><stop offset="0.1433" stop-color="#3a3a3a"/><stop offset="0.2967" stop-color="#3a3a3a"/><stop offset="0.2967" stop-color="#3a3a3a"/><stop offset="0.3273" stop-color="#363636"/><stop offset="0.3273" stop-color="#363636"/><stop offset="0.3478" stop-color="#353535"/><stop offset="0.3478" stop-color="#353535"/><stop offset="0.3785" stop-color="#373737"/><stop offset="0.3785" stop-color="#373737"/><stop offset="0.4398" stop-color="#3a3a3a"/><stop offset="0.4398" stop-color="#3a3a3a"/><stop offset="0.4459" stop-color="#3a3a3a"/><stop offset="0.4459" stop-color="#3b3b3b"/><stop offset="0.4461" stop-color="#3e3e3e"/><stop offset="0.4461" stop-color="#3e3e3e"/><stop offset="0.4705" stop-color="#3e3e3e"/><stop offset="0.4705" stop-color="#3e3e3e"/><stop offset="0.4725" stop-color="#3e3e3e"/><stop offset="0.4725" stop-color="#3e3e3e"/><stop offset="0.4727" stop-color="#383838"/><stop offset="0.4727" stop-color="#383838"/><stop offset="0.5175" stop-color="#363636"/><stop offset="0.5175" stop-color="#363636"/><stop offset="0.5216" stop-color="#393939"/><stop offset="0.5216" stop-color="#393939"/><stop offset="0.5481" stop-color="#373737"/><stop offset="0.5481" stop-color="#373737"/><stop offset="0.5625" stop-color="#373737"/><stop offset="0.5625" stop-color="#373737"/><stop offset="0.5829" stop-color="#373737"/><stop offset="0.5829" stop-color="#373737"/><stop offset="0.6136" stop-color="#373737"/><stop offset="0.6136" stop-color="#373737"/><stop offset="0.6442" stop-color="#3a3a3a"/><stop offset="0.6442" stop-color="#3a3a3a"/><stop offset="0.6749" stop-color="#383838"/><stop offset="0.6749" stop-color="#383838"/><stop offset="0.6954" stop-color="#343434"/><stop offset="0.6954" stop-color="#343434"/><stop offset="0.7363" stop-color="#363636"/><stop offset="0.7363" stop-color="#363636"/><stop offset="0.7567" stop-color="#363636"/><stop offset="0.7567" stop-color="#363636"/><stop offset="0.7949" stop-color="#363636"/><stop offset="0.7949" stop-color="#333333"/><stop offset="0.7951" stop-color="#3a3a3a"/><stop offset="0.7951" stop-color="#3b3b3b"/><stop offset="0.8323" stop-color="#373737"/><stop offset="0.8323" stop-color="#373737"/><stop offset="0.8385" stop-color="#383838"/><stop offset="0.8385" stop-color="#383838"/><stop offset="0.8426" stop-color="#393939"/><stop offset="0.8426" stop-color="#393939"/><stop offset="0.8630" stop-color="#343434"/><stop offset="0.8630" stop-color="#343434"/><stop offset="0.8835" stop-color="#353535"/><stop offset="0.8835" stop-color="#353535"/><stop offset="0.8957" stop-color="#363636"/><stop offset="0.8957" stop-color="#363636"/><stop offset="0.9162" stop-color="#363636"/><stop offset="0.9162" stop-color="#363636"/><stop offset="0.9203" stop-color="#373737"/><stop offset="0.9203" stop-color="#373737"/><stop offset="0.9346" stop-color="#363636"/><stop offset="0.9346" stop-color="#363636"/><stop offset="0.9407" stop-color="#353535"/><stop offset="0.9407" stop-color="#353535"/><stop offset="0.9495" stop-color="#363636"/><stop offset="0.9495" stop-color="#2b2b2b"/><stop offset="0.9548" stop-color="#2c2c2c"/><stop offset="0.9548" stop-color="#383838"/><stop offset="0.9571" stop-color="#383838"/><stop offset="0.9571" stop-color="#383838"/><stop offset="0.9612" stop-color="#383838"/><stop offset="0.9612" stop-color="#383838"/><stop offset="0.9614" stop-color="#303030"/><stop offset="0.9614" stop-color="#232323"/><stop offset="0.9661" stop-color="#232323"/><stop offset="0.9661" stop-color="#303030"/><stop offset="0.9663" stop-color="#383838"/><stop offset="0.9663" stop-color="#393939"/><stop offset="0.9693" stop-color="#3a3a3a"/><stop offset="0.9693" stop-color="#3a3a3a"/><stop offset="0.9775" stop-color="#353535"/><stop offset="0.9775" stop-color="#353535"/><stop offset="0.9824" stop-color="#353535"/><stop offset="0.9824" stop-color="#363636"/><stop offset="0.9826" stop-color="#3a3a3a"/><stop offset="0.9826" stop-color="#3a3a3a"/><stop offset="0.9898" stop-color="#3a3a3a"/><stop offset="0.9898" stop-color="#393939"/><stop offset="0.9900" stop-color="#2e2e2e"/><stop offset="0.9900" stop-color="#2c2c2c"/><stop offset="0.9937" stop-color="#2c2c2c"/><stop offset="0.9937" stop-color="#2d2d2d"/><stop offset="0.9939" stop-color="#363636"/><stop offset="0.9939" stop-color="#373737"/><stop offset="1.0000" stop-color="#373737"/></linearGradient>
<linearGradient id="d28" gradientUnits="userSpaceOnUse" x1="0" x2="0" y1="629.9" y2="1119"><stop offset="0.0000" stop-color="#333333"/><stop offset="0.0002" stop-color="#333333"/><stop offset="0.0002" stop-color="#1b1b1b"/><stop offset="0.0063" stop-color="#1b1b1b"/><stop offset="0.0063" stop-color="#1b1b1b"/><stop offset="0.0125" stop-color="#1b1b1b"/><stop offset="0.0125" stop-color="#1b1b1b"/><stop offset="0.0186" stop-color="#1b1b1b"/><stop offset="0.0186" stop-color="#1b1b1b"/><stop offset="0.0247" stop-color="#1b1b1b"/><stop offset="0.0247" stop-color="#1b1b1b"/><stop offset="0.0309" stop-color="#1b1b1b"/><stop offset="0.0309" stop-color="#1b1b1b"/><stop offset="0.0370" stop-color="#1b1b1b"/><stop offset="0.0370" stop-color="#1b1b1b"/><stop offset="0.0391" stop-color="#1b1b1b"/><stop offset="0.0391" stop-color="#333333"/><stop offset="0.0591" stop-color="#333333"/><stop offset="0.0591" stop-color="#393939"/><stop offset="0.0750" stop-color="#393939"/><stop offset="0.0750" stop-color="#373737"/><stop offset="0.1024" stop-color="#363636"/><stop offset="0.1024" stop-color="#363636"/><stop offset="0.1270" stop-color="#393939"/><stop offset="0.1270" stop-color="#393939"/><stop offset="0.1433" stop-color="#3a3a3a"/><stop offset="0.1433" stop-color="#3a3a3a"/><stop offset="0.2967" stop-color="#3a3a3a"/><stop offset="0.2967" stop-color="#3a3a3a"/><stop offset="0.3273" stop-color="#363636"/><stop offset="0.3273" stop-color="#363636"/><stop offset="0.3478" stop-color="#353535"/><stop offset="0.3478" stop-color="#353535"/><stop offset="0.3785" stop-color="#373737"/><stop offset="0.3785" stop-color="#373737"/><stop offset="0.4398" stop-color="#3a3a3a"/><stop offset="0.4398" stop-color="#3a3a3a"/><stop offset="0.4459" stop-color="#3a3a3a"/><stop offset="0.4459" stop-color="#3b3b3b"/><stop offset="0.4461" stop-color="#3e3e3e"/><stop offset="0.4461" stop-color="#3e3e3e"/><stop offset="0.4705" stop-color="#3e3e3e"/><stop offset="0.4705" stop-color="#3e3e3e"/><stop offset="0.4725" stop-color="#3e3e3e"/><stop offset="0.4725" stop-color="#3e3e3e"/><stop offset="0.4727" stop-color="#383838"/><stop offset="0.4727" stop-color="#383838"/><stop offset="0.5175" stop-color="#363636"/><stop offset="0.5175" stop-color="#363636"/><stop offset="0.5216" stop-color="#393939"/><stop offset="0.5216" stop-color="#393939"/><stop offset="0.5481" stop-color="#373737"/><stop offset="0.5481" stop-color="#373737"/><stop offset="0.5625" stop-color="#373737"/><stop offset="0.5625" stop-color="#373737"/><stop offset="0.5829" stop-color="#373737"/><stop offset="0.5829" stop-color="#373737"/><stop offset="0.6136" stop-color="#373737"/><stop offset="0.6136" stop-color="#373737"/><stop offset="0.6442" stop-color="#3a3a3a"/><stop offset="0.6442" stop-color="#3a3a3a"/><stop offset="0.6749" stop-color="#383838"/><stop offset="0.6749" stop-color="#383838"/><stop offset="0.6954" stop-color="#343434"/><stop offset="0.6954" stop-color="#343434"/><stop offset="0.7363" stop-color="#363636"/><stop offset="0.7363" stop-color="#363636"/><stop offset="0.7567" stop-color="#363636"/><stop offset="0.7567" stop-color="#363636"/><stop offset="0.7949" stop-color="#363636"/><stop offset="0.7949" stop-color="#333333"/><stop offset="0.7951" stop-color="#3a3a3a"/><stop offset="0.7951" stop-color="#3b3b3b"/><stop offset="0.8323" stop-color="#373737"/><stop offset="0.8323" stop-color="#373737"/><stop offset="0.8385" stop-color="#383838"/><stop offset="0.8385" stop-color="#383838"/><stop offset="0.8426" stop-color="#393939"/><stop offset="0.8426" stop-color="#393939"/><stop offset="0.8630" stop-color="#343434"/><stop offset="0.8630" stop-color="#343434"/><stop offset="0.8835" stop-color="#353535"/><stop offset="0.8835" stop-color="#353535"/><stop offset="0.8957" stop-color="#363636"/><stop offset="0.8957" stop-color="#363636"/><stop offset="0.9162" stop-color="#363636"/><stop offset="0.9162" stop-color="#363636"/><stop offset="0.9203" stop-color="#373737"/><stop offset="0.9203" stop-color="#373737"/><stop offset="0.9346" stop-color="#363636"/><stop offset="0.9346" stop-color="#363636"/><stop offset="0.9407" stop-color="#353535"/><stop offset="0.9407" stop-color="#353535"/><stop offset="0.9495" stop-color="#363636"/><stop offset="0.9495" stop-color="#2b2b2b"/><stop offset="0.9548" stop-color="#2c2c2c"/><stop offset="0.9548" stop-color="#383838"/><stop offset="0.9571" stop-color="#383838"/><stop offset="0.9571" stop-color="#383838"/><stop offset="0.9612" stop-color="#383838"/><stop offset="0.9612" stop-color="#383838"/><stop offset="0.9614" stop-color="#303030"/><stop offset="0.9614" stop-color="#232323"/><stop offset="0.9661" stop-color="#232323"/><stop offset="0.9661" stop-color="#303030"/><stop offset="0.9663" stop-color="#383838"/><stop offset="0.9663" stop-color="#393939"/><stop offset="0.9693" stop-color="#3a3a3a"/><stop offset="0.9693" stop-color="#3a3a3a"/><stop offset="0.9775" stop-color="#353535"/><stop offset="0.9775" stop-color="#353535"/><stop offset="0.9824" stop-color="#353535"/><stop offset="0.9824" stop-color="#363636"/><stop offset="0.9826" stop-color="#3a3a3a"/><stop offset="0.9826" stop-color="#3a3a3a"/><stop offset="0.9898" stop-color="#3a3a3a"/><stop offset="0.9898" stop-color="#393939"/><stop offset="0.9900" stop-color="#2e2e2e"/><stop offset="0.9900" stop-color="#2c2c2c"/><stop offset="0.9937" stop-color="#2c2c2c"/><stop offset="0.9937" stop-color="#2d2d2d"/><stop offset="0.9939" stop-color="#363636"/><stop offset="0.9939" stop-color="#373737"/><stop offset="1.0000" stop-color="#373737"/></linearGradient>
<linearGradient id="d29" gradientUnits="userSpaceOnUse" x1="0" x2="0" y1="629.9" y2="1119"><stop offset="0.0000" stop-color="#333333"/><stop offset="0.0002" stop-color="#333333"/><stop offset="0.0002" stop-color="#3f3f3f"/><stop offset="0.0750" stop-color="#3f3f3f"/><stop offset="0.0750" stop-color="#3f3f3f"/><stop offset="0.1024" stop-color="#3e3e3e"/><stop offset="0.1024" stop-color="#3e3e3e"/><stop offset="0.1270" stop-color="#414141"/><stop offset="0.1270" stop-color="#414141"/><stop offset="0.1433" stop-color="#434343"/><stop offset="0.1433" stop-color="#434343"/><stop offset="0.2967" stop-color="#434343"/><stop offset="0.2967" stop-color="#434343"/><stop offset="0.3273" stop-color="#3e3e3e"/><stop offset="0.3273" stop-color="#3e3e3e"/><stop offset="0.3478" stop-color="#3d3d3d"/><stop offset="0.3478" stop-color="#3d3d3d"/><stop offset="0.3785" stop-color="#404040"/><stop offset="0.3785" stop-color="#404040"/><stop offset="0.4398" stop-color="#434343"/><stop offset="0.4398" stop-color="#434343"/><stop offset="0.4459" stop-color="#434343"/><stop offset="0.4459" stop-color="#434343"/><stop offset="0.4461" stop-color="#464646"/><stop offset="0.4461" stop-color="#474747"/><stop offset="0.4705" stop-color="#474747"/><stop offset="0.4705" stop-color="#474747"/><stop offset="0.4725" stop-color="#464646"/><stop offset="0.4725" stop-color="#464646"/><stop offset="0.4727" stop-color="#404040"/><stop offset="0.4727" stop-color="#404040"/><stop offset="0.5175" stop-color="#3a3a3a"/><stop offset="0.5175" stop-color="#3a3a3a"/><stop offset="0.5216" stop-color="#3d3d3d"/><stop offset="0.5216" stop-color="#3d3d3d"/><stop offset="0.5481" stop-color="#393939"/><stop offset="0.5481" stop-color="#393939"/><stop offset="0.5625" stop-color="#373737"/><stop offset="0.5625" stop-color="#373737"/><stop offset="0.5829" stop-color="#373737"/><stop offset="0.5829" stop-color="#373737"/><stop offset="0.6136" stop-color="#383838"/><stop offset="0.6136" stop-color="#383838"/><stop offset="0.6442" stop-color="#3e3e3e"/><stop offset="0.6442" stop-color="#3e3e3e"/><stop offset="0.6749" stop-color="#3d3d3d"/><stop offset="0.6749" stop-color="#3d3d3d"/><stop offset="0.6954" stop-color="#3a3a3a"/><stop offset="0.6954" stop-color="#3a3a3a"/><stop offset="0.7363" stop-color="#3e3e3e"/><stop offset="0.7363" stop-color="#3e3e3e"/><stop offset="0.7567" stop-color="#3e3e3e"/><stop offset="0.7567" stop-color="#3e3e3e"/><stop offset="0.7949" stop-color="#3e3e3e"/><stop offset="0.7949" stop-color="#3f3f3f"/><stop offset="0.7951" stop-color="#464646"/><stop offset="0.7951" stop-color="#474747"/><stop offset="0.8323" stop-color="#414141"/><stop offset="0.8323" stop-color="#414141"/><stop offset="0.8385" stop-color="#424242"/><stop offset="0.8385" stop-color="#424242"/><stop offset="0.8426" stop-color="#434343"/><stop offset="0.8426" stop-color="#434343"/><stop offset="0.8630" stop-color="#404040"/><stop offset="0.8630" stop-color="#404040"/><stop offset="0.8835" stop-color="#434343"/><stop offset="0.8835" stop-color="#434343"/><stop offset="0.8957" stop-color="#434343"/><stop offset="0.8957" stop-color="#434343"/><stop offset="0.9162" stop-color="#444444"/><stop offset="0.9162" stop-color="#444444"/><stop offset="0.9203" stop-color="#444444"/><stop offset="0.9203" stop-color="#444444"/><stop offset="0.9346" stop-color="#424242"/><stop offset="0.9346" stop-color="#424242"/><stop offset="0.9407" stop-color="#404040"/><stop offset="0.9407" stop-color="#404040"/><stop offset="0.9495" stop-color="#424242"/><stop offset="0.9495" stop-color="#363636"/><stop offset="0.9548" stop-color="#383838"/><stop offset="0.9548" stop-color="#434343"/><stop offset="0.9571" stop-color="#444444"/><stop offset="0.9571" stop-color="#444444"/><stop offset="0.9612" stop-color="#444444"/><stop offset="0.9612" stop-color="#434343"/><stop offset="0.9614" stop-color="#3c3c3c"/><stop offset="0.9614" stop-color="#2f2f2f"/><stop offset="0.9661" stop-color="#2f2f2f"/><stop offset="0.9661" stop-color="#3c3c3c"/><stop offset="0.9663" stop-color="#444444"/><stop offset="0.9663" stop-color="#454545"/><stop offset="0.9693" stop-color="#454545"/><stop offset="0.9693" stop-color="#454545"/><stop offset="0.9775" stop-color="#414141"/><stop offset="0.9775" stop-color="#414141"/><stop offset="0.9824" stop-color="#414141"/><stop offset="0.9824" stop-color="#424242"/><stop offset="0.9826" stop-color="#454545"/><stop offset="0.9826" stop-color="#464646"/><stop offset="0.9877" stop-color="#464646"/><stop offset="0.9877" stop-color="#3a3a3a"/><stop offset="0.9898" stop-color="#3a3a3a"/><stop offset="0.9898" stop-color="#393939"/><stop offset="0.9900" stop-color="#2e2e2e"/><stop offset="0.9900" stop-color="#2c2c2c"/><stop offset="0.9937" stop-color="#2c2c2c"/><stop offset="0.9937" stop-color="#2d2d2d"/><stop offset="0.9939" stop-color="#363636"/><stop offset="0.9939" stop-color="#373737"/><stop offset="1.0000" stop-color="#373737"/></linearGradient>
<linearGradient id="d30" gradientUnits="userSpaceOnUse" x1="0" x2="0" y1="629.9" y2="1119"><stop offset="0.0000" stop-color="#333333"/><stop offset="0.0002" stop-color="#333333"/><stop offset="0.0002" stop-color="#363636"/><stop offset="0.0145" stop-color="#363636"/><stop offset="0.0145" stop-color="#3d3d3d"/><stop offset="0.0750" stop-color="#3d3d3d"/><stop offset="0.0750" stop-color="#393939"/><stop offset="0.1024" stop-color="#383838"/><stop offset="0.1024" stop-color="#383838"/><stop offset="0.1270" stop-color="#3b3b3b"/><stop offset="0.1270" stop-color="#3b3b3b"/><stop offset="0.1433" stop-color="#3d3d3d"/><stop offset="0.1433" stop-color="#3d3d3d"/><stop offset="0.2967" stop-color="#3d3d3d"/><stop offset="0.2967" stop-color="#3d3d3d"/><stop offset="0.3273" stop-color="#383838"/><stop offset="0.3273" stop-color="#383838"/><stop offset="0.3478" stop-color="#373737"/><stop offset="0.3478" stop-color="#373737"/><stop offset="0.3785" stop-color="#3a3a3a"/><stop offset="0.3785" stop-color="#3a3a3a"/><stop offset="0.4398" stop-color="#3d3d3d"/><stop offset="0.4398" stop-color="#3d3d3d"/><stop offset="0.4459" stop-color="#3d3d3d"/><stop offset="0.4459" stop-color="#3d3d3d"/><stop offset="0.4461" stop-color="#404040"/><stop offset="0.4461" stop-color="#414141"/><stop offset="0.4705" stop-color="#414141"/><stop offset="0.4705" stop-color="#414141"/><stop offset="0.4725" stop-color="#414141"/><stop offset="0.4725" stop-color="#404040"/><stop offset="0.4727" stop-color="#3b3b3b"/><stop offset="0.4727" stop-color="#3a3a3a"/><stop offset="0.5175" stop-color="#373737"/><stop offset="0.5175" stop-color="#373737"/><stop offset="0.5216" stop-color="#3a3a3a"/><stop offset="0.5216" stop-color="#3a3a3a"/><stop offset="0.5481" stop-color="#383838"/><stop offset="0.5481" stop-color="#383838"/><stop offset="0.5625" stop-color="#373737"/><stop offset="0.5625" stop-color="#373737"/><stop offset="0.5829" stop-color="#373737"/><stop offset="0.5829" stop-color="#373737"/><stop offset="0.6136" stop-color="#383838"/><stop offset="0.6136" stop-color="#383838"/><stop offset="0.6442" stop-color="#3e3e3e"/><stop offset="0.6442" stop-color="#3e3e3e"/><stop offset="0.6749" stop-color="#3d3d3d"/><stop offset="0.6749" stop-color="#3d3d3d"/><stop offset="0.6954" stop-color="#3a3a3a"/><stop offset="0.6954" stop-color="#3a3a3a"/><stop offset="0.7363" stop-color="#3e3e3e"/><stop offset="0.7363" stop-color="#3e3e3e"/><stop offset="0.7567" stop-color="#3e3e3e"/><stop offset="0.7567" stop-color="#3e3e3e"/><stop offset="0.7949" stop-color="#3e3e3e"/><stop offset="0.7949" stop-color="#3f3f3f"/><stop offset="0.7951" stop-color="#464646"/><stop offset="0.7951" stop-color="#474747"/><stop offset="0.8323" stop-color="#414141"/><stop offset="0.8323" stop-color="#414141"/><stop offset="0.8385" stop-color="#424242"/><stop offset="0.8385" stop-color="#424242"/><stop offset="0.8426" stop-color="#434343"/><stop offset="0.8426" stop-color="#434343"/><stop offset="0.8630" stop-color="#3d3d3d"/><stop offset="0.8630" stop-color="#3d3d3d"/><stop offset="0.8835" stop-color="#3d3d3d"/><stop offset="0.8835" stop-color="#3d3d3d"/><stop offset="0.8957" stop-color="#3e3e3e"/><stop offset="0.8957" stop-color="#3e3e3e"/><stop offset="0.9162" stop-color="#3e3e3e"/><stop offset="0.9162" stop-color="#3e3e3e"/><stop offset="0.9203" stop-color="#3e3e3e"/><stop offset="0.9203" stop-color="#3e3e3e"/><stop offset="0.9346" stop-color="#3a3a3a"/><stop offset="0.9346" stop-color="#3a3a3a"/><stop offset="0.9407" stop-color="#393939"/><stop offset="0.9407" stop-color="#393939"/><stop offset="0.9495" stop-color="#3b3b3b"/><stop offset="0.9495" stop-color="#2f2f2f"/><stop offset="0.9548" stop-color="#313131"/><stop offset="0.9548" stop-color="#3c3c3c"/><stop offset="0.9571" stop-color="#3d3d3d"/><stop offset="0.9571" stop-color="#3d3d3d"/><stop offset="0.9612" stop-color="#3d3d3d"/><stop offset="0.9612" stop-color="#3c3c3c"/><stop offset="0.9614" stop-color="#353535"/><stop offset="0.9614" stop-color="#282828"/><stop offset="0.9661" stop-color="#282828"/><stop offset="0.9661" stop-color="#353535"/><stop offset="0.9663" stop-color="#3d3d3d"/><stop offset="0.9663" stop-color="#3e3e3e"/><stop offset="0.9693" stop-color="#3e3e3e"/><stop offset="0.9693" stop-color="#3e3e3e"/><stop offset="0.9775" stop-color="#3a3a3a"/><stop offset="0.9775" stop-color="#3a3a3a"/><stop offset="0.9824" stop-color="#3a3a3a"/><stop offset="0.9824" stop-color="#3b3b3b"/><stop offset="0.9826" stop-color="#3e3e3e"/><stop offset="0.9826" stop-color="#3f3f3f"/><stop offset="0.9877" stop-color="#3f3f3f"/><stop offset="0.9877" stop-color="#3a3a3a"/><stop offset="0.9898" stop-color="#3a3a3a"/><stop offset="0.9898" stop-color="#393939"/><stop offset="0.9900" stop-color="#2e2e2e"/><stop offset="0.9900" stop-color="#2c2c2c"/><stop offset="0.9937" stop-color="#2c2c2c"/><stop offset="0.9937" stop-color="#2d2d2d"/><stop offset="0.9939" stop-color="#363636"/><stop offset="0.9939" stop-color="#373737"/><stop offset="1.0000" stop-color="#373737"/></linearGradient>
<linearGradient id="d31" gradientUnits="userSpaceOnUse" x1="0" x2="0" y1="629.9" y2="1119"><stop offset="0.0000" stop-color="#333333"/><stop offset="0.0002" stop-color="#333333"/><stop offset="0.0002" stop-color="#333333"/><stop offset="0.0084" stop-color="#333333"/><stop offset="0.0084" stop-color="#393939"/><stop offset="0.0750" stop-color="#393939"/><stop offset="0.0750" stop-color="#383838"/><stop offset="0.1024" stop-color="#373737"/><stop offset="0.1024" stop-color="#373737"/><stop offset="0.1270" stop-color="#3a3a3a"/><stop offset="0.1270" stop-color="#3a3a3a"/><stop offset="0.1433" stop-color="#3c3c3c"/><stop offset="0.1433" stop-color="#3c3c3c"/><stop offset="0.2967" stop-color="#3c3c3c"/><stop offset="0.2967" stop-color="#3c3c3c"/><stop offset="0.3273" stop-color="#373737"/><stop offset="0.3273" stop-color="#373737"/><stop offset="0.3478" stop-color="#363636"/><stop offset="0.3478" stop-color="#363636"/><stop offset="0.3785" stop-color="#383838"/><stop offset="0.3785" stop-color="#383838"/><stop offset="0.4398" stop-color="#3c3c3c"/><stop offset="0.4398" stop-color="#3c3c3c"/><stop offset="0.4459" stop-color="#3c3c3c"/><stop offset="0.4459" stop-color="#3c3c3c"/><stop offset="0.4461" stop-color="#3f3f3f"/><stop offset="0.4461" stop-color="#404040"/><stop offset="0.4705" stop-color="#404040"/><stop offset="0.4705" stop-color="#404040"/><stop offset="0.4725" stop-color="#3f3f3f"/><stop offset="0.4725" stop-color="#3f3f3f"/><stop offset="0.4727" stop-color="#393939"/><stop offset="0.4727" stop-color="#393939"/><stop offset="0.5175" stop-color="#363636"/><stop offset="0.5175" stop-color="#363636"/><stop offset="0.5216" stop-color="#3a3a3a"/><stop offset="0.5216" stop-color="#3a3a3a"/><stop offset="0.5481" stop-color="#383838"/><stop offset="0.5481" stop-color="#383838"/><stop offset="0.5625" stop-color="#373737"/><stop offset="0.5625" stop-color="#373737"/><stop offset="0.5829" stop-color="#373737"/><stop offset="0.5829" stop-color="#373737"/><stop offset="0.6136" stop-color="#383838"/><stop offset="0.6136" stop-color="#383838"/><stop offset="0.6442" stop-color="#3e3e3e"/><stop offset="0.6442" stop-color="#3e3e3e"/><stop offset="0.6749" stop-color="#3d3d3d"/><stop offset="0.6749" stop-color="#3d3d3d"/><stop offset="0.6954" stop-color="#3a3a3a"/><stop offset="0.6954" stop-color="#3a3a3a"/><stop offset="0.7363" stop-color="#3e3e3e"/><stop offset="0.7363" stop-color="#3e3e3e"/><stop offset="0.7567" stop-color="#3e3e3e"/><stop offset="0.7567" stop-color="#3e3e3e"/><stop offset="0.7949" stop-color="#3e3e3e"/><stop offset="0.7949" stop-color="#3f3f3f"/><stop offset="0.7951" stop-color="#464646"/><stop offset="0.7951" stop-color="#474747"/><stop offset="0.8323" stop-color="#414141"/><stop offset="0.8323" stop-color="#414141"/><stop offset="0.8385" stop-color="#424242"/><stop offset="0.8385" stop-color="#424242"/><stop offset="0.8426" stop-color="#434343"/><stop offset="0.8426" stop-color="#434343"/><stop offset="0.8630" stop-color="#3d3d3d"/><stop offset="0.8630" stop-color="#3d3d3d"/><stop offset="0.8835" stop-color="#3d3d3d"/><stop offset="0.8835" stop-color="#3d3d3d"/><stop offset="0.8957" stop-color="#3e3e3e"/><stop offset="0.8957" stop-color="#3e3e3e"/><stop offset="0.9162" stop-color="#3e3e3e"/><stop offset="0.9162" stop-color="#3e3e3e"/><stop offset="0.9203" stop-color="#3e3e3e"/><stop offset="0.9203" stop-color="#3e3e3e"/><stop offset="0.9346" stop-color="#3a3a3a"/><stop offset="0.9346" stop-color="#3a3a3a"/><stop offset="0.9407" stop-color="#393939"/><stop offset="0.9407" stop-color="#393939"/><stop offset="0.9495" stop-color="#3b3b3b"/><stop offset="0.9495" stop-color="#2f2f2f"/><stop offset="0.9548" stop-color="#313131"/><stop offset="0.9548" stop-color="#3c3c3c"/><stop offset="0.9571" stop-color="#3d3d3d"/><stop offset="0.9571" stop-color="#3d3d3d"/><stop offset="0.9612" stop-color="#3d3d3d"/><stop offset="0.9612" stop-color="#3c3c3c"/><stop offset="0.9614" stop-color="#353535"/><stop offset="0.9614" stop-color="#282828"/><stop offset="0.9661" stop-color="#282828"/><stop offset="0.9661" stop-color="#353535"/><stop offset="0.9663" stop-color="#3d3d3d"/><stop offset="0.9663" stop-color="#3e3e3e"/><stop offset="0.9693" stop-color="#3e3e3e"/><stop offset="0.9693" stop-color="#3e3e3e"/><stop offset="0.9775" stop-color="#3a3a3a"/><stop offset="0.9775" stop-color="#3a3a3a"/><stop offset="0.9824" stop-color="#3a3a3a"/><stop offset="0.9824" stop-color="#3b3b3b"/><stop offset="0.9826" stop-color="#3e3e3e"/><stop offset="0.9826" stop-color="#3f3f3f"/><stop offset="0.9877" stop-color="#3f3f3f"/><stop offset="0.9877" stop-color="#3a3a3a"/><stop offset="0.9898" stop-color="#3a3a3a"/><stop offset="0.9898" stop-color="#393939"/><stop offset="0.9900" stop-color="#2e2e2e"/><stop offset="0.9900" stop-color="#2c2c2c"/><stop offset="0.9937" stop-color="#2c2c2c"/><stop offset="0.9937" stop-color="#2d2d2d"/><stop offset="0.9939" stop-color="#363636"/><stop offset="0.9939" stop-color="#373737"/><stop offset="1.0000" stop-color="#373737"/></linearGradient>
<linearGradient id="d32" gradientUnits="userSpaceOnUse" x1="0" x2="0" y1="629.9" y2="1119"><stop offset="0.0000" stop-color="#333333"/><stop offset="0.0002" stop-color="#333333"/><stop offset="0.0002" stop-color="#3a3a3a"/><stop offset="0.0750" stop-color="#3a3a3a"/><stop offset="0.0750" stop-color="#373737"/><stop offset="0.1024" stop-color="#363636"/><stop offset="0.1024" stop-color="#363636"/><stop offset="0.1270" stop-color="#393939"/><stop offset="0.1270" stop-color="#393939"/><stop offset="0.1433" stop-color="#3b3b3b"/><stop offset="0.1433" stop-color="#3b3b3b"/><stop offset="0.2967" stop-color="#3b3b3b"/><stop offset="0.2967" stop-color="#3b3b3b"/><stop offset="0.3273" stop-color="#363636"/><stop offset="0.3273" stop-color="#363636"/><stop offset="0.3478" stop-color="#353535"/><stop offset="0.3478" stop-color="#353535"/><stop offset="0.3785" stop-color="#383838"/><stop offset="0.3785" stop-color="#383838"/><stop offset="0.4398" stop-color="#3b3b3b"/><stop offset="0.4398" stop-color="#3b3b3b"/><stop offset="0.4459" stop-color="#3b3b3b"/><stop offset="0.4459" stop-color="#3b3b3b"/><stop offset="0.4461" stop-color="#3e3e3e"/><stop offset="0.4461" stop-color="#3f3f3f"/><stop offset="0.4705" stop-color="#3f3f3f"/><stop offset="0.4705" stop-color="#3f3f3f"/><stop offset="0.4725" stop-color="#3f3f3f"/><stop offset="0.4725" stop-color="#3e3e3e"/><stop offset="0.4727" stop-color="#393939"/><stop offset="0.4727" stop-color="#383838"/><stop offset="0.5175" stop-color="#363636"/><stop offset="0.5175" stop-color="#363636"/><stop offset="0.5216" stop-color="#393939"/><stop offset="0.5216" stop-color="#393939"/><stop offset="0.5481" stop-color="#383838"/><stop offset="0.5481" stop-color="#383838"/><stop offset="0.5625" stop-color="#373737"/><stop offset="0.5625" stop-color="#373737"/><stop offset="0.5829" stop-color="#373737"/><stop offset="0.5829" stop-color="#373737"/><stop offset="0.6136" stop-color="#383838"/><stop offset="0.6136" stop-color="#383838"/><stop offset="0.6442" stop-color="#3e3e3e"/><stop offset="0.6442" stop-color="#3e3e3e"/><stop offset="0.6749" stop-color="#3d3d3d"/><stop offset="0.6749" stop-color="#3d3d3d"/><stop offset="0.6954" stop-color="#3a3a3a"/><stop offset="0.6954" stop-color="#3a3a3a"/><stop offset="0.7363" stop-color="#3e3e3e"/><stop offset="0.7363" stop-color="#3e3e3e"/><stop offset="0.7567" stop-color="#3e3e3e"/><stop offset="0.7567" stop-color="#3e3e3e"/><stop offset="0.7949" stop-color="#3e3e3e"/><stop offset="0.7949" stop-color="#3f3f3f"/><stop offset="0.7951" stop-color="#464646"/><stop offset="0.7951" stop-color="#474747"/><stop offset="0.8323" stop-color="#414141"/><stop offset="0.8323" stop-color="#414141"/><stop offset="0.8385" stop-color="#424242"/><stop offset="0.8385" stop-color="#424242"/><stop offset="0.8426" stop-color="#434343"/><stop offset="0.8426" stop-color="#434343"/><stop offset="0.8630" stop-color="#3d3d3d"/><stop offset="0.8630" stop-color="#3d3d3d"/><stop offset="0.8835" stop-color="#3d3d3d"/><stop offset="0.8835" stop-color="#3d3d3d"/><stop offset="0.8957" stop-color="#3e3e3e"/><stop offset="0.8957" stop-color="#3e3e3e"/><stop offset="0.9162" stop-color="#3e3e3e"/><stop offset="0.9162" stop-color="#3e3e3e"/><stop offset="0.9203" stop-color="#3e3e3e"/><stop offset="0.9203" stop-color="#3e3e3e"/><stop offset="0.9346" stop-color="#3a3a3a"/><stop offset="0.9346" stop-color="#3a3a3a"/><stop offset="0.9407" stop-color="#393939"/><stop offset="0.9407" stop-color="#393939"/><stop offset="0.9495" stop-color="#3b3b3b"/><stop offset="0.9495" stop-color="#2f2f2f"/><stop offset="0.9548" stop-color="#313131"/><stop offset="0.9548" stop-color="#3c3c3c"/><stop offset="0.9571" stop-color="#3d3d3d"/><stop offset="0.9571" stop-color="#3d3d3d"/><stop offset="0.9612" stop-color="#3d3d3d"/><stop offset="0.9612" stop-color="#3c3c3c"/><stop offset="0.9614" stop-color="#353535"/><stop offset="0.9614" stop-color="#282828"/><stop offset="0.9661" stop-color="#282828"/><stop offset="0.9661" stop-color="#353535"/><stop offset="0.9663" stop-color="#3d3d3d"/><stop offset="0.9663" stop-color="#3e3e3e"/><stop offset="0.9693" stop-color="#3e3e3e"/><stop offset="0.9693" stop-color="#3e3e3e"/><stop offset="0.9775" stop-color="#3a3a3a"/><stop offset="0.9775" stop-color="#3a3a3a"/><stop offset="0.9824" stop-color="#3a3a3a"/><stop offset="0.9824" stop-color="#3b3b3b"/><stop offset="0.9826" stop-color="#3e3e3e"/><stop offset="0.9826" stop-color="#3f3f3f"/><stop offset="0.9877" stop-color="#3f3f3f"/><stop offset="0.9877" stop-color="#3a3a3a"/><stop offset="0.9898" stop-color="#3a3a3a"/><stop offset="0.9898" stop-color="#393939"/><stop offset="0.9900" stop-color="#2e2e2e"/><stop offset="0.9900" stop-color="#2c2c2c"/><stop offset="0.9937" stop-color="#2c2c2c"/><stop offset="0.9937" stop-color="#2d2d2d"/><stop offset="0.9939" stop-color="#363636"/><stop offset="0.9939" stop-color="#373737"/><stop offset="1.0000" stop-color="#373737"/></linearGradient>
<linearGradient id="d33" gradientUnits="userSpaceOnUse" x1="0" x2="0" y1="629.9" y2="1119"><stop offset="0.0000" stop-color="#333333"/><stop offset="0.0002" stop-color="#333333"/><stop offset="0.0002" stop-color="#3f3f3f"/><stop offset="0.0750" stop-color="#3f3f3f"/><stop offset="0.0750" stop-color="#3e3e3e"/><stop offset="0.1024" stop-color="#3d3d3d"/><stop offset="0.1024" stop-color="#3d3d3d"/><stop offset="0.1270" stop-color="#404040"/><stop offset="0.1270" stop-color="#404040"/><stop offset="0.1433" stop-color="#424242"/><stop offset="0.1433" stop-color="#424242"/><stop offset="0.2967" stop-color="#424242"/><stop offset="0.2967" stop-color="#424242"/><stop offset="0.3273" stop-color="#3d3d3d"/><stop offset="0.3273" stop-color="#3d3d3d"/><stop offset="0.3478" stop-color="#3c3c3c"/><stop offset="0.3478" stop-color="#3c3c3c"/><stop offset="0.3785" stop-color="#3f3f3f"/><stop offset="0.3785" stop-color="#3f3f3f"/><stop offset="0.4398" stop-color="#424242"/><stop offset="0.4398" stop-color="#424242"/><stop offset="0.4459" stop-color="#424242"/><stop offset="0.4459" stop-color="#424242"/><stop offset="0.4461" stop-color="#454545"/><stop offset="0.4461" stop-color="#464646"/><stop offset="0.4705" stop-color="#464646"/><stop offset="0.4705" stop-color="#464646"/><stop offset="0.4725" stop-color="#464646"/><stop offset="0.4725" stop-color="#454545"/><stop offset="0.4727" stop-color="#404040"/><stop offset="0.4727" stop-color="#3f3f3f"/><stop offset="0.5175" stop-color="#3a3a3a"/><stop offset="0.5175" stop-color="#3a3a3a"/><stop offset="0.5216" stop-color="#3d3d3d"/><stop offset="0.5216" stop-color="#3d3d3d"/><stop offset="0.5481" stop-color="#393939"/><stop offset="0.5481" stop-color="#393939"/><stop offset="0.5625" stop-color="#373737"/><stop offset="0.5625" stop-color="#373737"/><stop offset="0.5829" stop-color="#373737"/><stop offset="0.5829" stop-color="#373737"/><stop offset="0.6136" stop-color="#383838"/><stop offset="0.6136" stop-color="#383838"/><stop offset="0.6442" stop-color="#3e3e3e"/><stop offset="0.6442" stop-color="#3e3e3e"/><stop offset="0.6749" stop-color="#3d3d3d"/><stop offset="0.6749" stop-color="#3d3d3d"/><stop offset="0.6954" stop-color="#3a3a3a"/><stop offset="0.6954" stop-color="#3a3a3a"/><stop offset="0.7363" stop-color="#3e3e3e"/><stop offset="0.7363" stop-color="#3e3e3e"/><stop offset="0.7567" stop-color="#3e3e3e"/><stop offset="0.7567" stop-color="#3e3e3e"/><stop offset="0.7949" stop-color="#3e3e3e"/><stop offset="0.7949" stop-color="#3f3f3f"/><stop offset="0.7951" stop-color="#464646"/><stop offset="0.7951" stop-color="#474747"/><stop offset="0.8323" stop-color="#414141"/><stop offset="0.8323" stop-color="#414141"/><stop offset="0.8385" stop-color="#424242"/><stop offset="0.8385" stop-color="#424242"/><stop offset="0.8426" stop-color="#434343"/><stop offset="0.8426" stop-color="#434343"/><stop offset="0.8630" stop-color="#404040"/><stop offset="0.8630" stop-color="#404040"/><stop offset="0.8835" stop-color="#424242"/><stop offset="0.8835" stop-color="#424242"/><stop offset="0.8957" stop-color="#434343"/><stop offset="0.8957" stop-color="#434343"/><stop offset="0.9162" stop-color="#434343"/><stop offset="0.9162" stop-color="#434343"/><stop offset="0.9203" stop-color="#444444"/><stop offset="0.9203" stop-color="#444444"/><stop offset="0.9346" stop-color="#424242"/><stop offset="0.9346" stop-color="#424242"/><stop offset="0.9407" stop-color="#404040"/><stop offset="0.9407" stop-color="#404040"/><stop offset="0.9495" stop-color="#424242"/><stop offset="0.9495" stop-color="#363636"/><stop offset="0.9548" stop-color="#383838"/><stop offset="0.9548" stop-color="#434343"/><stop offset="0.9571" stop-color="#444444"/><stop offset="0.9571" stop-color="#444444"/><stop offset="0.9612" stop-color="#444444"/><stop offset="0.9612" stop-color="#434343"/><stop offset="0.9614" stop-color="#3c3c3c"/><stop offset="0.9614" stop-color="#2f2f2f"/><stop offset="0.9661" stop-color="#2f2f2f"/><stop offset="0.9661" stop-color="#3c3c3c"/><stop offset="0.9663" stop-color="#444444"/><stop offset="0.9663" stop-color="#454545"/><stop offset="0.9693" stop-color="#454545"/><stop offset="0.9693" stop-color="#454545"/><stop offset="0.9775" stop-color="#414141"/><stop offset="0.9775" stop-color="#414141"/><stop offset="0.9824" stop-color="#414141"/><stop offset="0.9824" stop-color="#424242"/><stop offset="0.9826" stop-color="#454545"/><stop offset="0.9826" stop-color="#464646"/><stop offset="0.9877" stop-color="#464646"/><stop offset="0.9877" stop-color="#3a3a3a"/><stop offset="0.9898" stop-color="#3a3a3a"/><stop offset="0.9898" stop-color="#393939"/><stop offset="0.9900" stop-color="#2e2e2e"/><stop offset="0.9900" stop-color="#2c2c2c"/><stop offset="0.9937" stop-color="#2c2c2c"/><stop offset="0.9937" stop-color="#2d2d2d"/><stop offset="0.9939" stop-color="#363636"/><stop offset="0.9939" stop-color="#373737"/><stop offset="1.0000" stop-color="#373737"/></linearGradient>
<linearGradient id="d34" gradientUnits="userSpaceOnUse" x1="0" x2="0" y1="629.9" y2="1119"><stop offset="0.0000" stop-color="#333333"/><stop offset="0.0002" stop-color="#333333"/><stop offset="0.0002" stop-color="#3e3e3e"/><stop offset="0.0750" stop-color="#3e3e3e"/><stop offset="0.0750" stop-color="#3c3c3c"/><stop offset="0.1024" stop-color="#3b3b3b"/><stop offset="0.1024" stop-color="#3b3b3b"/><stop offset="0.1270" stop-color="#3e3e3e"/><stop offset="0.1270" stop-color="#3e3e3e"/><stop offset="0.1433" stop-color="#404040"/><stop offset="0.1433" stop-color="#404040"/><stop offset="0.2967" stop-color="#404040"/><stop offset="0.2967" stop-color="#404040"/><stop offset="0.3273" stop-color="#3b3b3b"/><stop offset="0.3273" stop-color="#3b3b3b"/><stop offset="0.3478" stop-color="#3a3a3a"/><stop offset="0.3478" stop-color="#3a3a3a"/><stop offset="0.3785" stop-color="#3c3c3c"/><stop offset="0.3785" stop-color="#3c3c3c"/><stop offset="0.4398" stop-color="#404040"/><stop offset="0.4398" stop-color="#404040"/><stop offset="0.4459" stop-color="#404040"/><stop offset="0.4459" stop-color="#404040"/><stop offset="0.4461" stop-color="#434343"/><stop offset="0.4461" stop-color="#434343"/><stop offset="0.4705" stop-color="#434343"/><stop offset="0.4705" stop-color="#434343"/><stop offset="0.4725" stop-color="#434343"/><stop offset="0.4725" stop-color="#434343"/><stop offset="0.4727" stop-color="#3d3d3d"/><stop offset="0.4727" stop-color="#3d3d3d"/><stop offset="0.5175" stop-color="#383838"/><stop offset="0.5175" stop-color="#383838"/><stop offset="0.5216" stop-color="#3c3c3c"/><stop offset="0.5216" stop-color="#3c3c3c"/><stop offset="0.5481" stop-color="#383838"/><stop offset="0.5481" stop-color="#383838"/><stop offset="0.5625" stop-color="#373737"/><stop offset="0.5625" stop-color="#373737"/><stop offset="0.5829" stop-color="#373737"/><stop offset="0.5829" stop-color="#373737"/><stop offset="0.6136" stop-color="#383838"/><stop offset="0.6136" stop-color="#383838"/><stop offset="0.6442" stop-color="#3e3e3e"/><stop offset="0.6442" stop-color="#3e3e3e"/><stop offset="0.6749" stop-color="#3d3d3d"/><stop offset="0.6749" stop-color="#3d3d3d"/><stop offset="0.6954" stop-color="#3a3a3a"/><stop offset="0.6954" stop-color="#3a3a3a"/><stop offset="0.7363" stop-color="#3e3e3e"/><stop offset="0.7363" stop-color="#3e3e3e"/><stop offset="0.7567" stop-color="#3e3e3e"/><stop offset="0.7567" stop-color="#3e3e3e"/><stop offset="0.7949" stop-color="#3e3e3e"/><stop offset="0.7949" stop-color="#3f3f3f"/><stop offset="0.7951" stop-color="#464646"/><stop offset="0.7951" stop-color="#474747"/><stop offset="0.8323" stop-color="#414141"/><stop offset="0.8323" stop-color="#414141"/><stop offset="0.8385" stop-color="#424242"/><stop offset="0.8385" stop-color="#424242"/><stop offset="0.8426" stop-color="#434343"/><stop offset="0.8426" stop-color="#434343"/><stop offset="0.8630" stop-color="#404040"/><stop offset="0.8630" stop-color="#404040"/><stop offset="0.8835" stop-color="#424242"/><stop offset="0.8835" stop-color="#424242"/><stop offset="0.8957" stop-color="#434343"/><stop offset="0.8957" stop-color="#434343"/><stop offset="0.9162" stop-color="#434343"/><stop offset="0.9162" stop-color="#434343"/><stop offset="0.9203" stop-color="#444444"/><stop offset="0.9203" stop-color="#444444"/><stop offset="0.9346" stop-color="#424242"/><stop offset="0.9346" stop-color="#424242"/><stop offset="0.9407" stop-color="#404040"/><stop offset="0.9407" stop-color="#404040"/><stop offset="0.9495" stop-color="#424242"/><stop offset="0.9495" stop-color="#363636"/><stop offset="0.9548" stop-color="#383838"/><stop offset="0.9548" stop-color="#434343"/><stop offset="0.9571" stop-color="#444444"/><stop offset="0.9571" stop-color="#444444"/><stop offset="0.9612" stop-color="#444444"/><stop offset="0.9612" stop-color="#434343"/><stop offset="0.9614" stop-color="#3c3c3c"/><stop offset="0.9614" stop-color="#2f2f2f"/><stop offset="0.9661" stop-color="#2f2f2f"/><stop offset="0.9661" stop-color="#3c3c3c"/><stop offset="0.9663" stop-color="#444444"/><stop offset="0.9663" stop-color="#454545"/><stop offset="0.9693" stop-color="#454545"/><stop offset="0.9693" stop-color="#454545"/><stop offset="0.9775" stop-color="#414141"/><stop offset="0.9775" stop-color="#414141"/><stop offset="0.9824" stop-color="#414141"/><stop offset="0.9824" stop-color="#424242"/><stop offset="0.9826" stop-color="#454545"/><stop offset="0.9826" stop-color="#464646"/><stop offset="0.9877" stop-color="#464646"/><stop offset="0.9877" stop-color="#3a3a3a"/><stop offset="0.9898" stop-color="#3a3a3a"/><stop offset="0.9898" stop-color="#393939"/><stop offset="0.9900" stop-color="#2e2e2e"/><stop offset="0.9900" stop-color="#2c2c2c"/><stop offset="0.9937" stop-color="#2c2c2c"/><stop offset="0.9937" stop-color="#2d2d2d"/><stop offset="0.9939" stop-color="#363636"/><stop offset="0.9939" stop-color="#373737"/><stop offset="1.0000" stop-color="#373737"/></linearGradient>
<linearGradient id="d35" gradientUnits="userSpaceOnUse" x1="0" x2="0" y1="629.9" y2="1119"><stop offset="0.0000" stop-color="#333333"/><stop offset="0.0002" stop-color="#333333"/><stop offset="0.0002" stop-color="#3b3b3b"/><stop offset="0.0750" stop-color="#3b3b3b"/><stop offset="0.0750" stop-color="#393939"/><stop offset="0.1024" stop-color="#383838"/><stop offset="0.1024" stop-color="#383838"/><stop offset="0.1270" stop-color="#3b3b3b"/><stop offset="0.1270" stop-color="#3b3b3b"/><stop offset="0.1433" stop-color="#3d3d3d"/><stop offset="0.1433" stop-color="#3d3d3d"/><stop offset="0.2967" stop-color="#3d3d3d"/><stop offset="0.2967" stop-color="#3d3d3d"/><stop offset="0.3273" stop-color="#383838"/><stop offset="0.3273" stop-color="#383838"/><stop offset="0.3478" stop-color="#373737"/><stop offset="0.3478" stop-color="#373737"/><stop offset="0.3785" stop-color="#3a3a3a"/><stop offset="0.3785" stop-color="#3a3a3a"/><stop offset="0.4398" stop-color="#3d3d3d"/><stop offset="0.4398" stop-color="#3d3d3d"/><stop offset="0.4459" stop-color="#3d3d3d"/><stop offset="0.4459" stop-color="#3d3d3d"/><stop offset="0.4461" stop-color="#404040"/><stop offset="0.4461" stop-color="#414141"/><stop offset="0.4705" stop-color="#414141"/><stop offset="0.4705" stop-color="#414141"/><stop offset="0.4725" stop-color="#414141"/><stop offset="0.4725" stop-color="#404040"/><stop offset="0.4727" stop-color="#3b3b3b"/><stop offset="0.4727" stop-color="#3a3a3a"/><stop offset="0.5175" stop-color="#373737"/><stop offset="0.5175" stop-color="#373737"/><stop offset="0.5216" stop-color="#3a3a3a"/><stop offset="0.5216" stop-color="#3a3a3a"/><stop offset="0.5481" stop-color="#383838"/><stop offset="0.5481" stop-color="#383838"/><stop offset="0.5625" stop-color="#373737"/><stop offset="0.5625" stop-color="#373737"/><stop offset="0.5829" stop-color="#373737"/><stop offset="0.5829" stop-color="#373737"/><stop offset="0.6136" stop-color="#383838"/><stop offset="0.6136" stop-color="#383838"/><stop offset="0.6442" stop-color="#3e3e3e"/><stop offset="0.6442" stop-color="#3e3e3e"/><stop offset="0.6749" stop-color="#3d3d3d"/><stop offset="0.6749" stop-color="#3d3d3d"/><stop offset="0.6954" stop-color="#3a3a3a"/><stop offset="0.6954" stop-color="#3a3a3a"/><stop offset="0.7363" stop-color="#3e3e3e"/><stop offset="0.7363" stop-color="#3e3e3e"/><stop offset="0.7567" stop-color="#3e3e3e"/><stop offset="0.7567" stop-color="#3e3e3e"/><stop offset="0.7949" stop-color="#3e3e3e"/><stop offset="0.7949" stop-color="#3f3f3f"/><stop offset="0.7951" stop-color="#464646"/><stop offset="0.7951" stop-color="#474747"/><stop offset="0.8323" stop-color="#414141"/><stop offset="0.8323" stop-color="#414141"/><stop offset="0.8385" stop-color="#424242"/><stop offset="0.8385" stop-color="#424242"/><stop offset="0.8426" stop-color="#434343"/><stop offset="0.8426" stop-color="#434343"/><stop offset="0.8630" stop-color="#3e3e3e"/><stop offset="0.8630" stop-color="#3e3e3e"/><stop offset="0.8835" stop-color="#3f3f3f"/><stop offset="0.8835" stop-color="#3f3f3f"/><stop offset="0.8957" stop-color="#404040"/><stop offset="0.8957" stop-color="#404040"/><stop offset="0.9162" stop-color="#404040"/><stop offset="0.9162" stop-color="#404040"/><stop offset="0.9203" stop-color="#404040"/><stop offset="0.9203" stop-color="#404040"/><stop offset="0.9346" stop-color="#3e3e3e"/><stop offset="0.9346" stop-color="#3e3e3e"/><stop offset="0.9407" stop-color="#3c3c3c"/><stop offset="0.9407" stop-color="#3c3c3c"/><stop offset="0.9495" stop-color="#3e3e3e"/><stop offset="0.9495" stop-color="#333333"/><stop offset="0.9548" stop-color="#343434"/><stop offset="0.9548" stop-color="#3f3f3f"/><stop offset="0.9571" stop-color="#404040"/><stop offset="0.9571" stop-color="#404040"/><stop offset="0.9612" stop-color="#404040"/><stop offset="0.9612" stop-color="#3f3f3f"/><stop offset="0.9614" stop-color="#383838"/><stop offset="0.9614" stop-color="#2b2b2b"/><stop offset="0.9661" stop-color="#2b2b2b"/><stop offset="0.9661" stop-color="#383838"/><stop offset="0.9663" stop-color="#404040"/><stop offset="0.9663" stop-color="#414141"/><stop offset="0.9693" stop-color="#424242"/><stop offset="0.9693" stop-color="#424242"/><stop offset="0.9775" stop-color="#3d3d3d"/><stop offset="0.9775" stop-color="#3d3d3d"/><stop offset="0.9824" stop-color="#3d3d3d"/><stop offset="0.9824" stop-color="#3e3e3e"/><stop offset="0.9826" stop-color="#414141"/><stop offset="0.9826" stop-color="#424242"/><stop offset="0.9877" stop-color="#424242"/><stop offset="0.9877" stop-color="#3a3a3a"/><stop offset="0.9898" stop-color="#3a3a3a"/><stop offset="0.9898" stop-color="#393939"/><stop offset="0.9900" stop-color="#2e2e2e"/><stop offset="0.9900" stop-color="#2c2c2c"/><stop offset="0.9937" stop-color="#2c2c2c"/><stop offset="0.9937" stop-color="#2d2d2d"/><stop offset="0.9939" stop-color="#363636"/><stop offset="0.9939" stop-color="#373737"/><stop offset="1.0000" stop-color="#373737"/></linearGradient>
<linearGradient id="d36" gradientUnits="userSpaceOnUse" x1="0" x2="0" y1="629.9" y2="1119"><stop offset="0.0000" stop-color="#333333"/><stop offset="0.0002" stop-color="#333333"/><stop offset="0.0002" stop-color="#313131"/><stop offset="0.0750" stop-color="#313131"/><stop offset="0.0750" stop-color="#323232"/><stop offset="0.1024" stop-color="#303030"/><stop offset="0.1024" stop-color="#303030"/><stop offset="0.1270" stop-color="#333333"/><stop offset="0.1270" stop-color="#333333"/><stop offset="0.1433" stop-color="#353535"/><stop offset="0.1433" stop-color="#323232"/><stop offset="0.2967" stop-color="#323232"/><stop offset="0.2967" stop-color="#323232"/><stop offset="0.3273" stop-color="#2e2e2e"/><stop offset="0.3273" stop-color="#2e2e2e"/><stop offset="0.3478" stop-color="#2d2d2d"/><stop offset="0.3478" stop-color="#2d2d2d"/><stop offset="0.3785" stop-color="#2f2f2f"/><stop offset="0.3785" stop-color="#2f2f2f"/><stop offset="0.4398" stop-color="#323232"/><stop offset="0.4398" stop-color="#323232"/><stop offset="0.4459" stop-color="#323232"/><stop offset="0.4459" stop-color="#333333"/><stop offset="0.4461" stop-color="#363636"/><stop offset="0.4461" stop-color="#363636"/><stop offset="0.4705" stop-color="#363636"/><stop offset="0.4705" stop-color="#363636"/><stop offset="0.4725" stop-color="#363636"/><stop offset="0.4725" stop-color="#363636"/><stop offset="0.4727" stop-color="#303030"/><stop offset="0.4727" stop-color="#303030"/><stop offset="0.5175" stop-color="#323232"/><stop offset="0.5175" stop-color="#323232"/><stop offset="0.5216" stop-color="#363636"/><stop offset="0.5216" stop-color="#363636"/><stop offset="0.5481" stop-color="#363636"/><stop offset="0.5481" stop-color="#363636"/><stop offset="0.5625" stop-color="#373737"/><stop offset="0.5625" stop-color="#373737"/><stop offset="0.6136" stop-color="#363636"/><stop offset="0.6136" stop-color="#363636"/><stop offset="0.6442" stop-color="#3a3a3a"/><stop offset="0.6442" stop-color="#3a3a3a"/><stop offset="0.6647" stop-color="#383838"/><stop offset="0.6647" stop-color="#383838"/><stop offset="0.6749" stop-color="#363636"/><stop offset="0.6749" stop-color="#363636"/><stop offset="0.6954" stop-color="#303030"/><stop offset="0.6954" stop-color="#303030"/><stop offset="0.7363" stop-color="#2c2c2c"/><stop offset="0.7363" stop-color="#2c2c2c"/><stop offset="0.7567" stop-color="#2c2c2c"/><stop offset="0.7567" stop-color="#2c2c2c"/><stop offset="0.7949" stop-color="#2c2c2c"/><stop offset="0.7949" stop-color="#252525"/><stop offset="0.7951" stop-color="#2c2c2c"/><stop offset="0.7951" stop-color="#2d2d2d"/><stop offset="0.8323" stop-color="#333333"/><stop offset="0.8323" stop-color="#333333"/><stop offset="0.8385" stop-color="#353535"/><stop offset="0.8385" stop-color="#353535"/><stop offset="0.8426" stop-color="#373737"/><stop offset="0.8426" stop-color="#373737"/><stop offset="0.8522" stop-color="#353535"/><stop offset="0.8522" stop-color="#2c2c2c"/><stop offset="0.8630" stop-color="#2a2a2a"/><stop offset="0.8630" stop-color="#2a2a2a"/><stop offset="0.8732" stop-color="#2c2c2c"/><stop offset="0.8732" stop-color="#363636"/><stop offset="0.8835" stop-color="#373737"/><stop offset="0.8835" stop-color="#373737"/><stop offset="0.8957" stop-color="#383838"/><stop offset="0.8957" stop-color="#383838"/><stop offset="0.9162" stop-color="#383838"/><stop offset="0.9162" stop-color="#383838"/><stop offset="0.9203" stop-color="#383838"/><stop offset="0.9203" stop-color="#383838"/><stop offset="0.9346" stop-color="#343434"/><stop offset="0.9346" stop-color="#343434"/><stop offset="0.9407" stop-color="#333333"/><stop offset="0.9407" stop-color="#333333"/><stop offset="0.9571" stop-color="#363636"/><stop offset="0.9571" stop-color="#363636"/><stop offset="0.9612" stop-color="#373737"/><stop offset="0.9612" stop-color="#363636"/><stop offset="0.9614" stop-color="#2e2e2e"/><stop offset="0.9614" stop-color="#2d2d2d"/><stop offset="0.9661" stop-color="#2d2d2d"/><stop offset="0.9661" stop-color="#2e2e2e"/><stop offset="0.9663" stop-color="#363636"/><stop offset="0.9663" stop-color="#373737"/><stop offset="0.9693" stop-color="#383838"/><stop offset="0.9693" stop-color="#383838"/><stop offset="0.9775" stop-color="#333333"/><stop offset="0.9775" stop-color="#333333"/><stop offset="0.9824" stop-color="#333333"/><stop offset="0.9824" stop-color="#343434"/><stop offset="0.9826" stop-color="#383838"/><stop offset="0.9826" stop-color="#383838"/><stop offset="0.9877" stop-color="#383838"/><stop offset="0.9877" stop-color="#3a3a3a"/><stop offset="0.9898" stop-color="#3a3a3a"/><stop offset="0.9898" stop-color="#393939"/><stop offset="0.9900" stop-color="#2e2e2e"/><stop offset="0.9900" stop-color="#2c2c2c"/><stop offset="0.9937" stop-color="#2c2c2c"/><stop offset="0.9937" stop-color="#2d2d2d"/><stop offset="0.9939" stop-color="#363636"/><stop offset="0.9939" stop-color="#373737"/><stop offset="1.0000" stop-color="#373737"/></linearGradient>
<linearGradient id="d37" gradientUnits="userSpaceOnUse" x1="0" x2="0" y1="629.9" y2="1119"><stop offset="0.0000" stop-color="#333333"/><stop offset="0.0002" stop-color="#333333"/><stop offset="0.0002" stop-color="#1f1f1f"/><stop offset="0.0063" stop-color="#1f1f1f"/><stop offset="0.0063" stop-color="#1f1f1f"/><stop offset="0.0125" stop-color="#1f1f1f"/><stop offset="0.0125" stop-color="#1f1f1f"/><stop offset="0.0186" stop-color="#1f1f1f"/><stop offset="0.0186" stop-color="#1f1f1f"/><stop offset="0.0247" stop-color="#1f1f1f"/><stop offset="0.0247" stop-color="#1f1f1f"/><stop offset="0.0309" stop-color="#1f1f1f"/><stop offset="0.0309" stop-color="#1f1f1f"/><stop offset="0.0370" stop-color="#1f1f1f"/><stop offset="0.0370" stop-color="#1f1f1f"/><stop offset="0.0411" stop-color="#1f1f1f"/><stop offset="0.0411" stop-color="#212121"/><stop offset="0.0472" stop-color="#212121"/><stop offset="0.0472" stop-color="#212121"/><stop offset="0.0534" stop-color="#222222"/><stop offset="0.0534" stop-color="#222222"/><stop offset="0.0595" stop-color="#212121"/><stop offset="0.0595" stop-color="#212121"/><stop offset="0.0656" stop-color="#212121"/><stop offset="0.0656" stop-color="#212121"/><stop offset="0.0718" stop-color="#202020"/><stop offset="0.0718" stop-color="#202020"/><stop offset="0.0750" stop-color="#1f1f1f"/><stop offset="0.0750" stop-color="#242424"/><stop offset="0.0812" stop-color="#232323"/><stop offset="0.0812" stop-color="#232323"/><stop offset="0.0873" stop-color="#222222"/><stop offset="0.0873" stop-color="#222222"/><stop offset="0.0934" stop-color="#222222"/><stop offset="0.0934" stop-color="#222222"/><stop offset="0.0996" stop-color="#222222"/><stop offset="0.0996" stop-color="#222222"/><stop offset="0.1024" stop-color="#222222"/><stop offset="0.1024" stop-color="#222222"/><stop offset="0.1057" stop-color="#212121"/><stop offset="0.1057" stop-color="#212121"/><stop offset="0.1118" stop-color="#222222"/><stop offset="0.1118" stop-color="#222222"/><stop offset="0.1180" stop-color="#222222"/><stop offset="0.1180" stop-color="#222222"/><stop offset="0.1241" stop-color="#222222"/><stop offset="0.1241" stop-color="#222222"/><stop offset="0.1270" stop-color="#222222"/><stop offset="0.1270" stop-color="#222222"/><stop offset="0.1302" stop-color="#222222"/><stop offset="0.1302" stop-color="#222222"/><stop offset="0.1364" stop-color="#222222"/><stop offset="0.1364" stop-color="#222222"/><stop offset="0.1425" stop-color="#232323"/><stop offset="0.1425" stop-color="#232323"/><stop offset="0.1433" stop-color="#232323"/><stop offset="0.1433" stop-color="#232323"/><stop offset="0.1486" stop-color="#242424"/><stop offset="0.1486" stop-color="#242424"/><stop offset="0.1548" stop-color="#242424"/><stop offset="0.1548" stop-color="#242424"/><stop offset="0.1609" stop-color="#252525"/><stop offset="0.1609" stop-color="#252525"/><stop offset="0.1670" stop-color="#242424"/><stop offset="0.1670" stop-color="#242424"/><stop offset="0.1732" stop-color="#242424"/><stop offset="0.1732" stop-color="#242424"/><stop offset="0.1793" stop-color="#242424"/><stop offset="0.1793" stop-color="#242424"/><stop offset="0.1854" stop-color="#242424"/><stop offset="0.1854" stop-color="#242424"/><stop offset="0.1916" stop-color="#242424"/><stop offset="0.1916" stop-color="#242424"/><stop offset="0.1977" stop-color="#232323"/><stop offset="0.1977" stop-color="#232323"/><stop offset="0.2038" stop-color="#232323"/><stop offset="0.2038" stop-color="#232323"/><stop offset="0.2100" stop-color="#242424"/><stop offset="0.2100" stop-color="#242424"/><stop offset="0.2161" stop-color="#242424"/><stop offset="0.2161" stop-color="#242424"/><stop offset="0.2222" stop-color="#242424"/><stop offset="0.2222" stop-color="#242424"/><stop offset="0.2284" stop-color="#242424"/><stop offset="0.2284" stop-color="#242424"/><stop offset="0.2345" stop-color="#242424"/><stop offset="0.2345" stop-color="#242424"/><stop offset="0.2406" stop-color="#242424"/><stop offset="0.2406" stop-color="#242424"/><stop offset="0.2468" stop-color="#232323"/><stop offset="0.2468" stop-color="#232323"/><stop offset="0.2529" stop-color="#242424"/><stop offset="0.2529" stop-color="#242424"/><stop offset="0.2590" stop-color="#242424"/><stop offset="0.2590" stop-color="#242424"/><stop offset="0.2652" stop-color="#242424"/><stop offset="0.2652" stop-color="#242424"/><stop offset="0.2713" stop-color="#242424"/><stop offset="0.2713" stop-color="#242424"/><stop offset="0.2774" stop-color="#242424"/><stop offset="0.2774" stop-color="#242424"/><stop offset="0.2836" stop-color="#242424"/><stop offset="0.2836" stop-color="#242424"/><stop offset="0.2897" stop-color="#252525"/><stop offset="0.2897" stop-color="#252525"/><stop offset="0.2958" stop-color="#252525"/><stop offset="0.2958" stop-color="#252525"/><stop offset="0.2967" stop-color="#252525"/><stop offset="0.2967" stop-color="#252525"/><stop offset="0.3020" stop-color="#252525"/><stop offset="0.3020" stop-color="#252525"/><stop offset="0.3081" stop-color="#242424"/><stop offset="0.3081" stop-color="#242424"/><stop offset="0.3143" stop-color="#242424"/><stop offset="0.3143" stop-color="#242424"/><stop offset="0.3204" stop-color="#242424"/><stop offset="0.3204" stop-color="#242424"/><stop offset="0.3265" stop-color="#232323"/><stop offset="0.3265" stop-color="#232323"/><stop offset="0.3273" stop-color="#232323"/><stop offset="0.3273" stop-color="#232323"/><stop offset="0.3327" stop-color="#232323"/><stop offset="0.3327" stop-color="#232323"/><stop offset="0.3388" stop-color="#232323"/><stop offset="0.3388" stop-color="#232323"/><stop offset="0.3449" stop-color="#232323"/><stop offset="0.3449" stop-color="#232323"/><stop offset="0.3478" stop-color="#232323"/><stop offset="0.3478" stop-color="#232323"/><stop offset="0.3511" stop-color="#232323"/><stop offset="0.3511" stop-color="#232323"/><stop offset="0.3572" stop-color="#222222"/><stop offset="0.3572" stop-color="#222222"/><stop offset="0.3633" stop-color="#222222"/><stop offset="0.3633" stop-color="#222222"/><stop offset="0.3695" stop-color="#222222"/><stop offset="0.3695" stop-color="#222222"/><stop offset="0.3756" stop-color="#212121"/><stop offset="0.3756" stop-color="#212121"/><stop offset="0.3785" stop-color="#202020"/><stop offset="0.3785" stop-color="#202020"/><stop offset="0.3817" stop-color="#202020"/><stop offset="0.3817" stop-color="#202020"/><stop offset="0.3879" stop-color="#202020"/><stop offset="0.3879" stop-color="#202020"/><stop offset="0.3940" stop-color="#1f1f1f"/><stop offset="0.3940" stop-color="#1f1f1f"/><stop offset="0.4001" stop-color="#1f1f1f"/><stop offset="0.4001" stop-color="#1f1f1f"/><stop offset="0.4063" stop-color="#1f1f1f"/><stop offset="0.4063" stop-color="#1f1f1f"/><stop offset="0.4124" stop-color="#1f1f1f"/><stop offset="0.4124" stop-color="#1f1f1f"/><stop offset="0.4185" stop-color="#1f1f1f"/><stop offset="0.4185" stop-color="#1f1f1f"/><stop offset="0.4247" stop-color="#1f1f1f"/><stop offset="0.4247" stop-color="#1f1f1f"/><stop offset="0.4296" stop-color="#1e1e1e"/><stop offset="0.4296" stop-color="#262626"/><stop offset="0.4357" stop-color="#252525"/><stop offset="0.4357" stop-color="#252525"/><stop offset="0.4398" stop-color="#252525"/><stop offset="0.4398" stop-color="#252525"/><stop offset="0.4418" stop-color="#242424"/><stop offset="0.4418" stop-color="#242424"/><stop offset="0.4459" stop-color="#232323"/><stop offset="0.4459" stop-color="#232323"/><stop offset="0.4461" stop-color="#232323"/><stop offset="0.4461" stop-color="#232323"/><stop offset="0.4480" stop-color="#222222"/><stop offset="0.4480" stop-color="#222222"/><stop offset="0.4541" stop-color="#212121"/><stop offset="0.4541" stop-color="#212121"/><stop offset="0.4602" stop-color="#202020"/><stop offset="0.4602" stop-color="#202020"/><stop offset="0.4664" stop-color="#1e1e1e"/><stop offset="0.4664" stop-color="#1e1e1e"/><stop offset="0.4725" stop-color="#1e1e1e"/><stop offset="0.4725" stop-color="#1e1e1e"/><stop offset="0.4727" stop-color="#1e1e1e"/><stop offset="0.4727" stop-color="#1e1e1e"/><stop offset="0.4786" stop-color="#1e1e1e"/><stop offset="0.4786" stop-color="#1e1e1e"/><stop offset="0.4848" stop-color="#1d1d1d"/><stop offset="0.4848" stop-color="#1d1d1d"/><stop offset="0.4909" stop-color="#202020"/><stop offset="0.4909" stop-color="#202020"/><stop offset="0.4970" stop-color="#202020"/><stop offset="0.4970" stop-color="#202020"/><stop offset="0.5032" stop-color="#1f1f1f"/><stop offset="0.5032" stop-color="#1f1f1f"/><stop offset="0.5093" stop-color="#1f1f1f"/><stop offset="0.5093" stop-color="#1f1f1f"/><stop offset="0.5154" stop-color="#1e1e1e"/><stop offset="0.5154" stop-color="#1e1e1e"/><stop offset="0.5175" stop-color="#1d1d1d"/><stop offset="0.5175" stop-color="#1d1d1d"/><stop offset="0.5216" stop-color="#1d1d1d"/><stop offset="0.5216" stop-color="#282828"/><stop offset="0.5277" stop-color="#272727"/><stop offset="0.5277" stop-color="#272727"/><stop offset="0.5338" stop-color="#252525"/><stop offset="0.5338" stop-color="#252525"/><stop offset="0.5400" stop-color="#232323"/><stop offset="0.5400" stop-color="#232323"/><stop offset="0.5461" stop-color="#212121"/><stop offset="0.5461" stop-color="#212121"/><stop offset="0.5481" stop-color="#212121"/><stop offset="0.5481" stop-color="#212121"/><stop offset="0.5522" stop-color="#202020"/><stop offset="0.5522" stop-color="#202020"/><stop offset="0.5584" stop-color="#1f1f1f"/><stop offset="0.5584" stop-color="#1f1f1f"/><stop offset="0.5645" stop-color="#1e1e1e"/><stop offset="0.5645" stop-color="#1e1e1e"/><stop offset="0.5706" stop-color="#1f1f1f"/><stop offset="0.5706" stop-color="#1f1f1f"/><stop offset="0.5768" stop-color="#1f1f1f"/><stop offset="0.5768" stop-color="#1f1f1f"/><stop offset="0.5829" stop-color="#202020"/><stop offset="0.5829" stop-color="#202020"/><stop offset="0.5890" stop-color="#202020"/><stop offset="0.5890" stop-color="#202020"/><stop offset="0.5952" stop-color="#202020"/><stop offset="0.5952" stop-color="#202020"/><stop offset="0.6013" stop-color="#202020"/><stop offset="0.6013" stop-color="#202020"/><stop offset="0.6074" stop-color="#202020"/><stop offset="0.6074" stop-color="#202020"/><stop offset="0.6136" stop-color="#202020"/><stop offset="0.6136" stop-color="#202020"/><stop offset="0.6197" stop-color="#212121"/><stop offset="0.6197" stop-color="#212121"/><stop offset="0.6258" stop-color="#222222"/><stop offset="0.6258" stop-color="#222222"/><stop offset="0.6320" stop-color="#232323"/><stop offset="0.6320" stop-color="#232323"/><stop offset="0.6381" stop-color="#242424"/><stop offset="0.6381" stop-color="#242424"/><stop offset="0.6442" stop-color="#242424"/><stop offset="0.6442" stop-color="#242424"/><stop offset="0.6504" stop-color="#242424"/><stop offset="0.6504" stop-color="#242424"/><stop offset="0.6565" stop-color="#252525"/><stop offset="0.6565" stop-color="#252525"/><stop offset="0.6626" stop-color="#252525"/><stop offset="0.6626" stop-color="#252525"/><stop offset="0.6688" stop-color="#262626"/><stop offset="0.6688" stop-color="#262626"/><stop offset="0.6749" stop-color="#252525"/><stop offset="0.6749" stop-color="#292929"/><stop offset="0.6810" stop-color="#292929"/><stop offset="0.6810" stop-color="#292929"/><stop offset="0.6872" stop-color="#282828"/><stop offset="0.6872" stop-color="#282828"/><stop offset="0.6933" stop-color="#262626"/><stop offset="0.6933" stop-color="#262626"/><stop offset="0.6954" stop-color="#262626"/><stop offset="0.6954" stop-color="#262626"/><stop offset="0.6994" stop-color="#252525"/><stop offset="0.6994" stop-color="#252525"/><stop offset="0.7056" stop-color="#242424"/><stop offset="0.7056" stop-color="#242424"/><stop offset="0.7117" stop-color="#222222"/><stop offset="0.7117" stop-color="#222222"/><stop offset="0.7178" stop-color="#212121"/><stop offset="0.7178" stop-color="#212121"/><stop offset="0.7240" stop-color="#212121"/><stop offset="0.7240" stop-color="#212121"/><stop offset="0.7260" stop-color="#212121"/><stop offset="0.7260" stop-color="#212121"/><stop offset="0.7322" stop-color="#222222"/><stop offset="0.7322" stop-color="#222222"/><stop offset="0.7383" stop-color="#232323"/><stop offset="0.7383" stop-color="#232323"/><stop offset="0.7444" stop-color="#232323"/><stop offset="0.7444" stop-color="#232323"/><stop offset="0.7506" stop-color="#232323"/><stop offset="0.7506" stop-color="#232323"/><stop offset="0.7567" stop-color="#232323"/><stop offset="0.7567" stop-color="#232323"/><stop offset="0.7628" stop-color="#232323"/><stop offset="0.7628" stop-color="#232323"/><stop offset="0.7690" stop-color="#222222"/><stop offset="0.7690" stop-color="#222222"/><stop offset="0.7751" stop-color="#222222"/><stop offset="0.7751" stop-color="#222222"/><stop offset="0.7812" stop-color="#222222"/><stop offset="0.7812" stop-color="#222222"/><stop offset="0.7874" stop-color="#222222"/><stop offset="0.7874" stop-color="#222222"/><stop offset="0.7935" stop-color="#222222"/><stop offset="0.7935" stop-color="#222222"/><stop offset="0.7949" stop-color="#222222"/><stop offset="0.7949" stop-color="#222222"/><stop offset="0.7951" stop-color="#222222"/><stop offset="0.7951" stop-color="#222222"/><stop offset="0.7976" stop-color="#222222"/><stop offset="0.7976" stop-color="#262626"/><stop offset="0.8037" stop-color="#252525"/><stop offset="0.8037" stop-color="#252525"/><stop offset="0.8099" stop-color="#252525"/><stop offset="0.8099" stop-color="#252525"/><stop offset="0.8160" stop-color="#242424"/><stop offset="0.8160" stop-color="#242424"/><stop offset="0.8221" stop-color="#232323"/><stop offset="0.8221" stop-color="#232323"/><stop offset="0.8283" stop-color="#232323"/><stop offset="0.8283" stop-color="#232323"/><stop offset="0.8323" stop-color="#222222"/><stop offset="0.8323" stop-color="#222222"/><stop offset="0.8344" stop-color="#222222"/><stop offset="0.8344" stop-color="#222222"/><stop offset="0.8405" stop-color="#212121"/><stop offset="0.8405" stop-color="#212121"/><stop offset="0.8426" stop-color="#212121"/><stop offset="0.8426" stop-color="#212121"/><stop offset="0.8467" stop-color="#212121"/><stop offset="0.8467" stop-color="#212121"/><stop offset="0.8487" stop-color="#202020"/><stop offset="0.8487" stop-color="#282828"/><stop offset="0.8548" stop-color="#272727"/><stop offset="0.8548" stop-color="#272727"/><stop offset="0.8610" stop-color="#272727"/><stop offset="0.8610" stop-color="#272727"/><stop offset="0.8630" stop-color="#272727"/><stop offset="0.8630" stop-color="#272727"/><stop offset="0.8671" stop-color="#262626"/><stop offset="0.8671" stop-color="#262626"/><stop offset="0.8732" stop-color="#252525"/><stop offset="0.8732" stop-color="#252525"/><stop offset="0.8794" stop-color="#242424"/><stop offset="0.8794" stop-color="#242424"/><stop offset="0.8855" stop-color="#232323"/><stop offset="0.8855" stop-color="#232323"/><stop offset="0.8916" stop-color="#222222"/><stop offset="0.8916" stop-color="#222222"/><stop offset="0.8957" stop-color="#212121"/><stop offset="0.8957" stop-color="#212121"/><stop offset="0.8978" stop-color="#212121"/><stop offset="0.8978" stop-color="#212121"/><stop offset="0.9039" stop-color="#1f1f1f"/><stop offset="0.9039" stop-color="#1f1f1f"/><stop offset="0.9100" stop-color="#1e1e1e"/><stop offset="0.9100" stop-color="#222222"/><stop offset="0.9162" stop-color="#222222"/><stop offset="0.9162" stop-color="#222222"/><stop offset="0.9203" stop-color="#222222"/><stop offset="0.9203" stop-color="#222222"/><stop offset="0.9223" stop-color="#212121"/><stop offset="0.9223" stop-color="#212121"/><stop offset="0.9284" stop-color="#212121"/><stop offset="0.9284" stop-color="#212121"/><stop offset="0.9346" stop-color="#232323"/><stop offset="0.9346" stop-color="#232323"/><stop offset="0.9407" stop-color="#242424"/><stop offset="0.9407" stop-color="#242424"/><stop offset="0.9468" stop-color="#242424"/><stop offset="0.9468" stop-color="#242424"/><stop offset="0.9530" stop-color="#242424"/><stop offset="0.9530" stop-color="#242424"/><stop offset="0.9571" stop-color="#252525"/><stop offset="0.9571" stop-color="#252525"/><stop offset="0.9591" stop-color="#252525"/><stop offset="0.9591" stop-color="#252525"/><stop offset="0.9612" stop-color="#252525"/><stop offset="0.9612" stop-color="#252525"/><stop offset="0.9614" stop-color="#252525"/><stop offset="0.9614" stop-color="#252525"/><stop offset="0.9652" stop-color="#262626"/><stop offset="0.9652" stop-color="#262626"/><stop offset="0.9661" stop-color="#262626"/><stop offset="0.9661" stop-color="#262626"/><stop offset="0.9663" stop-color="#262626"/><stop offset="0.9663" stop-color="#262626"/><stop offset="0.9693" stop-color="#272727"/><stop offset="0.9693" stop-color="#272727"/><stop offset="0.9714" stop-color="#2b2b2b"/><stop offset="0.9714" stop-color="#2b2b2b"/><stop offset="0.9775" stop-color="#323232"/><stop offset="0.9775" stop-color="#323232"/><stop offset="0.9824" stop-color="#303030"/><stop offset="0.9824" stop-color="#303030"/><stop offset="0.9826" stop-color="#303030"/><stop offset="0.9826" stop-color="#303030"/><stop offset="0.9836" stop-color="#303030"/><stop offset="0.9836" stop-color="#303030"/><stop offset="0.9857" stop-color="#313131"/><stop offset="0.9857" stop-color="#000000"/><stop offset="0.9898" stop-color="#000000"/><stop offset="0.9898" stop-color="#000000"/><stop offset="0.9900" stop-color="#000000"/><stop offset="0.9900" stop-color="#000000"/><stop offset="0.9918" stop-color="#000000"/><stop offset="0.9918" stop-color="#000000"/><stop offset="0.9937" stop-color="#000000"/><stop offset="0.9937" stop-color="#000000"/><stop offset="0.9939" stop-color="#000000"/><stop offset="0.9939" stop-color="#373737"/><stop offset="1.0000" stop-color="#373737"/></linearGradient>
<linearGradient id="d38" gradientUnits="userSpaceOnUse" x1="0" x2="0" y1="629.9" y2="1119"><stop offset="0.0000" stop-color="#333333"/><stop offset="0.0002" stop-color="#333333"/><stop offset="0.0002" stop-color="#3d3d3d"/><stop offset="0.0750" stop-color="#3d3d3d"/><stop offset="0.0750" stop-color="#3b3b3b"/><stop offset="0.1024" stop-color="#3a3a3a"/><stop offset="0.1024" stop-color="#3a3a3a"/><stop offset="0.1270" stop-color="#3d3d3d"/><stop offset="0.1270" stop-color="#3d3d3d"/><stop offset="0.1433" stop-color="#3f3f3f"/><stop offset="0.1433" stop-color="#3f3f3f"/><stop offset="0.2967" stop-color="#3f3f3f"/><stop offset="0.2967" stop-color="#3f3f3f"/><stop offset="0.3273" stop-color="#3a3a3a"/><stop offset="0.3273" stop-color="#3a3a3a"/><stop offset="0.3478" stop-color="#393939"/><stop offset="0.3478" stop-color="#393939"/><stop offset="0.3785" stop-color="#3c3c3c"/><stop offset="0.3785" stop-color="#3c3c3c"/><stop offset="0.4398" stop-color="#3f3f3f"/><stop offset="0.4398" stop-color="#3f3f3f"/><stop offset="0.4459" stop-color="#3f3f3f"/><stop offset="0.4459" stop-color="#3f3f3f"/><stop offset="0.4461" stop-color="#424242"/><stop offset="0.4461" stop-color="#434343"/><stop offset="0.4705" stop-color="#434343"/><stop offset="0.4705" stop-color="#434343"/><stop offset="0.4725" stop-color="#434343"/><stop offset="0.4725" stop-color="#424242"/><stop offset="0.4727" stop-color="#3c3c3c"/><stop offset="0.4727" stop-color="#3c3c3c"/><stop offset="0.5175" stop-color="#383838"/><stop offset="0.5175" stop-color="#383838"/><stop offset="0.5216" stop-color="#3b3b3b"/><stop offset="0.5216" stop-color="#3b3b3b"/><stop offset="0.5481" stop-color="#383838"/><stop offset="0.5481" stop-color="#383838"/><stop offset="0.5625" stop-color="#373737"/><stop offset="0.5625" stop-color="#373737"/><stop offset="0.5829" stop-color="#373737"/><stop offset="0.5829" stop-color="#373737"/><stop offset="0.6136" stop-color="#383838"/><stop offset="0.6136" stop-color="#383838"/><stop offset="0.6442" stop-color="#3e3e3e"/><stop offset="0.6442" stop-color="#3e3e3e"/><stop offset="0.6749" stop-color="#3d3d3d"/><stop offset="0.6749" stop-color="#3d3d3d"/><stop offset="0.6954" stop-color="#3a3a3a"/><stop offset="0.6954" stop-color="#3a3a3a"/><stop offset="0.7363" stop-color="#3e3e3e"/><stop offset="0.7363" stop-color="#3e3e3e"/><stop offset="0.7567" stop-color="#3e3e3e"/><stop offset="0.7567" stop-color="#3e3e3e"/><stop offset="0.7949" stop-color="#3e3e3e"/><stop offset="0.7949" stop-color="#3f3f3f"/><stop offset="0.7951" stop-color="#464646"/><stop offset="0.7951" stop-color="#474747"/><stop offset="0.8323" stop-color="#414141"/><stop offset="0.8323" stop-color="#414141"/><stop offset="0.8385" stop-color="#424242"/><stop offset="0.8385" stop-color="#424242"/><stop offset="0.8426" stop-color="#434343"/><stop offset="0.8426" stop-color="#434343"/><stop offset="0.8630" stop-color="#3f3f3f"/><stop offset="0.8630" stop-color="#3f3f3f"/><stop offset="0.8835" stop-color="#414141"/><stop offset="0.8835" stop-color="#414141"/><stop offset="0.8957" stop-color="#424242"/><stop offset="0.8957" stop-color="#424242"/><stop offset="0.9162" stop-color="#424242"/><stop offset="0.9162" stop-color="#424242"/><stop offset="0.9203" stop-color="#424242"/><stop offset="0.9203" stop-color="#424242"/><stop offset="0.9346" stop-color="#404040"/><stop offset="0.9346" stop-color="#404040"/><stop offset="0.9407" stop-color="#3e3e3e"/><stop offset="0.9407" stop-color="#3e3e3e"/><stop offset="0.9495" stop-color="#404040"/><stop offset="0.9495" stop-color="#353535"/><stop offset="0.9548" stop-color="#363636"/><stop offset="0.9548" stop-color="#414141"/><stop offset="0.9571" stop-color="#424242"/><stop offset="0.9571" stop-color="#424242"/><stop offset="0.9612" stop-color="#424242"/><stop offset="0.9612" stop-color="#414141"/><stop offset="0.9614" stop-color="#3a3a3a"/><stop offset="0.9614" stop-color="#2d2d2d"/><stop offset="0.9661" stop-color="#2d2d2d"/><stop offset="0.9661" stop-color="#3a3a3a"/><stop offset="0.9663" stop-color="#424242"/><stop offset="0.9663" stop-color="#434343"/><stop offset="0.9693" stop-color="#434343"/><stop offset="0.9693" stop-color="#434343"/><stop offset="0.9775" stop-color="#3f3f3f"/><stop offset="0.9775" stop-color="#3f3f3f"/><stop offset="0.9824" stop-color="#3f3f3f"/><stop offset="0.9824" stop-color="#404040"/><stop offset="0.9826" stop-color="#434343"/><stop offset="0.9826" stop-color="#444444"/><stop offset="0.9877" stop-color="#444444"/><stop offset="0.9877" stop-color="#3a3a3a"/><stop offset="0.9898" stop-color="#3a3a3a"/><stop offset="0.9898" stop-color="#393939"/><stop offset="0.9900" stop-color="#2e2e2e"/><stop offset="0.9900" stop-color="#2c2c2c"/><stop offset="0.9937" stop-color="#2c2c2c"/><stop offset="0.9937" stop-color="#2d2d2d"/><stop offset="0.9939" stop-color="#363636"/><stop offset="0.9939" stop-color="#373737"/><stop offset="1.0000" stop-color="#373737"/></linearGradient>
<linearGradient id="d39" gradientUnits="userSpaceOnUse" x1="0" x2="0" y1="629.9" y2="1119"><stop offset="0.0000" stop-color="#333333"/><stop offset="0.0002" stop-color="#333333"/><stop offset="0.0002" stop-color="#333333"/><stop offset="0.0750" stop-color="#333333"/><stop offset="0.0750" stop-color="#323232"/><stop offset="0.1024" stop-color="#313131"/><stop offset="0.1024" stop-color="#313131"/><stop offset="0.1270" stop-color="#343434"/><stop offset="0.1270" stop-color="#343434"/><stop offset="0.1433" stop-color="#363636"/><stop offset="0.1433" stop-color="#343434"/><stop offset="0.2967" stop-color="#343434"/><stop offset="0.2967" stop-color="#343434"/><stop offset="0.3273" stop-color="#2f2f2f"/><stop offset="0.3273" stop-color="#2f2f2f"/><stop offset="0.3478" stop-color="#2f2f2f"/><stop offset="0.3478" stop-color="#2f2f2f"/><stop offset="0.3785" stop-color="#313131"/><stop offset="0.3785" stop-color="#313131"/><stop offset="0.4398" stop-color="#343434"/><stop offset="0.4398" stop-color="#343434"/><stop offset="0.4459" stop-color="#343434"/><stop offset="0.4459" stop-color="#353535"/><stop offset="0.4461" stop-color="#383838"/><stop offset="0.4461" stop-color="#383838"/><stop offset="0.4705" stop-color="#383838"/><stop offset="0.4705" stop-color="#383838"/><stop offset="0.4725" stop-color="#383838"/><stop offset="0.4725" stop-color="#373737"/><stop offset="0.4727" stop-color="#323232"/><stop offset="0.4727" stop-color="#313131"/><stop offset="0.5175" stop-color="#333333"/><stop offset="0.5175" stop-color="#333333"/><stop offset="0.5216" stop-color="#363636"/><stop offset="0.5216" stop-color="#363636"/><stop offset="0.5481" stop-color="#363636"/><stop offset="0.5481" stop-color="#363636"/><stop offset="0.5625" stop-color="#373737"/><stop offset="0.5625" stop-color="#373737"/><stop offset="0.6136" stop-color="#363636"/><stop offset="0.6136" stop-color="#363636"/><stop offset="0.6442" stop-color="#3a3a3a"/><stop offset="0.6442" stop-color="#3a3a3a"/><stop offset="0.6647" stop-color="#383838"/><stop offset="0.6647" stop-color="#383838"/><stop offset="0.6749" stop-color="#383838"/><stop offset="0.6749" stop-color="#383838"/><stop offset="0.6954" stop-color="#363636"/><stop offset="0.6954" stop-color="#363636"/><stop offset="0.7363" stop-color="#3a3a3a"/><stop offset="0.7363" stop-color="#3a3a3a"/><stop offset="0.7567" stop-color="#3a3a3a"/><stop offset="0.7567" stop-color="#3a3a3a"/><stop offset="0.7949" stop-color="#3a3a3a"/><stop offset="0.7949" stop-color="#373737"/><stop offset="0.7951" stop-color="#3e3e3e"/><stop offset="0.7951" stop-color="#3f3f3f"/><stop offset="0.8323" stop-color="#3b3b3b"/><stop offset="0.8323" stop-color="#3b3b3b"/><stop offset="0.8385" stop-color="#3c3c3c"/><stop offset="0.8385" stop-color="#3c3c3c"/><stop offset="0.8426" stop-color="#3d3d3d"/><stop offset="0.8426" stop-color="#3d3d3d"/><stop offset="0.8630" stop-color="#373737"/><stop offset="0.8630" stop-color="#373737"/><stop offset="0.8835" stop-color="#373737"/><stop offset="0.8835" stop-color="#373737"/><stop offset="0.8957" stop-color="#383838"/><stop offset="0.8957" stop-color="#383838"/><stop offset="0.9162" stop-color="#383838"/><stop offset="0.9162" stop-color="#383838"/><stop offset="0.9203" stop-color="#393939"/><stop offset="0.9203" stop-color="#393939"/><stop offset="0.9346" stop-color="#383838"/><stop offset="0.9346" stop-color="#383838"/><stop offset="0.9407" stop-color="#373737"/><stop offset="0.9407" stop-color="#373737"/><stop offset="0.9571" stop-color="#3a3a3a"/><stop offset="0.9571" stop-color="#3a3a3a"/><stop offset="0.9612" stop-color="#3a3a3a"/><stop offset="0.9612" stop-color="#3a3a3a"/><stop offset="0.9614" stop-color="#323232"/><stop offset="0.9614" stop-color="#313131"/><stop offset="0.9661" stop-color="#313131"/><stop offset="0.9661" stop-color="#323232"/><stop offset="0.9663" stop-color="#3a3a3a"/><stop offset="0.9663" stop-color="#3b3b3b"/><stop offset="0.9693" stop-color="#3c3c3c"/><stop offset="0.9693" stop-color="#3c3c3c"/><stop offset="0.9775" stop-color="#373737"/><stop offset="0.9775" stop-color="#373737"/><stop offset="0.9824" stop-color="#373737"/><stop offset="0.9824" stop-color="#383838"/><stop offset="0.9826" stop-color="#3c3c3c"/><stop offset="0.9826" stop-color="#3c3c3c"/><stop offset="0.9877" stop-color="#3c3c3c"/><stop offset="0.9877" stop-color="#3a3a3a"/><stop offset="0.9898" stop-color="#3a3a3a"/><stop offset="0.9898" stop-color="#393939"/><stop offset="0.9900" stop-color="#2e2e2e"/><stop offset="0.9900" stop-color="#2c2c2c"/><stop offset="0.9937" stop-color="#2c2c2c"/><stop offset="0.9937" stop-color="#2d2d2d"/><stop offset="0.9939" stop-color="#363636"/><stop offset="0.9939" stop-color="#373737"/><stop offset="1.0000" stop-color="#373737"/></linearGradient>
<linearGradient id="d40" gradientUnits="userSpaceOnUse" x1="0" x2="0" y1="629.9" y2="1119"><stop offset="0.0000" stop-color="#333333"/><stop offset="0.0002" stop-color="#333333"/><stop offset="0.0002" stop-color="#393939"/><stop offset="0.0750" stop-color="#393939"/><stop offset="0.0750" stop-color="#343434"/><stop offset="0.1024" stop-color="#333333"/><stop offset="0.1024" stop-color="#333333"/><stop offset="0.1270" stop-color="#363636"/><stop offset="0.1270" stop-color="#363636"/><stop offset="0.1433" stop-color="#383838"/><stop offset="0.1433" stop-color="#383838"/><stop offset="0.2967" stop-color="#383838"/><stop offset="0.2967" stop-color="#383838"/><stop offset="0.3273" stop-color="#333333"/><stop offset="0.3273" stop-color="#333333"/><stop offset="0.3478" stop-color="#323232"/><stop offset="0.3478" stop-color="#323232"/><stop offset="0.3785" stop-color="#353535"/><stop offset="0.3785" stop-color="#353535"/><stop offset="0.4398" stop-color="#383838"/><stop offset="0.4398" stop-color="#383838"/><stop offset="0.4459" stop-color="#383838"/><stop offset="0.4459" stop-color="#383838"/><stop offset="0.4461" stop-color="#3b3b3b"/><stop offset="0.4461" stop-color="#3c3c3c"/><stop offset="0.4705" stop-color="#3c3c3c"/><stop offset="0.4705" stop-color="#3c3c3c"/><stop offset="0.4725" stop-color="#3c3c3c"/><stop offset="0.4725" stop-color="#3b3b3b"/><stop offset="0.4727" stop-color="#363636"/><stop offset="0.4727" stop-color="#353535"/><stop offset="0.5175" stop-color="#353535"/><stop offset="0.5175" stop-color="#353535"/><stop offset="0.5216" stop-color="#383838"/><stop offset="0.5216" stop-color="#383838"/><stop offset="0.5481" stop-color="#373737"/><stop offset="0.5481" stop-color="#373737"/><stop offset="0.5625" stop-color="#373737"/><stop offset="0.5625" stop-color="#373737"/><stop offset="0.6136" stop-color="#363636"/><stop offset="0.6136" stop-color="#363636"/><stop offset="0.6442" stop-color="#3a3a3a"/><stop offset="0.6442" stop-color="#3a3a3a"/><stop offset="0.6647" stop-color="#383838"/><stop offset="0.6647" stop-color="#383838"/><stop offset="0.6749" stop-color="#373737"/><stop offset="0.6749" stop-color="#373737"/><stop offset="0.6954" stop-color="#343434"/><stop offset="0.6954" stop-color="#343434"/><stop offset="0.7363" stop-color="#373737"/><stop offset="0.7363" stop-color="#373737"/><stop offset="0.7567" stop-color="#373737"/><stop offset="0.7567" stop-color="#373737"/><stop offset="0.7949" stop-color="#373737"/><stop offset="0.7949" stop-color="#383838"/><stop offset="0.7951" stop-color="#3f3f3f"/><stop offset="0.7951" stop-color="#404040"/><stop offset="0.8323" stop-color="#3c3c3c"/><stop offset="0.8323" stop-color="#3c3c3c"/><stop offset="0.8385" stop-color="#3d3d3d"/><stop offset="0.8385" stop-color="#3d3d3d"/><stop offset="0.8426" stop-color="#3e3e3e"/><stop offset="0.8426" stop-color="#3e3e3e"/><stop offset="0.8630" stop-color="#383838"/><stop offset="0.8630" stop-color="#383838"/><stop offset="0.8835" stop-color="#373737"/><stop offset="0.8835" stop-color="#373737"/><stop offset="0.8957" stop-color="#383838"/><stop offset="0.8957" stop-color="#383838"/><stop offset="0.9162" stop-color="#383838"/><stop offset="0.9162" stop-color="#383838"/><stop offset="0.9203" stop-color="#383838"/><stop offset="0.9203" stop-color="#383838"/><stop offset="0.9346" stop-color="#333333"/><stop offset="0.9346" stop-color="#333333"/><stop offset="0.9407" stop-color="#313131"/><stop offset="0.9407" stop-color="#313131"/><stop offset="0.9571" stop-color="#353535"/><stop offset="0.9571" stop-color="#353535"/><stop offset="0.9612" stop-color="#353535"/><stop offset="0.9612" stop-color="#343434"/><stop offset="0.9614" stop-color="#2d2d2d"/><stop offset="0.9614" stop-color="#2c2c2c"/><stop offset="0.9661" stop-color="#2c2c2c"/><stop offset="0.9661" stop-color="#2d2d2d"/><stop offset="0.9663" stop-color="#353535"/><stop offset="0.9663" stop-color="#363636"/><stop offset="0.9693" stop-color="#373737"/><stop offset="0.9693" stop-color="#373737"/><stop offset="0.9775" stop-color="#323232"/><stop offset="0.9775" stop-color="#323232"/><stop offset="0.9824" stop-color="#323232"/><stop offset="0.9824" stop-color="#333333"/><stop offset="0.9826" stop-color="#363636"/><stop offset="0.9826" stop-color="#373737"/><stop offset="0.9877" stop-color="#373737"/><stop offset="0.9877" stop-color="#3a3a3a"/><stop offset="0.9898" stop-color="#3a3a3a"/><stop offset="0.9898" stop-color="#393939"/><stop offset="0.9900" stop-color="#2e2e2e"/><stop offset="0.9900" stop-color="#2c2c2c"/><stop offset="0.9937" stop-color="#2c2c2c"/><stop offset="0.9937" stop-color="#2d2d2d"/><stop offset="0.9939" stop-color="#363636"/><stop offset="0.9939" stop-color="#373737"/><stop offset="1.0000" stop-color="#373737"/></linearGradient>
<linearGradient id="d41" gradientUnits="userSpaceOnUse" x1="0" x2="0" y1="629.9" y2="1119"><stop offset="0.0000" stop-color="#333333"/><stop offset="0.0002" stop-color="#333333"/><stop offset="0.0002" stop-color="#393939"/><stop offset="0.0750" stop-color="#393939"/><stop offset="0.0750" stop-color="#323232"/><stop offset="0.1024" stop-color="#313131"/><stop offset="0.1024" stop-color="#313131"/><stop offset="0.1270" stop-color="#343434"/><stop offset="0.1270" stop-color="#343434"/><stop offset="0.1433" stop-color="#363636"/><stop offset="0.1433" stop-color="#353535"/><stop offset="0.2967" stop-color="#353535"/><stop offset="0.2967" stop-color="#353535"/><stop offset="0.3273" stop-color="#303030"/><stop offset="0.3273" stop-color="#303030"/><stop offset="0.3478" stop-color="#2f2f2f"/><stop offset="0.3478" stop-color="#2f2f2f"/><stop offset="0.3785" stop-color="#313131"/><stop offset="0.3785" stop-color="#313131"/><stop offset="0.4398" stop-color="#353535"/><stop offset="0.4398" stop-color="#353535"/><stop offset="0.4459" stop-color="#353535"/><stop offset="0.4459" stop-color="#353535"/><stop offset="0.4461" stop-color="#383838"/><stop offset="0.4461" stop-color="#383838"/><stop offset="0.4705" stop-color="#383838"/><stop offset="0.4705" stop-color="#383838"/><stop offset="0.4725" stop-color="#393939"/><stop offset="0.4725" stop-color="#383838"/><stop offset="0.4727" stop-color="#333333"/><stop offset="0.4727" stop-color="#323232"/><stop offset="0.5175" stop-color="#333333"/><stop offset="0.5175" stop-color="#333333"/><stop offset="0.5216" stop-color="#373737"/><stop offset="0.5216" stop-color="#373737"/><stop offset="0.5481" stop-color="#373737"/><stop offset="0.5481" stop-color="#373737"/><stop offset="0.5625" stop-color="#373737"/><stop offset="0.5625" stop-color="#373737"/><stop offset="0.6136" stop-color="#363636"/><stop offset="0.6136" stop-color="#363636"/><stop offset="0.6442" stop-color="#3a3a3a"/><stop offset="0.6442" stop-color="#3a3a3a"/><stop offset="0.6647" stop-color="#383838"/><stop offset="0.6647" stop-color="#383838"/><stop offset="0.6749" stop-color="#373737"/><stop offset="0.6749" stop-color="#373737"/><stop offset="0.6954" stop-color="#343434"/><stop offset="0.6954" stop-color="#343434"/><stop offset="0.7363" stop-color="#373737"/><stop offset="0.7363" stop-color="#373737"/><stop offset="0.7567" stop-color="#373737"/><stop offset="0.7567" stop-color="#373737"/><stop offset="0.7949" stop-color="#373737"/><stop offset="0.7949" stop-color="#383838"/><stop offset="0.7951" stop-color="#3f3f3f"/><stop offset="0.7951" stop-color="#404040"/><stop offset="0.8323" stop-color="#3c3c3c"/><stop offset="0.8323" stop-color="#3c3c3c"/><stop offset="0.8385" stop-color="#3d3d3d"/><stop offset="0.8385" stop-color="#3d3d3d"/><stop offset="0.8426" stop-color="#3e3e3e"/><stop offset="0.8426" stop-color="#3e3e3e"/><stop offset="0.8630" stop-color="#383838"/><stop offset="0.8630" stop-color="#383838"/><stop offset="0.8835" stop-color="#373737"/><stop offset="0.8835" stop-color="#373737"/><stop offset="0.8957" stop-color="#383838"/><stop offset="0.8957" stop-color="#383838"/><stop offset="0.9162" stop-color="#383838"/><stop offset="0.9162" stop-color="#383838"/><stop offset="0.9203" stop-color="#383838"/><stop offset="0.9203" stop-color="#383838"/><stop offset="0.9346" stop-color="#333333"/><stop offset="0.9346" stop-color="#333333"/><stop offset="0.9407" stop-color="#313131"/><stop offset="0.9407" stop-color="#313131"/><stop offset="0.9571" stop-color="#353535"/><stop offset="0.9571" stop-color="#353535"/><stop offset="0.9612" stop-color="#353535"/><stop offset="0.9612" stop-color="#343434"/><stop offset="0.9614" stop-color="#2d2d2d"/><stop offset="0.9614" stop-color="#2c2c2c"/><stop offset="0.9661" stop-color="#2c2c2c"/><stop offset="0.9661" stop-color="#2d2d2d"/><stop offset="0.9663" stop-color="#353535"/><stop offset="0.9663" stop-color="#363636"/><stop offset="0.9693" stop-color="#373737"/><stop offset="0.9693" stop-color="#373737"/><stop offset="0.9775" stop-color="#323232"/><stop offset="0.9775" stop-color="#323232"/><stop offset="0.9824" stop-color="#323232"/><stop offset="0.9824" stop-color="#333333"/><stop offset="0.9826" stop-color="#363636"/><stop offset="0.9826" stop-color="#373737"/><stop offset="0.9877" stop-color="#373737"/><stop offset="0.9877" stop-color="#3a3a3a"/><stop offset="0.9898" stop-color="#3a3a3a"/><stop offset="0.9898" stop-color="#393939"/><stop offset="0.9900" stop-color="#2e2e2e"/><stop offset="0.9900" stop-color="#2c2c2c"/><stop offset="0.9937" stop-color="#2c2c2c"/><stop offset="0.9937" stop-color="#2d2d2d"/><stop offset="0.9939" stop-color="#363636"/><stop offset="0.9939" stop-color="#373737"/><stop offset="1.0000" stop-color="#373737"/></linearGradient>
<linearGradient id="d42" gradientUnits="userSpaceOnUse" x1="0" x2="0" y1="629.9" y2="1119"><stop offset="0.0000" stop-color="#333333"/><stop offset="0.0002" stop-color="#333333"/><stop offset="0.0002" stop-color="#393939"/><stop offset="0.0750" stop-color="#393939"/><stop offset="0.0750" stop-color="#333333"/><stop offset="0.1024" stop-color="#313131"/><stop offset="0.1024" stop-color="#313131"/><stop offset="0.1270" stop-color="#353535"/><stop offset="0.1270" stop-color="#353535"/><stop offset="0.1433" stop-color="#363636"/><stop offset="0.1433" stop-color="#353535"/><stop offset="0.1842" stop-color="#353535"/><stop offset="0.1842" stop-color="#393939"/><stop offset="0.2496" stop-color="#393939"/><stop offset="0.2496" stop-color="#353535"/><stop offset="0.2967" stop-color="#353535"/><stop offset="0.2967" stop-color="#353535"/><stop offset="0.3273" stop-color="#303030"/><stop offset="0.3273" stop-color="#303030"/><stop offset="0.3478" stop-color="#2f2f2f"/><stop offset="0.3478" stop-color="#2f2f2f"/><stop offset="0.3785" stop-color="#323232"/><stop offset="0.3785" stop-color="#323232"/><stop offset="0.4398" stop-color="#353535"/><stop offset="0.4398" stop-color="#353535"/><stop offset="0.4459" stop-color="#353535"/><stop offset="0.4459" stop-color="#353535"/><stop offset="0.4461" stop-color="#383838"/><stop offset="0.4461" stop-color="#393939"/><stop offset="0.4705" stop-color="#393939"/><stop offset="0.4705" stop-color="#393939"/><stop offset="0.4725" stop-color="#393939"/><stop offset="0.4725" stop-color="#383838"/><stop offset="0.4727" stop-color="#333333"/><stop offset="0.4727" stop-color="#323232"/><stop offset="0.5175" stop-color="#333333"/><stop offset="0.5175" stop-color="#333333"/><stop offset="0.5216" stop-color="#373737"/><stop offset="0.5216" stop-color="#373737"/><stop offset="0.5481" stop-color="#373737"/><stop offset="0.5481" stop-color="#373737"/><stop offset="0.5625" stop-color="#373737"/><stop offset="0.5625" stop-color="#373737"/><stop offset="0.6136" stop-color="#363636"/><stop offset="0.6136" stop-color="#363636"/><stop offset="0.6442" stop-color="#3a3a3a"/><stop offset="0.6442" stop-color="#3a3a3a"/><stop offset="0.6647" stop-color="#383838"/><stop offset="0.6647" stop-color="#383838"/><stop offset="0.6749" stop-color="#373737"/><stop offset="0.6749" stop-color="#373737"/><stop offset="0.6954" stop-color="#343434"/><stop offset="0.6954" stop-color="#343434"/><stop offset="0.7363" stop-color="#373737"/><stop offset="0.7363" stop-color="#373737"/><stop offset="0.7567" stop-color="#373737"/><stop offset="0.7567" stop-color="#373737"/><stop offset="0.7949" stop-color="#373737"/><stop offset="0.7949" stop-color="#383838"/><stop offset="0.7951" stop-color="#3f3f3f"/><stop offset="0.7951" stop-color="#404040"/><stop offset="0.8323" stop-color="#3c3c3c"/><stop offset="0.8323" stop-color="#3c3c3c"/><stop offset="0.8385" stop-color="#3d3d3d"/><stop offset="0.8385" stop-color="#3d3d3d"/><stop offset="0.8426" stop-color="#3e3e3e"/><stop offset="0.8426" stop-color="#3e3e3e"/><stop offset="0.8630" stop-color="#383838"/><stop offset="0.8630" stop-color="#383838"/><stop offset="0.8835" stop-color="#373737"/><stop offset="0.8835" stop-color="#373737"/><stop offset="0.8957" stop-color="#383838"/><stop offset="0.8957" stop-color="#383838"/><stop offset="0.9162" stop-color="#383838"/><stop offset="0.9162" stop-color="#383838"/><stop offset="0.9203" stop-color="#383838"/><stop offset="0.9203" stop-color="#383838"/><stop offset="0.9346" stop-color="#333333"/><stop offset="0.9346" stop-color="#333333"/><stop offset="0.9407" stop-color="#313131"/><stop offset="0.9407" stop-color="#313131"/><stop offset="0.9571" stop-color="#353535"/><stop offset="0.9571" stop-color="#353535"/><stop offset="0.9612" stop-color="#353535"/><stop offset="0.9612" stop-color="#343434"/><stop offset="0.9614" stop-color="#2d2d2d"/><stop offset="0.9614" stop-color="#2c2c2c"/><stop offset="0.9661" stop-color="#2c2c2c"/><stop offset="0.9661" stop-color="#2d2d2d"/><stop offset="0.9663" stop-color="#353535"/><stop offset="0.9663" stop-color="#363636"/><stop offset="0.9693" stop-color="#373737"/><stop offset="0.9693" stop-color="#373737"/><stop offset="0.9775" stop-color="#323232"/><stop offset="0.9775" stop-color="#323232"/><stop offset="0.9824" stop-color="#323232"/><stop offset="0.9824" stop-color="#333333"/><stop offset="0.9826" stop-color="#363636"/><stop offset="0.9826" stop-color="#373737"/><stop offset="0.9877" stop-color="#373737"/><stop offset="0.9877" stop-color="#3a3a3a"/><stop offset="0.9898" stop-color="#3a3a3a"/><stop offset="0.9898" stop-color="#393939"/><stop offset="0.9900" stop-color="#2e2e2e"/><stop offset="0.9900" stop-color="#2c2c2c"/><stop offset="0.9937" stop-color="#2c2c2c"/><stop offset="0.9937" stop-color="#2d2d2d"/><stop offset="0.9939" stop-color="#363636"/><stop offset="0.9939" stop-color="#373737"/><stop offset="1.0000" stop-color="#373737"/></linearGradient>
<linearGradient id="d43" gradientUnits="userSpaceOnUse" x1="0" x2="0" y1="629.9" y2="1119"><stop offset="0.0000" stop-color="#333333"/><stop offset="0.0002" stop-color="#333333"/><stop offset="0.0002" stop-color="#363636"/><stop offset="0.0268" stop-color="#363636"/><stop offset="0.0268" stop-color="#393939"/><stop offset="0.0750" stop-color="#393939"/><stop offset="0.0750" stop-color="#333333"/><stop offset="0.0922" stop-color="#323232"/><stop offset="0.0922" stop-color="#353535"/><stop offset="0.1024" stop-color="#353535"/><stop offset="0.1024" stop-color="#353535"/><stop offset="0.1270" stop-color="#383838"/><stop offset="0.1270" stop-color="#383838"/><stop offset="0.1433" stop-color="#393939"/><stop offset="0.1433" stop-color="#383838"/><stop offset="0.2456" stop-color="#383838"/><stop offset="0.2456" stop-color="#353535"/><stop offset="0.2967" stop-color="#353535"/><stop offset="0.2967" stop-color="#353535"/><stop offset="0.3273" stop-color="#303030"/><stop offset="0.3273" stop-color="#303030"/><stop offset="0.3478" stop-color="#2f2f2f"/><stop offset="0.3478" stop-color="#2f2f2f"/><stop offset="0.3785" stop-color="#323232"/><stop offset="0.3785" stop-color="#323232"/><stop offset="0.4398" stop-color="#353535"/><stop offset="0.4398" stop-color="#353535"/><stop offset="0.4459" stop-color="#353535"/><stop offset="0.4459" stop-color="#353535"/><stop offset="0.4461" stop-color="#383838"/><stop offset="0.4461" stop-color="#393939"/><stop offset="0.4705" stop-color="#393939"/><stop offset="0.4705" stop-color="#393939"/><stop offset="0.4725" stop-color="#393939"/><stop offset="0.4725" stop-color="#383838"/><stop offset="0.4727" stop-color="#333333"/><stop offset="0.4727" stop-color="#323232"/><stop offset="0.5175" stop-color="#333333"/><stop offset="0.5175" stop-color="#333333"/><stop offset="0.5216" stop-color="#373737"/><stop offset="0.5216" stop-color="#373737"/><stop offset="0.5481" stop-color="#373737"/><stop offset="0.5481" stop-color="#373737"/><stop offset="0.5625" stop-color="#373737"/><stop offset="0.5625" stop-color="#373737"/><stop offset="0.6136" stop-color="#363636"/><stop offset="0.6136" stop-color="#363636"/><stop offset="0.6442" stop-color="#3a3a3a"/><stop offset="0.6442" stop-color="#3a3a3a"/><stop offset="0.6647" stop-color="#383838"/><stop offset="0.6647" stop-color="#383838"/><stop offset="0.6749" stop-color="#373737"/><stop offset="0.6749" stop-color="#373737"/><stop offset="0.6954" stop-color="#343434"/><stop offset="0.6954" stop-color="#343434"/><stop offset="0.7363" stop-color="#373737"/><stop offset="0.7363" stop-color="#373737"/><stop offset="0.7567" stop-color="#373737"/><stop offset="0.7567" stop-color="#373737"/><stop offset="0.7949" stop-color="#373737"/><stop offset="0.7949" stop-color="#383838"/><stop offset="0.7951" stop-color="#3f3f3f"/><stop offset="0.7951" stop-color="#404040"/><stop offset="0.8323" stop-color="#3c3c3c"/><stop offset="0.8323" stop-color="#3c3c3c"/><stop offset="0.8385" stop-color="#3d3d3d"/><stop offset="0.8385" stop-color="#3d3d3d"/><stop offset="0.8426" stop-color="#3e3e3e"/><stop offset="0.8426" stop-color="#3e3e3e"/><stop offset="0.8630" stop-color="#383838"/><stop offset="0.8630" stop-color="#383838"/><stop offset="0.8835" stop-color="#373737"/><stop offset="0.8835" stop-color="#373737"/><stop offset="0.8957" stop-color="#383838"/><stop offset="0.8957" stop-color="#383838"/><stop offset="0.9162" stop-color="#383838"/><stop offset="0.9162" stop-color="#383838"/><stop offset="0.9203" stop-color="#383838"/><stop offset="0.9203" stop-color="#383838"/><stop offset="0.9346" stop-color="#333333"/><stop offset="0.9346" stop-color="#333333"/><stop offset="0.9407" stop-color="#313131"/><stop offset="0.9407" stop-color="#313131"/><stop offset="0.9571" stop-color="#353535"/><stop offset="0.9571" stop-color="#353535"/><stop offset="0.9612" stop-color="#353535"/><stop offset="0.9612" stop-color="#343434"/><stop offset="0.9614" stop-color="#2d2d2d"/><stop offset="0.9614" stop-color="#2c2c2c"/><stop offset="0.9661" stop-color="#2c2c2c"/><stop offset="0.9661" stop-color="#2d2d2d"/><stop offset="0.9663" stop-color="#353535"/><stop offset="0.9663" stop-color="#363636"/><stop offset="0.9693" stop-color="#373737"/><stop offset="0.9693" stop-color="#373737"/><stop offset="0.9775" stop-color="#323232"/><stop offset="0.9775" stop-color="#323232"/><stop offset="0.9824" stop-color="#323232"/><stop offset="0.9824" stop-color="#333333"/><stop offset="0.9826" stop-color="#363636"/><stop offset="0.9826" stop-color="#373737"/><stop offset="0.9877" stop-color="#373737"/><stop offset="0.9877" stop-color="#3a3a3a"/><stop offset="0.9898" stop-color="#3a3a3a"/><stop offset="0.9898" stop-color="#393939"/><stop offset="0.9900" stop-color="#2e2e2e"/><stop offset="0.9900" stop-color="#2c2c2c"/><stop offset="0.9937" stop-color="#2c2c2c"/><stop offset="0.9937" stop-color="#2d2d2d"/><stop offset="0.9939" stop-color="#363636"/><stop offset="0.9939" stop-color="#373737"/><stop offset="1.0000" stop-color="#373737"/></linearGradient>
</defs>
<clipPath id="bc"><rect x="145" y="629.9" width="1347.7" height="489.1"/></clipPath>
<g clip-path="url(#bc)"><g filter="url(#cm)" class="d">
<rect x="145" y="629.90" width="1347.7" height="3.42" fill="#d6d6d6"/>
<rect x="145" y="633.02" width="1347.7" height="1.86" fill="#d7d7d7"/>
<rect x="145" y="634.58" width="1347.7" height="1.86" fill="#d6d6d6"/>
<rect x="145" y="636.14" width="1347.7" height="1.86" fill="#d7d7d7"/>
<rect x="145" y="637.70" width="1347.7" height="8.10" fill="#d6d6d6"/>
<rect x="145" y="645.50" width="1347.7" height="1.68" fill="#d4d4d4"/>
<rect x="145" y="646.88" width="1347.7" height="3.59" fill="#d6d6d6"/>
<rect x="145" y="650.16" width="1347.7" height="1.94" fill="#d7d7d7"/>
<rect x="145" y="651.81" width="1347.7" height="3.59" fill="#d6d6d6"/>
<rect x="145" y="655.10" width="1347.7" height="5.23" fill="#d7d7d7"/>
<rect x="145" y="660.03" width="1347.7" height="1.94" fill="#d6d6d6"/>
<rect x="145" y="661.67" width="1347.7" height="1.94" fill="#d7d7d7"/>
<rect x="145" y="663.32" width="1347.7" height="1.94" fill="#d6d6d6"/>
<rect x="145" y="664.96" width="1347.7" height="1.94" fill="#d7d7d7"/>
<rect x="145" y="666.61" width="1347.7" height="1.68" fill="#cfcfcf"/>
<rect x="145" y="667.98" width="1347.7" height="1.68" fill="#cdcdcd"/>
<rect x="145" y="669.36" width="1347.7" height="2.14" fill="#d3d3d3"/>
<rect x="145" y="671.19" width="1347.7" height="2.14" fill="#d1d1d1"/>
<rect x="145" y="673.03" width="1347.7" height="2.14" fill="#c9c9c9"/>
<rect x="145" y="674.86" width="1347.7" height="2.14" fill="#d1d1d1"/>
<rect x="145" y="676.70" width="1347.7" height="1.22" fill="#d3d3d3"/>
<rect x="145" y="677.62" width="1347.7" height="3.33" fill="#d1d1d1"/>
<rect x="145" y="680.65" width="1347.7" height="1.95" fill="#d0d0d0"/>
<rect x="145" y="682.30" width="1347.7" height="5.26" fill="#cfcfcf"/>
<rect x="145" y="687.25" width="1347.7" height="1.95" fill="#d0d0d0"/>
<rect x="145" y="688.90" width="1347.7" height="2.69" fill="#cccccc"/>
<rect x="145" y="691.29" width="1347.7" height="6.17" fill="#d1d1d1"/>
<rect x="145" y="697.16" width="1347.7" height="2.14" fill="#d4d4d4"/>
<rect x="145" y="699.00" width="1347.7" height="4.43" fill="#d1d1d1"/>
<rect x="145" y="703.13" width="1347.7" height="4.43" fill="#cfcfcf"/>
<rect x="145" y="707.26" width="1347.7" height="1.68" fill="#d3d3d3"/>
<rect x="145" y="708.63" width="1347.7" height="1.68" fill="#d4d4d4"/>
<rect x="145" y="710.01" width="1347.7" height="1.89" fill="#d1d1d1"/>
<rect x="145" y="711.60" width="1347.7" height="4.86" fill="#d2d2d2"/>
<rect x="145" y="716.16" width="1347.7" height="1.68" fill="#d3d3d3"/>
<rect x="145" y="717.53" width="1347.7" height="1.68" fill="#d2d2d2"/>
<rect x="145" y="718.91" width="1347.7" height="2.14" fill="#d1d1d1"/>
<rect x="145" y="720.75" width="1347.7" height="2.14" fill="#d2d2d2"/>
<rect x="145" y="722.58" width="1347.7" height="2.14" fill="#d1d1d1"/>
<rect x="145" y="724.42" width="1347.7" height="2.41" fill="#cfcfcf"/>
<rect x="145" y="726.53" width="1347.7" height="3.70" fill="#d0d0d0"/>
<rect x="145" y="729.92" width="1347.7" height="2.41" fill="#cccccc"/>
<rect x="145" y="732.03" width="1347.7" height="2.32" fill="#cfcfcf"/>
<rect x="145" y="734.05" width="1347.7" height="1.92" fill="#d1d1d1"/>
<rect x="145" y="735.67" width="1347.7" height="1.92" fill="#d2d2d2"/>
<rect x="145" y="737.29" width="1347.7" height="1.92" fill="#d3d3d3"/>
<rect x="145" y="738.92" width="1347.7" height="3.05" fill="#d0d0d0"/>
<rect x="145" y="741.67" width="1347.7" height="1.68" fill="#d1d1d1"/>
<rect x="145" y="743.04" width="1347.7" height="1.68" fill="#d2d2d2"/>
<rect x="145" y="744.42" width="1347.7" height="2.32" fill="#cecece"/>
<rect x="145" y="746.44" width="1347.7" height="3.42" fill="#d0d0d0"/>
<rect x="145" y="749.56" width="1347.7" height="3.42" fill="#cfcfcf"/>
<rect x="145" y="752.68" width="1347.7" height="2.69" fill="#cdcdcd"/>
<rect x="145" y="755.07" width="1347.7" height="7.55" fill="#d0d0d0"/>
<rect x="145" y="762.31" width="1347.7" height="1.68" fill="#cdcdcd"/>
<rect x="145" y="763.69" width="1347.7" height="1.68" fill="#cfcfcf"/>
<rect x="145" y="765.07" width="1347.7" height="1.68" fill="#cecece"/>
<rect x="145" y="766.44" width="1347.7" height="3.51" fill="#d0d0d0"/>
<rect x="145" y="769.66" width="1347.7" height="1.91" fill="#d1d1d1"/>
<rect x="145" y="771.26" width="1347.7" height="1.91" fill="#cfcfcf"/>
<rect x="145" y="772.87" width="1347.7" height="3.51" fill="#d0d0d0"/>
<rect x="145" y="776.08" width="1347.7" height="3.70" fill="#d1d1d1"/>
<rect x="145" y="779.47" width="1347.7" height="3.97" fill="#d0d0d0"/>
<rect x="145" y="783.15" width="1347.7" height="7.03" fill="#cdcdcd"/>
<rect x="145" y="789.87" width="1347.7" height="1.83" fill="#cccccc"/>
<rect x="145" y="791.40" width="1347.7" height="2.14" fill="#cecece"/>
<rect x="145" y="793.24" width="1347.7" height="2.14" fill="#cccccc"/>
<rect x="145" y="795.07" width="1347.7" height="3.05" fill="#cecece"/>
<rect x="145" y="797.83" width="1347.7" height="3.97" fill="#cccccc"/>
<rect x="145" y="801.50" width="1347.7" height="2.14" fill="#cbcbcb"/>
<rect x="145" y="803.33" width="1347.7" height="3.97" fill="#cccccc"/>
<rect x="145" y="807.00" width="1347.7" height="2.14" fill="#cbcbcb"/>
<rect x="145" y="808.84" width="1347.7" height="2.14" fill="#cccccc"/>
<rect x="145" y="810.67" width="1347.7" height="3.97" fill="#cbcbcb"/>
<rect x="145" y="814.34" width="1347.7" height="2.14" fill="#cccccc"/>
<rect x="145" y="816.18" width="1347.7" height="1.83" fill="#cacaca"/>
<rect x="145" y="817.71" width="1347.7" height="1.83" fill="#c9c9c9"/>
<rect x="145" y="819.24" width="1347.7" height="1.83" fill="#cbcbcb"/>
<rect x="145" y="820.77" width="1347.7" height="3.97" fill="#c6c6c6"/>
<rect x="145" y="824.44" width="1347.7" height="2.14" fill="#c5c5c5"/>
<rect x="145" y="826.27" width="1347.7" height="1.22" fill="#c6c6c6"/>
<rect x="145" y="827.19" width="1347.7" height="3.56" fill="#c9c9c9"/>
<rect x="145" y="830.45" width="1347.7" height="1.93" fill="#cacaca"/>
<rect x="145" y="832.09" width="1347.7" height="10.09" fill="#c9c9c9"/>
<rect x="145" y="841.87" width="1347.7" height="1.91" fill="#c3c3c3"/>
<rect x="145" y="843.48" width="1347.7" height="5.12" fill="#c4c4c4"/>
<rect x="145" y="848.30" width="1347.7" height="1.22" fill="#bababa"/>
<rect x="145" y="849.22" width="1347.7" height="3.24" fill="#c2c2c2"/>
<rect x="145" y="852.15" width="1347.7" height="3.24" fill="#c1c1c1"/>
<rect x="145" y="855.09" width="1347.7" height="1.77" fill="#c2c2c2"/>
<rect x="145" y="856.56" width="1347.7" height="1.68" fill="#b5b5b5"/>
<rect x="145" y="857.93" width="1347.7" height="1.68" fill="#b4b4b4"/>
<rect x="145" y="859.31" width="1347.7" height="3.97" fill="#c0c0c0"/>
<rect x="145" y="862.98" width="1347.7" height="2.14" fill="#bfbfbf"/>
<rect x="145" y="864.81" width="1347.7" height="3.05" fill="#b9b9b9"/>
<rect x="145" y="867.57" width="1347.7" height="5.26" fill="#bebebe"/>
<rect x="145" y="872.52" width="1347.7" height="1.95" fill="#bfbfbf"/>
<rect x="145" y="874.17" width="1347.7" height="3.60" fill="#bebebe"/>
<rect x="145" y="877.48" width="1347.7" height="3.60" fill="#bfbfbf"/>
<rect x="145" y="880.78" width="1347.7" height="1.95" fill="#bebebe"/>
<rect x="145" y="882.43" width="1347.7" height="1.95" fill="#bfbfbf"/>
<rect x="145" y="884.09" width="1347.7" height="2.14" fill="#b5b5b5"/>
<rect x="145" y="885.92" width="1347.7" height="2.14" fill="#b3b3b3"/>
<rect x="145" y="887.76" width="1347.7" height="3.60" fill="#b6b6b6"/>
<rect x="145" y="891.06" width="1347.7" height="1.77" fill="#b9b9b9"/>
<rect x="145" y="892.53" width="1347.7" height="1.77" fill="#b6b6b6"/>
<rect x="145" y="894.00" width="1347.7" height="1.77" fill="#b8b8b8"/>
<rect x="145" y="895.46" width="1347.7" height="1.77" fill="#b6b6b6"/>
<rect x="145" y="896.93" width="1347.7" height="1.87" fill="#aaaaaa"/>
<rect x="145" y="898.51" width="1347.7" height="1.87" fill="#a8a8a8"/>
<rect x="145" y="900.08" width="1347.7" height="1.87" fill="#aaaaaa"/>
<rect x="145" y="901.65" width="1347.7" height="1.87" fill="#a8a8a8"/>
<rect x="145" y="903.22" width="1347.7" height="1.87" fill="#aaaaaa"/>
<rect x="145" y="904.80" width="1347.7" height="1.87" fill="#a8a8a8"/>
<rect x="145" y="906.37" width="1347.7" height="1.87" fill="#ababab"/>
<rect x="145" y="907.94" width="1347.7" height="1.87" fill="#adadad"/>
<rect x="145" y="909.52" width="1347.7" height="1.87" fill="#b0b0b0"/>
<rect x="145" y="911.09" width="1347.7" height="1.87" fill="#adadad"/>
<rect x="145" y="912.66" width="1347.7" height="1.87" fill="#b0b0b0"/>
<rect x="145" y="914.24" width="1347.7" height="1.87" fill="#aeaeae"/>
<rect x="145" y="915.81" width="1347.7" height="1.87" fill="#b0b0b0"/>
<rect x="145" y="917.38" width="1347.7" height="1.87" fill="#aeaeae"/>
<rect x="145" y="918.96" width="1347.7" height="1.83" fill="#aaaaaa"/>
<rect x="145" y="920.48" width="1347.7" height="1.83" fill="#a8a8a8"/>
<rect x="145" y="922.01" width="1347.7" height="1.83" fill="#aaaaaa"/>
<rect x="145" y="923.54" width="1347.7" height="1.83" fill="#a8a8a8"/>
<rect x="145" y="925.07" width="1347.7" height="1.83" fill="#aaaaaa"/>
<rect x="145" y="926.60" width="1347.7" height="1.83" fill="#a8a8a8"/>
<rect x="145" y="928.13" width="1347.7" height="1.97" fill="#adadad"/>
<rect x="145" y="929.80" width="1347.7" height="1.97" fill="#aaaaaa"/>
<rect x="145" y="931.47" width="1347.7" height="1.97" fill="#adadad"/>
<rect x="145" y="933.14" width="1347.7" height="1.97" fill="#aaaaaa"/>
<rect x="145" y="934.81" width="1347.7" height="1.97" fill="#adadad"/>
<rect x="145" y="936.47" width="1347.7" height="1.97" fill="#aaaaaa"/>
<rect x="145" y="938.14" width="1347.7" height="1.97" fill="#acacac"/>
<rect x="145" y="939.81" width="1347.7" height="1.97" fill="#aaaaaa"/>
<rect x="145" y="941.48" width="1347.7" height="1.97" fill="#acacac"/>
<rect x="145" y="943.15" width="1347.7" height="1.97" fill="#aaaaaa"/>
<rect x="145" y="944.82" width="1347.7" height="1.97" fill="#adadad"/>
<rect x="145" y="946.48" width="1347.7" height="2.14" fill="#acacac"/>
<rect x="145" y="948.32" width="1347.7" height="2.14" fill="#afafaf"/>
<rect x="145" y="950.15" width="1347.7" height="3.70" fill="#acacac"/>
<rect x="145" y="953.55" width="1347.7" height="1.86" fill="#aaaaaa"/>
<rect x="145" y="955.11" width="1347.7" height="1.86" fill="#acacac"/>
<rect x="145" y="956.67" width="1347.7" height="1.86" fill="#a9a9a9"/>
<rect x="145" y="958.23" width="1347.7" height="1.86" fill="#acacac"/>
<rect x="145" y="959.79" width="1347.7" height="1.86" fill="#a9a9a9"/>
<rect x="145" y="961.35" width="1347.7" height="1.86" fill="#acacac"/>
<rect x="145" y="962.91" width="1347.7" height="1.86" fill="#aaaaaa"/>
<rect x="145" y="964.47" width="1347.7" height="1.86" fill="#acacac"/>
<rect x="145" y="966.03" width="1347.7" height="1.86" fill="#aaaaaa"/>
<rect x="145" y="967.59" width="1347.7" height="2.14" fill="#a5a5a5"/>
<rect x="145" y="969.43" width="1347.7" height="2.14" fill="#a4a4a4"/>
<rect x="145" y="971.26" width="1347.7" height="2.14" fill="#a3a3a3"/>
<rect x="145" y="973.10" width="1347.7" height="3.60" fill="#9a9a9a"/>
<rect x="145" y="976.40" width="1347.7" height="1.95" fill="#999999"/>
<rect x="145" y="978.05" width="1347.7" height="1.95" fill="#979797"/>
<rect x="145" y="979.70" width="1347.7" height="3.51" fill="#969696"/>
<rect x="145" y="982.91" width="1347.7" height="3.42" fill="#979797"/>
<rect x="145" y="986.03" width="1347.7" height="3.42" fill="#969696"/>
<rect x="145" y="989.15" width="1347.7" height="1.86" fill="#979797"/>
<rect x="145" y="990.71" width="1347.7" height="1.86" fill="#969696"/>
<rect x="145" y="992.27" width="1347.7" height="4.98" fill="#959595"/>
<rect x="145" y="996.95" width="1347.7" height="0.39" fill="#949494"/>
<rect x="145" y="997.05" width="1347.7" height="1.99" fill="#8f8f8f"/>
<rect x="145" y="998.74" width="1347.7" height="1.99" fill="#8d8d8d"/>
<rect x="145" y="1000.43" width="1347.7" height="3.68" fill="#8c8c8c"/>
<rect x="145" y="1003.81" width="1347.7" height="3.68" fill="#8a8a8a"/>
<rect x="145" y="1007.19" width="1347.7" height="1.99" fill="#888888"/>
<rect x="145" y="1008.88" width="1347.7" height="2.02" fill="#868686"/>
<rect x="145" y="1010.60" width="1347.7" height="3.74" fill="#858585"/>
<rect x="145" y="1014.05" width="1347.7" height="2.02" fill="#848484"/>
<rect x="145" y="1015.77" width="1347.7" height="2.02" fill="#838383"/>
<rect x="145" y="1017.49" width="1347.7" height="2.02" fill="#828282"/>
<rect x="145" y="1019.21" width="1347.7" height="2.02" fill="#818181"/>
<rect x="145" y="1020.93" width="1347.7" height="3.55" fill="#7f7f7f"/>
<rect x="145" y="1024.18" width="1347.7" height="1.83" fill="#7c7c7c"/>
<rect x="145" y="1025.71" width="1347.7" height="1.83" fill="#7b7b7b"/>
<rect x="145" y="1027.24" width="1347.7" height="2.14" fill="#797979"/>
<rect x="145" y="1029.07" width="1347.7" height="2.14" fill="#787878"/>
<rect x="145" y="1030.91" width="1347.7" height="3.97" fill="#777777"/>
<rect x="145" y="1034.58" width="1347.7" height="3.97" fill="#767676"/>
<rect x="145" y="1038.25" width="1347.7" height="1.83" fill="#737373"/>
<rect x="145" y="1039.78" width="1347.7" height="1.83" fill="#717171"/>
<rect x="145" y="1041.31" width="1347.7" height="1.83" fill="#727272"/>
<rect x="145" y="1042.84" width="1347.7" height="2.14" fill="#747474"/>
<rect x="145" y="1044.67" width="1347.7" height="3.97" fill="#6c6c6c"/>
<rect x="145" y="1048.34" width="1347.7" height="10.24" fill="#696969"/>
<rect x="145" y="1058.28" width="1347.7" height="3.66" fill="#686868"/>
<rect x="145" y="1061.65" width="1347.7" height="0.76" fill="#666666"/>
<rect x="145" y="1062.11" width="1347.7" height="1.68" fill="#6b6b6b"/>
<rect x="145" y="1063.48" width="1347.7" height="1.98" fill="#616161"/>
<rect x="145" y="1065.17" width="1347.7" height="1.98" fill="#606060"/>
<rect x="145" y="1066.85" width="1347.7" height="1.98" fill="#5f5f5f"/>
<rect x="145" y="1068.53" width="1347.7" height="1.91" fill="#5e5e5e"/>
<rect x="145" y="1070.14" width="1347.7" height="3.51" fill="#5c5c5c"/>
<rect x="145" y="1073.35" width="1347.7" height="1.91" fill="#5b5b5b"/>
<rect x="145" y="1074.95" width="1347.7" height="3.33" fill="#595959"/>
<rect x="145" y="1077.98" width="1347.7" height="4.84" fill="#585858"/>
<rect x="145" y="1082.52" width="1347.7" height="1.91" fill="#565656"/>
<rect x="145" y="1084.13" width="1347.7" height="3.05" fill="#5e5e5e"/>
<rect x="145" y="1086.88" width="1347.7" height="3.49" fill="#515151"/>
<rect x="145" y="1090.08" width="1347.7" height="1.90" fill="#525252"/>
<rect x="145" y="1091.67" width="1347.7" height="1.90" fill="#505050"/>
<rect x="145" y="1093.27" width="1347.7" height="1.90" fill="#515151"/>
<rect x="145" y="1094.87" width="1347.7" height="2.41" fill="#6d6d6d"/>
<rect x="145" y="1096.98" width="1347.7" height="2.14" fill="#4f4f4f"/>
<rect x="145" y="1098.81" width="1347.7" height="2.14" fill="#4e4e4e"/>
<rect x="145" y="1100.65" width="1347.7" height="2.14" fill="#636363"/>
<rect x="145" y="1102.48" width="1347.7" height="3.97" fill="#4e4e4e"/>
<rect x="145" y="1106.15" width="1347.7" height="1.83" fill="#535353"/>
<rect x="145" y="1107.68" width="1347.7" height="1.83" fill="#525252"/>
<rect x="145" y="1109.21" width="1347.7" height="1.83" fill="#535353"/>
<rect x="145" y="1110.74" width="1347.7" height="3.97" fill="#585858"/>
<rect x="145" y="1114.41" width="1347.7" height="2.14" fill="#989898"/>
<rect x="145" y="1116.25" width="1347.7" height="2.14" fill="#646464"/>
<rect x="145" y="1118.08" width="1347.7" height="1.22" fill="#5b5b5b"/>
<g style="mix-blend-mode:difference">
<rect x="145.10" y="628.9" width="27.25" height="491.1" fill="url(#d0)"/>
<rect x="172.05" y="628.9" width="27.25" height="491.1" fill="url(#d1)"/>
<rect x="199.00" y="628.9" width="27.25" height="491.1" fill="url(#d2)"/>
<rect x="225.96" y="628.9" width="27.25" height="491.1" fill="url(#d3)"/>
<rect x="252.91" y="628.9" width="27.25" height="491.1" fill="url(#d4)"/>
<rect x="279.86" y="628.9" width="27.25" height="491.1" fill="url(#d5)"/>
<rect x="306.81" y="628.9" width="27.25" height="491.1" fill="url(#d6)"/>
<rect x="333.76" y="628.9" width="27.25" height="491.1" fill="url(#d7)"/>
<rect x="360.72" y="628.9" width="27.25" height="491.1" fill="url(#d8)"/>
<rect x="387.67" y="628.9" width="27.25" height="491.1" fill="url(#d9)"/>
<rect x="414.62" y="628.9" width="27.25" height="491.1" fill="url(#d10)"/>
<rect x="441.57" y="628.9" width="27.25" height="491.1" fill="url(#d11)"/>
<rect x="468.52" y="628.9" width="27.25" height="491.1" fill="url(#d12)"/>
<rect x="495.48" y="628.9" width="27.25" height="491.1" fill="url(#d13)"/>
<rect x="522.43" y="628.9" width="27.25" height="491.1" fill="url(#d14)"/>
<rect x="549.38" y="628.9" width="27.25" height="491.1" fill="url(#d15)"/>
<rect x="576.33" y="628.9" width="27.25" height="491.1" fill="url(#d16)"/>
<rect x="603.28" y="628.9" width="27.25" height="491.1" fill="url(#d17)"/>
<rect x="630.24" y="628.9" width="27.25" height="491.1" fill="url(#d18)"/>
<rect x="657.19" y="628.9" width="27.25" height="491.1" fill="url(#d19)"/>
<rect x="684.14" y="628.9" width="54.20" height="491.1" fill="url(#d20)"/>
<rect x="738.04" y="628.9" width="27.25" height="491.1" fill="url(#d21)"/>
<rect x="765.00" y="628.9" width="27.25" height="491.1" fill="url(#d22)"/>
<rect x="791.95" y="628.9" width="54.20" height="491.1" fill="url(#d23)"/>
<rect x="845.85" y="628.9" width="54.20" height="491.1" fill="url(#d24)"/>
<rect x="899.76" y="628.9" width="27.25" height="491.1" fill="url(#d25)"/>
<rect x="926.71" y="628.9" width="27.25" height="491.1" fill="url(#d26)"/>
<rect x="953.66" y="628.9" width="27.25" height="491.1" fill="url(#d27)"/>
<rect x="980.61" y="628.9" width="27.25" height="491.1" fill="url(#d28)"/>
<rect x="1007.56" y="628.9" width="27.25" height="491.1" fill="url(#d29)"/>
<rect x="1034.52" y="628.9" width="27.25" height="491.1" fill="url(#d30)"/>
<rect x="1061.47" y="628.9" width="27.25" height="491.1" fill="url(#d31)"/>
<rect x="1088.42" y="628.9" width="54.20" height="491.1" fill="url(#d32)"/>
<rect x="1142.32" y="628.9" width="54.20" height="491.1" fill="url(#d33)"/>
<rect x="1196.23" y="628.9" width="27.25" height="491.1" fill="url(#d34)"/>
<rect x="1223.18" y="628.9" width="27.25" height="491.1" fill="url(#d35)"/>
<rect x="1250.13" y="628.9" width="27.25" height="491.1" fill="url(#d36)"/>
<rect x="1277.08" y="628.9" width="54.20" height="491.1" fill="url(#d37)"/>
<rect x="1330.99" y="628.9" width="27.25" height="491.1" fill="url(#d38)"/>
<rect x="1357.94" y="628.9" width="27.25" height="491.1" fill="url(#d39)"/>
<rect x="1384.89" y="628.9" width="27.25" height="491.1" fill="url(#d40)"/>
<rect x="1411.84" y="628.9" width="27.25" height="491.1" fill="url(#d41)"/>
<rect x="1438.80" y="628.9" width="27.25" height="491.1" fill="url(#d42)"/>
<rect x="1465.75" y="628.9" width="27.25" height="491.1" fill="url(#d43)"/>
</g></g></g>
<g class="d">
<rect x="765.0" y="627.9" width="27.0" height="493.1" fill="#fff"/>
<rect x="145.1" y="938.0" width="27.0" height="5.0" fill="#fff"/>
<rect x="172.1" y="938.0" width="53.9" height="3.0" fill="#fff"/>
<rect x="226.0" y="938.0" width="27.0" height="5.0" fill="#fff"/>
<rect x="252.9" y="940.0" width="53.9" height="3.0" fill="#fff"/>
<rect x="387.7" y="938.0" width="27.0" height="3.0" fill="#fff"/>
<rect x="145.1" y="955.0" width="80.9" height="3.0" fill="#fff"/>
<rect x="738.0" y="961.0" width="27.0" height="4.0" fill="#fff"/>
<rect x="738.0" y="969.0" width="27.0" height="4.0" fill="#fff"/>
<rect x="1007.6" y="938.0" width="27.0" height="3.0" fill="#fff"/>
<rect x="1007.6" y="955.0" width="27.0" height="3.0" fill="#fff"/>
<rect x="1007.6" y="961.0" width="27.0" height="4.0" fill="#fff"/>
<rect x="1007.6" y="969.0" width="27.0" height="4.0" fill="#fff"/>
<rect x="1169.3" y="938.0" width="27.0" height="3.0" fill="#fff"/>
<rect x="1169.3" y="955.0" width="27.0" height="3.0" fill="#fff"/>
<rect x="1169.3" y="969.0" width="27.0" height="4.0" fill="#fff"/>
<rect x="1411.8" y="969.0" width="80.9" height="4.0" fill="#fff"/>
<rect x="899.8" y="1054.0" width="27.0" height="7.0" fill="#fff"/>
<rect x="199.0" y="1114.0" width="27.0" height="2.0" fill="#fff"/>
<rect x="738.0" y="1114.0" width="27.0" height="2.0" fill="#fff"/>
<rect x="1007.6" y="1114.0" width="27.0" height="2.0" fill="#fff"/>
<rect x="199.0" y="628.9" width="27.0" height="15.1" fill="#fff"/>
</g>
<rect x="144" y="36.0" width="1349" height="552.0" fill="none" stroke="#000" stroke-width="2" class="d"/>
<path d="M172.5 37.0v7M172.5 587.0v-7M307.5 37.0v7M307.5 587.0v-7M442.5 37.0v7M442.5 587.0v-7M576.5 37.0v7M576.5 587.0v-7M711.5 37.0v7M711.5 587.0v-7M845.5 37.0v7M845.5 587.0v-7M980.5 37.0v7M980.5 587.0v-7M1115.5 37.0v7M1115.5 587.0v-7M1250.5 37.0v7M1250.5 587.0v-7M1384.5 37.0v7M1384.5 587.0v-7M239.5 37.0v4M239.5 587.0v-4M374.5 37.0v4M374.5 587.0v-4M509.5 37.0v4M509.5 587.0v-4M643.5 37.0v4M643.5 587.0v-4M778.5 37.0v4M778.5 587.0v-4M913.5 37.0v4M913.5 587.0v-4M1047.5 37.0v4M1047.5 587.0v-4M1182.5 37.0v4M1182.5 587.0v-4M1317.5 37.0v4M1317.5 587.0v-4M1452.5 37.0v4M1452.5 587.0v-4M143 75.2h-8M143 47.7h-4M143 130.2h-8M143 102.7h-4M143 185.3h-8M143 157.8h-4M143 240.3h-8M143 212.8h-4M143 295.4h-8M143 267.9h-4M143 350.4h-8M143 322.9h-4M143 405.5h-8M143 378.0h-4M143 460.5h-8M143 433.0h-4M143 515.6h-8M143 488.1h-4M143 570.6h-8M143 543.1h-4M1495 47.5h4M1495 65.2h4M1495 82.9h8M1495 100.6h4M1495 118.3h4M1495 136.0h4M1495 153.7h4M1495 171.4h8M1495 189.1h4M1495 206.8h4M1495 224.5h4M1495 242.2h4M1495 259.9h8M1495 277.6h4M1495 295.3h4M1495 313.0h4M1495 330.7h4M1495 348.4h8M1495 366.1h4M1495 383.8h4M1495 401.5h4M1495 419.2h4M1495 436.9h8M1495 454.6h4M1495 472.3h4M1495 490.0h4M1495 507.7h4M1495 525.4h8M1495 543.1h4M1495 560.8h4M1495 578.5h4" stroke="#000" stroke-width="1" fill="none" class="d"/>
<rect x="144" y="619.0" width="1349" height="507.0" fill="none" stroke="#000" stroke-width="2" class="d"/>
<path d="M172.5 620.0v7M172.5 1125.0v-7M172.5 1128.0v8M307.5 620.0v7M307.5 1125.0v-7M307.5 1128.0v8M442.5 620.0v7M442.5 1125.0v-7M442.5 1128.0v8M576.5 620.0v7M576.5 1125.0v-7M576.5 1128.0v8M711.5 620.0v7M711.5 1125.0v-7M711.5 1128.0v8M845.5 620.0v7M845.5 1125.0v-7M845.5 1128.0v8M980.5 620.0v7M980.5 1125.0v-7M980.5 1128.0v8M1115.5 620.0v7M1115.5 1125.0v-7M1115.5 1128.0v8M1250.5 620.0v7M1250.5 1125.0v-7M1250.5 1128.0v8M1384.5 620.0v7M1384.5 1125.0v-7M1384.5 1128.0v8M239.5 620.0v4M239.5 1125.0v-4M239.5 1128.0v4M374.5 620.0v4M374.5 1125.0v-4M374.5 1128.0v4M509.5 620.0v4M509.5 1125.0v-4M509.5 1128.0v4M643.5 620.0v4M643.5 1125.0v-4M643.5 1128.0v4M778.5 620.0v4M778.5 1125.0v-4M778.5 1128.0v4M913.5 620.0v4M913.5 1125.0v-4M913.5 1128.0v4M1047.5 620.0v4M1047.5 1125.0v-4M1047.5 1128.0v4M1182.5 620.0v4M1182.5 1125.0v-4M1182.5 1128.0v4M1317.5 620.0v4M1317.5 1125.0v-4M1317.5 1128.0v4M1452.5 620.0v4M1452.5 1125.0v-4M1452.5 1128.0v4M143 655.9h-8M143 630.6h-4M143 706.3h-8M143 681.1h-4M143 756.8h-8M143 731.6h-4M143 807.3h-8M143 782.0h-4M143 857.8h-8M143 832.5h-4M143 908.2h-8M143 883.0h-4M143 958.7h-8M143 933.5h-4M143 1009.2h-8M143 983.9h-4M143 1059.7h-8M143 1034.4h-4M143 1110.1h-8M143 1084.9h-4M1495 629.5h4M1495 645.8h4M1495 662.0h8M1495 678.3h4M1495 694.6h4M1495 710.8h4M1495 727.1h4M1495 743.4h8M1495 759.6h4M1495 775.9h4M1495 792.2h4M1495 808.4h4M1495 824.7h8M1495 841.0h4M1495 857.2h4M1495 873.5h4M1495 889.8h4M1495 906.0h8M1495 922.3h4M1495 938.6h4M1495 954.8h4M1495 971.1h4M1495 987.4h8M1495 1003.6h4M1495 1019.9h4M1495 1036.2h4M1495 1052.4h4M1495 1068.7h8M1495 1085.0h4M1495 1101.2h4M1495 1117.5h4" stroke="#000" stroke-width="1" fill="none" class="d"/>
<defs><linearGradient id="cb" x1="0" y1="0" x2="0" y2="1"><stop offset="0" stop-color="#f00"/><stop offset=".2" stop-color="#ff0"/><stop offset=".4" stop-color="#0f0"/><stop offset=".6" stop-color="#0ff"/><stop offset=".8" stop-color="#00f"/><stop offset="1" stop-color="#f0f"/></linearGradient></defs>
<rect x="1527" y="23.0" width="10" height="477.5" fill="url(#cb)"/>
<path d="M1526.5 501.5V22.5H1537M1526 501.0H1538" stroke="#000" stroke-width="1" fill="none" class="d"/>
<path d="M1538 22.0V501.5" stroke="#000" stroke-width="2" fill="none" class="d"/>
<path d="M1539 22.5h8M1539 70.3h4M1539 50.2h4M1539 38.2h4M1539 29.6h4M1539 90.9h8M1539 138.8h4M1539 118.7h4M1539 106.6h4M1539 98.1h4M1539 159.4h8M1539 207.2h4M1539 187.1h4M1539 175.0h4M1539 166.5h4M1539 227.8h8M1539 275.6h4M1539 255.5h4M1539 243.5h4M1539 234.9h4M1539 296.2h8M1539 344.0h4M1539 323.9h4M1539 311.9h4M1539 303.3h4M1539 364.6h8M1539 412.5h4M1539 392.4h4M1539 380.3h4M1539 371.8h4M1539 433.1h8M1539 480.9h4M1539 460.8h4M1539 448.8h4M1539 440.2h4M1539 501.5h8" stroke="#000" stroke-width="1" fill="none" class="d"/>
<rect x="1527" y="603.0" width="10" height="441.5" fill="url(#cb)"/>
<path d="M1526.5 1045.5V602.5H1537M1526 1045.0H1538" stroke="#000" stroke-width="1" fill="none" class="d"/>
<path d="M1538 602.0V1045.5" stroke="#000" stroke-width="2" fill="none" class="d"/>
<path d="M1539 602.5h8M1539 646.7h4M1539 628.2h4M1539 617.0h4M1539 609.1h4M1539 665.8h8M1539 710.0h4M1539 691.5h4M1539 680.3h4M1539 672.4h4M1539 729.1h8M1539 773.3h4M1539 754.8h4M1539 743.6h4M1539 735.7h4M1539 792.4h8M1539 836.6h4M1539 818.0h4M1539 806.9h4M1539 799.0h4M1539 855.6h8M1539 899.9h4M1539 881.3h4M1539 870.2h4M1539 862.3h4M1539 918.9h8M1539 963.2h4M1539 944.6h4M1539 933.5h4M1539 925.6h4M1539 982.2h8M1539 1026.4h4M1539 1007.9h4M1539 996.8h4M1539 988.8h4M1539 1045.5h8" stroke="#000" stroke-width="1" fill="none" class="d"/>
</svg><svg width="1600" height="1200" viewBox="0 0 1600 1200" style="opacity:.999">
<text x="1550.6" y="27.0">10<tspan class="s" dy="-6">10</tspan></text>
<text x="1550.6" y="95.4">10<tspan class="s" dy="-6">9</tspan></text>
<text x="1550.6" y="163.9">10<tspan class="s" dy="-6">8</tspan></text>
<text x="1550.6" y="232.3">10<tspan class="s" dy="-6">7</tspan></text>
<text x="1550.6" y="300.7">10<tspan class="s" dy="-6">6</tspan></text>
<text x="1550.6" y="369.1">10<tspan class="s" dy="-6">5</tspan></text>
<text x="1550.6" y="437.6">10<tspan class="s" dy="-6">4</tspan></text>
<text x="1550.6" y="506.0">10<tspan class="s" dy="-6">3</tspan></text>
<text x="1516" y="13.7">IRAD</text>
<text x="1550.6" y="607.7">10<tspan class="s" dy="-6">10</tspan></text>
<text x="1550.6" y="671.0">10<tspan class="s" dy="-6">9</tspan></text>
<text x="1550.6" y="734.3">10<tspan class="s" dy="-6">8</tspan></text>
<text x="1550.6" y="797.6">10<tspan class="s" dy="-6">7</tspan></text>
<text x="1550.6" y="860.8">10<tspan class="s" dy="-6">6</tspan></text>
<text x="1550.6" y="924.1">10<tspan class="s" dy="-6">5</tspan></text>
<text x="1550.6" y="987.4">10<tspan class="s" dy="-6">4</tspan></text>
<text x="1550.6" y="1050.7">10<tspan class="s" dy="-6">3</tspan></text>
<text x="1516" y="588.6">IRAD</text>
<text x="762.3" y="22.7" text-anchor="middle">SOLSTICE/Solar Spectrum</text>
<text x="762.3" y="606" text-anchor="middle">SOLSTICE/Std Dev Solar Spectrum</text>
<text x="129.5" y="79.8" text-anchor="end">404.3</text>
<text x="129.5" y="134.8" text-anchor="end">373.2</text>
<text x="129.5" y="189.9" text-anchor="end">342.1</text>
<text x="129.5" y="244.9" text-anchor="end">311</text>
<text x="129.5" y="300.0" text-anchor="end">279.9</text>
<text x="129.5" y="355.1" text-anchor="end">248.8</text>
<text x="129.5" y="410.1" text-anchor="end">217.7</text>
<text x="129.5" y="465.1" text-anchor="end">186.6</text>
<text x="129.5" y="520.2" text-anchor="end">155.5</text>
<text x="129.5" y="575.2" text-anchor="end">124.4</text>
<text x="129.5" y="660.5" text-anchor="end">404.3</text>
<text x="129.5" y="710.9" text-anchor="end">373.2</text>
<text x="129.5" y="761.4" text-anchor="end">342.1</text>
<text x="129.5" y="811.9" text-anchor="end">311</text>
<text x="129.5" y="862.4" text-anchor="end">279.9</text>
<text x="129.5" y="912.8" text-anchor="end">248.8</text>
<text x="129.5" y="963.3" text-anchor="end">217.7</text>
<text x="129.5" y="1013.8" text-anchor="end">186.6</text>
<text x="129.5" y="1064.3" text-anchor="end">155.5</text>
<text x="129.5" y="1114.7" text-anchor="end">124.4</text>
<text transform="translate(22.8 312) rotate(-90)" text-anchor="middle">Wavelength</text>
<text transform="translate(40.4 312) rotate(-90)" text-anchor="middle">(nm)</text>
<text transform="translate(22.8 872) rotate(-90)" text-anchor="middle">Wavelength</text>
<text transform="translate(40.4 872) rotate(-90)" text-anchor="middle">(nm)</text>
<text transform="translate(1575.8 299) rotate(90)" text-anchor="middle">Watts/(m<tspan class="s" dy="-5">2</tspan><tspan dy="5"> m)</tspan></text>
<text transform="translate(1575.8 852) rotate(90)" text-anchor="middle">Watts/(m<tspan class="s" dy="-5">2</tspan><tspan dy="5"> m)</tspan></text>
<text x="171.8" y="1153.6" text-anchor="middle">Nov-12 00</text>
<text x="306.5" y="1153.6" text-anchor="middle">Nov-17 00</text>
<text x="441.1" y="1153.6" text-anchor="middle">Nov-22 00</text>
<text x="575.8" y="1153.6" text-anchor="middle">Nov-27 00</text>
<text x="710.5" y="1153.6" text-anchor="middle">Dec-02 00</text>
<text x="845.1" y="1153.6" text-anchor="middle">Dec-07 00</text>
<text x="979.8" y="1153.6" text-anchor="middle">Dec-12 00</text>
<text x="1114.5" y="1153.6" text-anchor="middle">Dec-17 00</text>
<text x="1249.2" y="1153.6" text-anchor="middle">Dec-22 00</text>
<text x="1383.8" y="1153.6" text-anchor="middle">Dec-27 00</text>
<text x="41" y="1154.6">1991</text>
<text x="10" y="1190.6" class="f">Plot created by SDDAS/gPlot - J. Mukherjee, et al.&#160; Generated on Thu Mar 5 19:29:42 2026.</text>
</svg></body></html>
